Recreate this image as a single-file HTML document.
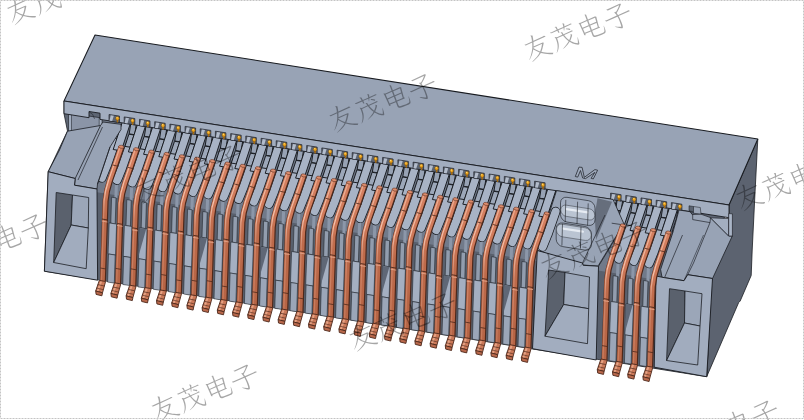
<!DOCTYPE html><html><head><meta charset="utf-8"><style>html,body{margin:0;padding:0;background:#fff}svg{display:block}</style></head><body><svg width="804" height="420" viewBox="0 0 804 420">
<defs><linearGradient id="cg" x1="0" y1="0" x2="0" y2="1"><stop offset="0" stop-color="#d58061"/><stop offset="0.28" stop-color="#cf7959"/><stop offset="0.5" stop-color="#bd6a4a"/><stop offset="1" stop-color="#b66445"/></linearGradient><linearGradient id="ch" x1="0" y1="0" x2="0" y2="1"><stop offset="0" stop-color="#eaa88c"/><stop offset="0.3" stop-color="#f4c4ae"/><stop offset="0.5" stop-color="#d0866a"/><stop offset="1" stop-color="#c67a5b"/></linearGradient></defs>
<rect width="804" height="420" fill="#fff"/>
<polygon points="729.0,205.0 757.8,139.0 755.0,193.0 752.2,250.0 751.2,275.5 740.2,301.0 738.7,302.5 706.7,376.7 711.5,280.0 716.0,240.0 729.0,217.0" fill="#5c6370" stroke="#181b20" stroke-width="0.78" stroke-linejoin="round" />
<polygon points="64.0,101.0 729.0,205.0 716.0,240.0 711.5,280.0 706.7,376.7 44.4,271.2 48.2,171.7 67.5,131.0 64.0,113.7" fill="#5d6573" stroke="#181b20" stroke-width="0.78" stroke-linejoin="round" />
<polygon points="95.0,35.0 757.8,139.0 729.0,205.0 64.0,101.0" fill="#98a3b5" stroke="#181b20" stroke-width="1.04" stroke-linejoin="round" />
<polygon points="97.0,166.2 538.0,235.2 538.0,349.4 97.0,279.5" fill="#59606d" stroke="none" stroke-width="0.7" stroke-linejoin="round" />
<polygon points="97.0,118.2 538.0,187.2 538.0,261.2 97.0,192.2" fill="#717a8a" stroke="none" stroke-width="0.7" stroke-linejoin="round" />
<polygon points="598.0,244.6 656.0,253.7 656.0,368.1 598.0,358.9" fill="#59606d" stroke="none" stroke-width="0.7" stroke-linejoin="round" />
<polygon points="598.0,196.6 656.0,205.7 656.0,279.7 598.0,270.6" fill="#717a8a" stroke="none" stroke-width="0.7" stroke-linejoin="round" />
<polygon points="115.0,181.6 118.0,182.1 117.4,198.1 114.4,197.6" fill="#8c97a9" stroke="none" stroke-width="0" stroke-linejoin="round" />
<polygon points="111.6,197.2 116.0,197.9 115.2,223.9 110.8,223.2" fill="#929dae" stroke="#181b20" stroke-width="0.52" stroke-linejoin="round" />
<polygon points="109.2,222.9 116.6,224.1 115.5,255.1 108.1,253.9" fill="#a4afc1" stroke="#181b20" stroke-width="0.52" stroke-linejoin="round" />
<polygon points="108.5,254.0 115.2,255.0 114.3,283.1 107.6,282.1" fill="#9ba6b8" stroke="#181b20" stroke-width="0.52" stroke-linejoin="round" />
<polygon points="130.2,184.0 133.2,184.5 132.6,200.5 129.6,200.0" fill="#8c97a9" stroke="none" stroke-width="0" stroke-linejoin="round" />
<polygon points="126.8,199.6 131.2,200.3 130.4,226.3 126.0,225.6" fill="#929dae" stroke="#181b20" stroke-width="0.52" stroke-linejoin="round" />
<polygon points="124.4,225.3 131.8,226.5 130.7,257.5 123.3,256.3" fill="#a4afc1" stroke="#181b20" stroke-width="0.52" stroke-linejoin="round" />
<polygon points="123.7,256.4 130.4,257.4 129.5,285.5 122.8,284.5" fill="#9ba6b8" stroke="#181b20" stroke-width="0.52" stroke-linejoin="round" />
<polygon points="145.4,186.4 148.4,186.9 147.8,202.9 144.8,202.4" fill="#8c97a9" stroke="none" stroke-width="0" stroke-linejoin="round" />
<polygon points="142.0,201.9 146.4,202.6 145.6,228.6 141.2,227.9" fill="#929dae" stroke="#181b20" stroke-width="0.52" stroke-linejoin="round" />
<polygon points="139.6,227.7 147.0,228.9 145.9,259.9 138.5,258.7" fill="#a4afc1" stroke="#181b20" stroke-width="0.52" stroke-linejoin="round" />
<polygon points="138.9,258.8 145.6,259.8 144.7,287.9 138.0,286.9" fill="#9ba6b8" stroke="#181b20" stroke-width="0.52" stroke-linejoin="round" />
<polygon points="139.6,228.0 146.2,229.0 138.6,255.8" fill="#5f6776" stroke="none" stroke-width="0.7" stroke-linejoin="round" />
<polygon points="160.6,188.8 163.6,189.2 163.0,205.2 160.0,204.8" fill="#8c97a9" stroke="none" stroke-width="0" stroke-linejoin="round" />
<polygon points="157.2,204.3 161.6,205.0 160.8,231.0 156.4,230.3" fill="#929dae" stroke="#181b20" stroke-width="0.52" stroke-linejoin="round" />
<polygon points="154.8,230.1 162.2,231.2 161.1,262.2 153.7,261.1" fill="#a4afc1" stroke="#181b20" stroke-width="0.52" stroke-linejoin="round" />
<polygon points="154.1,261.1 160.8,262.2 159.9,290.3 153.2,289.2" fill="#9ba6b8" stroke="#181b20" stroke-width="0.52" stroke-linejoin="round" />
<polygon points="175.8,191.1 178.8,191.6 178.2,207.6 175.2,207.1" fill="#8c97a9" stroke="none" stroke-width="0" stroke-linejoin="round" />
<polygon points="172.4,206.7 176.8,207.4 176.0,233.4 171.6,232.7" fill="#929dae" stroke="#181b20" stroke-width="0.52" stroke-linejoin="round" />
<polygon points="170.0,232.5 177.4,233.6 176.3,264.6 168.9,263.5" fill="#a4afc1" stroke="#181b20" stroke-width="0.52" stroke-linejoin="round" />
<polygon points="169.3,263.5 176.0,264.6 175.1,292.7 168.4,291.6" fill="#9ba6b8" stroke="#181b20" stroke-width="0.52" stroke-linejoin="round" />
<polygon points="191.0,193.5 194.0,194.0 193.4,210.0 190.4,209.5" fill="#8c97a9" stroke="none" stroke-width="0" stroke-linejoin="round" />
<polygon points="187.6,209.1 192.0,209.8 191.2,235.8 186.8,235.1" fill="#929dae" stroke="#181b20" stroke-width="0.52" stroke-linejoin="round" />
<polygon points="185.2,234.8 192.6,236.0 191.5,267.0 184.1,265.8" fill="#a4afc1" stroke="#181b20" stroke-width="0.52" stroke-linejoin="round" />
<polygon points="184.5,265.9 191.2,267.0 190.3,295.1 183.6,294.0" fill="#9ba6b8" stroke="#181b20" stroke-width="0.52" stroke-linejoin="round" />
<polygon points="206.2,195.9 209.2,196.4 208.6,212.4 205.6,211.9" fill="#8c97a9" stroke="none" stroke-width="0" stroke-linejoin="round" />
<polygon points="202.8,211.5 207.2,212.2 206.4,238.2 202.0,237.5" fill="#929dae" stroke="#181b20" stroke-width="0.52" stroke-linejoin="round" />
<polygon points="200.4,237.2 207.8,238.4 206.7,269.4 199.3,268.2" fill="#a4afc1" stroke="#181b20" stroke-width="0.52" stroke-linejoin="round" />
<polygon points="199.7,268.3 206.4,269.3 205.5,297.4 198.8,296.4" fill="#9ba6b8" stroke="#181b20" stroke-width="0.52" stroke-linejoin="round" />
<polygon points="200.4,237.5 207.0,238.5 199.4,265.3" fill="#5f6776" stroke="none" stroke-width="0.7" stroke-linejoin="round" />
<polygon points="221.4,198.3 224.4,198.8 223.8,214.8 220.8,214.3" fill="#8c97a9" stroke="none" stroke-width="0" stroke-linejoin="round" />
<polygon points="218.0,213.9 222.4,214.5 221.6,240.5 217.2,239.9" fill="#929dae" stroke="#181b20" stroke-width="0.52" stroke-linejoin="round" />
<polygon points="215.6,239.6 223.0,240.8 221.9,271.8 214.5,270.6" fill="#a4afc1" stroke="#181b20" stroke-width="0.52" stroke-linejoin="round" />
<polygon points="214.9,270.7 221.6,271.7 220.7,299.8 214.0,298.8" fill="#9ba6b8" stroke="#181b20" stroke-width="0.52" stroke-linejoin="round" />
<polygon points="236.6,200.7 239.6,201.1 239.0,217.1 236.0,216.7" fill="#8c97a9" stroke="none" stroke-width="0" stroke-linejoin="round" />
<polygon points="233.2,216.2 237.6,216.9 236.8,242.9 232.4,242.2" fill="#929dae" stroke="#181b20" stroke-width="0.52" stroke-linejoin="round" />
<polygon points="230.8,242.0 238.2,243.1 237.1,274.1 229.7,273.0" fill="#a4afc1" stroke="#181b20" stroke-width="0.52" stroke-linejoin="round" />
<polygon points="230.1,273.0 236.8,274.1 235.9,302.2 229.2,301.1" fill="#9ba6b8" stroke="#181b20" stroke-width="0.52" stroke-linejoin="round" />
<polygon points="251.8,203.0 254.8,203.5 254.2,219.5 251.2,219.0" fill="#8c97a9" stroke="none" stroke-width="0" stroke-linejoin="round" />
<polygon points="248.4,218.6 252.8,219.3 252.0,245.3 247.6,244.6" fill="#929dae" stroke="#181b20" stroke-width="0.52" stroke-linejoin="round" />
<polygon points="246.0,244.4 253.4,245.5 252.3,276.5 244.9,275.4" fill="#a4afc1" stroke="#181b20" stroke-width="0.52" stroke-linejoin="round" />
<polygon points="245.3,275.4 252.0,276.5 251.1,304.6 244.4,303.5" fill="#9ba6b8" stroke="#181b20" stroke-width="0.52" stroke-linejoin="round" />
<polygon points="267.0,205.4 270.0,205.9 269.4,221.9 266.4,221.4" fill="#8c97a9" stroke="none" stroke-width="0" stroke-linejoin="round" />
<polygon points="263.6,221.0 268.0,221.7 267.2,247.7 262.8,247.0" fill="#929dae" stroke="#181b20" stroke-width="0.52" stroke-linejoin="round" />
<polygon points="261.2,246.7 268.6,247.9 267.5,278.9 260.1,277.7" fill="#a4afc1" stroke="#181b20" stroke-width="0.52" stroke-linejoin="round" />
<polygon points="260.5,277.8 267.2,278.9 266.3,307.0 259.6,305.9" fill="#9ba6b8" stroke="#181b20" stroke-width="0.52" stroke-linejoin="round" />
<polygon points="261.2,247.0 267.8,248.0 260.2,274.8" fill="#5f6776" stroke="none" stroke-width="0.7" stroke-linejoin="round" />
<polygon points="282.2,207.8 285.2,208.3 284.6,224.3 281.6,223.8" fill="#8c97a9" stroke="none" stroke-width="0" stroke-linejoin="round" />
<polygon points="278.8,223.4 283.2,224.1 282.4,250.1 278.0,249.4" fill="#929dae" stroke="#181b20" stroke-width="0.52" stroke-linejoin="round" />
<polygon points="276.4,249.1 283.8,250.3 282.7,281.3 275.3,280.1" fill="#a4afc1" stroke="#181b20" stroke-width="0.52" stroke-linejoin="round" />
<polygon points="275.7,280.2 282.4,281.2 281.5,309.3 274.8,308.3" fill="#9ba6b8" stroke="#181b20" stroke-width="0.52" stroke-linejoin="round" />
<polygon points="297.4,210.2 300.4,210.7 299.8,226.7 296.8,226.2" fill="#8c97a9" stroke="none" stroke-width="0" stroke-linejoin="round" />
<polygon points="294.0,225.8 298.4,226.4 297.6,252.4 293.2,251.8" fill="#929dae" stroke="#181b20" stroke-width="0.52" stroke-linejoin="round" />
<polygon points="291.6,251.5 299.0,252.7 297.9,283.7 290.5,282.5" fill="#a4afc1" stroke="#181b20" stroke-width="0.52" stroke-linejoin="round" />
<polygon points="290.9,282.6 297.6,283.6 296.7,311.7 290.0,310.7" fill="#9ba6b8" stroke="#181b20" stroke-width="0.52" stroke-linejoin="round" />
<polygon points="312.6,212.6 315.6,213.0 315.0,229.0 312.0,228.6" fill="#8c97a9" stroke="none" stroke-width="0" stroke-linejoin="round" />
<polygon points="309.2,228.1 313.6,228.8 312.8,254.8 308.4,254.1" fill="#929dae" stroke="#181b20" stroke-width="0.52" stroke-linejoin="round" />
<polygon points="306.8,253.9 314.2,255.0 313.1,286.0 305.7,284.9" fill="#a4afc1" stroke="#181b20" stroke-width="0.52" stroke-linejoin="round" />
<polygon points="306.1,284.9 312.8,286.0 311.9,314.1 305.2,313.0" fill="#9ba6b8" stroke="#181b20" stroke-width="0.52" stroke-linejoin="round" />
<polygon points="327.8,215.0 330.8,215.4 330.2,231.4 327.2,231.0" fill="#8c97a9" stroke="none" stroke-width="0" stroke-linejoin="round" />
<polygon points="324.4,230.5 328.8,231.2 328.0,257.2 323.6,256.5" fill="#929dae" stroke="#181b20" stroke-width="0.52" stroke-linejoin="round" />
<polygon points="322.0,256.3 329.4,257.4 328.3,288.4 320.9,287.3" fill="#a4afc1" stroke="#181b20" stroke-width="0.52" stroke-linejoin="round" />
<polygon points="321.3,287.3 328.0,288.4 327.1,316.5 320.4,315.4" fill="#9ba6b8" stroke="#181b20" stroke-width="0.52" stroke-linejoin="round" />
<polygon points="322.0,256.5 328.6,257.5 321.0,284.3" fill="#5f6776" stroke="none" stroke-width="0.7" stroke-linejoin="round" />
<polygon points="343.0,217.3 346.0,217.8 345.4,233.8 342.4,233.3" fill="#8c97a9" stroke="none" stroke-width="0" stroke-linejoin="round" />
<polygon points="339.6,232.9 344.0,233.6 343.2,259.6 338.8,258.9" fill="#929dae" stroke="#181b20" stroke-width="0.52" stroke-linejoin="round" />
<polygon points="337.2,258.6 344.6,259.8 343.5,290.8 336.1,289.6" fill="#a4afc1" stroke="#181b20" stroke-width="0.52" stroke-linejoin="round" />
<polygon points="336.5,289.7 343.2,290.8 342.3,318.9 335.6,317.8" fill="#9ba6b8" stroke="#181b20" stroke-width="0.52" stroke-linejoin="round" />
<polygon points="358.2,219.7 361.2,220.2 360.6,236.2 357.6,235.7" fill="#8c97a9" stroke="none" stroke-width="0" stroke-linejoin="round" />
<polygon points="354.8,235.3 359.2,236.0 358.4,262.0 354.0,261.3" fill="#929dae" stroke="#181b20" stroke-width="0.52" stroke-linejoin="round" />
<polygon points="352.4,261.0 359.8,262.2 358.7,293.2 351.3,292.0" fill="#a4afc1" stroke="#181b20" stroke-width="0.52" stroke-linejoin="round" />
<polygon points="351.7,292.1 358.4,293.1 357.5,321.2 350.8,320.2" fill="#9ba6b8" stroke="#181b20" stroke-width="0.52" stroke-linejoin="round" />
<polygon points="373.4,222.1 376.4,222.6 375.8,238.6 372.8,238.1" fill="#8c97a9" stroke="none" stroke-width="0" stroke-linejoin="round" />
<polygon points="370.0,237.7 374.4,238.3 373.6,264.3 369.2,263.7" fill="#929dae" stroke="#181b20" stroke-width="0.52" stroke-linejoin="round" />
<polygon points="367.6,263.4 375.0,264.6 373.9,295.6 366.5,294.4" fill="#a4afc1" stroke="#181b20" stroke-width="0.52" stroke-linejoin="round" />
<polygon points="366.9,294.5 373.6,295.5 372.7,323.6 366.0,322.6" fill="#9ba6b8" stroke="#181b20" stroke-width="0.52" stroke-linejoin="round" />
<polygon points="388.6,224.5 391.6,224.9 391.0,240.9 388.0,240.5" fill="#8c97a9" stroke="none" stroke-width="0" stroke-linejoin="round" />
<polygon points="385.2,240.0 389.6,240.7 388.8,266.7 384.4,266.0" fill="#929dae" stroke="#181b20" stroke-width="0.52" stroke-linejoin="round" />
<polygon points="382.8,265.8 390.2,266.9 389.1,297.9 381.7,296.8" fill="#a4afc1" stroke="#181b20" stroke-width="0.52" stroke-linejoin="round" />
<polygon points="382.1,296.8 388.8,297.9 387.9,326.0 381.2,324.9" fill="#9ba6b8" stroke="#181b20" stroke-width="0.52" stroke-linejoin="round" />
<polygon points="382.8,266.0 389.4,267.0 381.8,293.8" fill="#5f6776" stroke="none" stroke-width="0.7" stroke-linejoin="round" />
<polygon points="403.8,226.9 406.8,227.3 406.2,243.3 403.2,242.9" fill="#8c97a9" stroke="none" stroke-width="0" stroke-linejoin="round" />
<polygon points="400.4,242.4 404.8,243.1 404.0,269.1 399.6,268.4" fill="#929dae" stroke="#181b20" stroke-width="0.52" stroke-linejoin="round" />
<polygon points="398.0,268.2 405.4,269.3 404.3,300.3 396.9,299.2" fill="#a4afc1" stroke="#181b20" stroke-width="0.52" stroke-linejoin="round" />
<polygon points="397.3,299.2 404.0,300.3 403.1,328.4 396.4,327.3" fill="#9ba6b8" stroke="#181b20" stroke-width="0.52" stroke-linejoin="round" />
<polygon points="419.0,229.2 422.0,229.7 421.4,245.7 418.4,245.2" fill="#8c97a9" stroke="none" stroke-width="0" stroke-linejoin="round" />
<polygon points="415.6,244.8 420.0,245.5 419.2,271.5 414.8,270.8" fill="#929dae" stroke="#181b20" stroke-width="0.52" stroke-linejoin="round" />
<polygon points="413.2,270.5 420.6,271.7 419.5,302.7 412.1,301.5" fill="#a4afc1" stroke="#181b20" stroke-width="0.52" stroke-linejoin="round" />
<polygon points="412.5,301.6 419.2,302.7 418.3,330.8 411.6,329.7" fill="#9ba6b8" stroke="#181b20" stroke-width="0.52" stroke-linejoin="round" />
<polygon points="434.2,231.6 437.2,232.1 436.6,248.1 433.6,247.6" fill="#8c97a9" stroke="none" stroke-width="0" stroke-linejoin="round" />
<polygon points="430.8,247.2 435.2,247.9 434.4,273.9 430.0,273.2" fill="#929dae" stroke="#181b20" stroke-width="0.52" stroke-linejoin="round" />
<polygon points="428.4,272.9 435.8,274.1 434.7,305.1 427.3,303.9" fill="#a4afc1" stroke="#181b20" stroke-width="0.52" stroke-linejoin="round" />
<polygon points="427.7,304.0 434.4,305.0 433.5,333.1 426.8,332.1" fill="#9ba6b8" stroke="#181b20" stroke-width="0.52" stroke-linejoin="round" />
<polygon points="449.4,234.0 452.4,234.5 451.8,250.5 448.8,250.0" fill="#8c97a9" stroke="none" stroke-width="0" stroke-linejoin="round" />
<polygon points="446.0,249.6 450.4,250.2 449.6,276.2 445.2,275.6" fill="#929dae" stroke="#181b20" stroke-width="0.52" stroke-linejoin="round" />
<polygon points="443.6,275.3 451.0,276.5 449.9,307.5 442.5,306.3" fill="#a4afc1" stroke="#181b20" stroke-width="0.52" stroke-linejoin="round" />
<polygon points="442.9,306.4 449.6,307.4 448.7,335.5 442.0,334.5" fill="#9ba6b8" stroke="#181b20" stroke-width="0.52" stroke-linejoin="round" />
<polygon points="443.6,275.6 450.2,276.6 442.6,303.4" fill="#5f6776" stroke="none" stroke-width="0.7" stroke-linejoin="round" />
<polygon points="464.6,236.4 467.6,236.8 467.0,252.8 464.0,252.4" fill="#8c97a9" stroke="none" stroke-width="0" stroke-linejoin="round" />
<polygon points="461.2,251.9 465.6,252.6 464.8,278.6 460.4,277.9" fill="#929dae" stroke="#181b20" stroke-width="0.52" stroke-linejoin="round" />
<polygon points="458.8,277.7 466.2,278.8 465.1,309.8 457.7,308.7" fill="#a4afc1" stroke="#181b20" stroke-width="0.52" stroke-linejoin="round" />
<polygon points="458.1,308.7 464.8,309.8 463.9,337.9 457.2,336.8" fill="#9ba6b8" stroke="#181b20" stroke-width="0.52" stroke-linejoin="round" />
<polygon points="479.8,238.8 482.8,239.2 482.2,255.2 479.2,254.8" fill="#8c97a9" stroke="none" stroke-width="0" stroke-linejoin="round" />
<polygon points="476.4,254.3 480.8,255.0 480.0,281.0 475.6,280.3" fill="#929dae" stroke="#181b20" stroke-width="0.52" stroke-linejoin="round" />
<polygon points="474.0,280.1 481.4,281.2 480.3,312.2 472.9,311.1" fill="#a4afc1" stroke="#181b20" stroke-width="0.52" stroke-linejoin="round" />
<polygon points="473.3,311.1 480.0,312.2 479.1,340.3 472.4,339.2" fill="#9ba6b8" stroke="#181b20" stroke-width="0.52" stroke-linejoin="round" />
<polygon points="495.0,241.1 498.0,241.6 497.4,257.6 494.4,257.1" fill="#8c97a9" stroke="none" stroke-width="0" stroke-linejoin="round" />
<polygon points="491.6,256.7 496.0,257.4 495.2,283.4 490.8,282.7" fill="#929dae" stroke="#181b20" stroke-width="0.52" stroke-linejoin="round" />
<polygon points="489.2,282.4 496.6,283.6 495.5,314.6 488.1,313.4" fill="#a4afc1" stroke="#181b20" stroke-width="0.52" stroke-linejoin="round" />
<polygon points="488.5,313.5 495.2,314.6 494.3,342.7 487.6,341.6" fill="#9ba6b8" stroke="#181b20" stroke-width="0.52" stroke-linejoin="round" />
<polygon points="510.2,243.5 513.2,244.0 512.6,260.0 509.6,259.5" fill="#8c97a9" stroke="none" stroke-width="0" stroke-linejoin="round" />
<polygon points="506.8,259.1 511.2,259.8 510.4,285.8 506.0,285.1" fill="#929dae" stroke="#181b20" stroke-width="0.52" stroke-linejoin="round" />
<polygon points="504.4,284.8 511.8,286.0 510.7,317.0 503.3,315.8" fill="#a4afc1" stroke="#181b20" stroke-width="0.52" stroke-linejoin="round" />
<polygon points="503.7,315.9 510.4,316.9 509.5,345.0 502.8,344.0" fill="#9ba6b8" stroke="#181b20" stroke-width="0.52" stroke-linejoin="round" />
<polygon points="504.4,285.1 511.0,286.1 503.4,312.9" fill="#5f6776" stroke="none" stroke-width="0.7" stroke-linejoin="round" />
<polygon points="525.4,245.9 528.4,246.4 527.8,262.4 524.8,261.9" fill="#8c97a9" stroke="none" stroke-width="0" stroke-linejoin="round" />
<polygon points="522.0,261.5 526.4,262.1 525.6,288.1 521.2,287.5" fill="#929dae" stroke="#181b20" stroke-width="0.52" stroke-linejoin="round" />
<polygon points="519.6,287.2 527.0,288.4 525.9,319.4 518.5,318.2" fill="#a4afc1" stroke="#181b20" stroke-width="0.52" stroke-linejoin="round" />
<polygon points="518.9,318.3 525.6,319.3 524.7,347.4 518.0,346.4" fill="#9ba6b8" stroke="#181b20" stroke-width="0.52" stroke-linejoin="round" />
<polygon points="540.6,248.3 543.6,248.7 543.0,264.7 540.0,264.3" fill="#8c97a9" stroke="none" stroke-width="0" stroke-linejoin="round" />
<polygon points="537.2,263.8 541.6,264.5 540.8,290.5 536.4,289.8" fill="#929dae" stroke="#181b20" stroke-width="0.52" stroke-linejoin="round" />
<polygon points="534.8,289.6 542.2,290.7 541.1,321.7 533.7,320.6" fill="#a4afc1" stroke="#181b20" stroke-width="0.52" stroke-linejoin="round" />
<polygon points="534.1,320.6 540.8,321.7 539.9,349.8 533.2,348.7" fill="#9ba6b8" stroke="#181b20" stroke-width="0.52" stroke-linejoin="round" />
<polygon points="616.6,260.2 619.6,260.6 619.0,276.6 616.0,276.2" fill="#8c97a9" stroke="none" stroke-width="0" stroke-linejoin="round" />
<polygon points="613.2,275.7 617.6,276.4 616.8,302.4 612.4,301.7" fill="#929dae" stroke="#181b20" stroke-width="0.52" stroke-linejoin="round" />
<polygon points="610.8,301.5 618.2,302.6 617.1,333.6 609.7,332.5" fill="#a4afc1" stroke="#181b20" stroke-width="0.52" stroke-linejoin="round" />
<polygon points="610.1,332.6 616.8,333.6 615.9,361.7 609.2,360.7" fill="#9ba6b8" stroke="#181b20" stroke-width="0.52" stroke-linejoin="round" />
<polygon points="631.8,262.6 634.8,263.0 634.2,279.0 631.2,278.6" fill="#8c97a9" stroke="none" stroke-width="0" stroke-linejoin="round" />
<polygon points="628.4,278.1 632.8,278.8 632.0,304.8 627.6,304.1" fill="#929dae" stroke="#181b20" stroke-width="0.52" stroke-linejoin="round" />
<polygon points="626.0,303.9 633.4,305.0 632.3,336.0 624.9,334.9" fill="#a4afc1" stroke="#181b20" stroke-width="0.52" stroke-linejoin="round" />
<polygon points="625.3,334.9 632.0,336.0 631.1,364.1 624.4,363.0" fill="#9ba6b8" stroke="#181b20" stroke-width="0.52" stroke-linejoin="round" />
<polygon points="626.0,304.1 632.6,305.1 625.0,331.9" fill="#5f6776" stroke="none" stroke-width="0.7" stroke-linejoin="round" />
<polygon points="647.0,264.9 650.0,265.4 649.4,281.4 646.4,280.9" fill="#8c97a9" stroke="none" stroke-width="0" stroke-linejoin="round" />
<polygon points="643.6,280.5 648.0,281.2 647.2,307.2 642.8,306.5" fill="#929dae" stroke="#181b20" stroke-width="0.52" stroke-linejoin="round" />
<polygon points="641.2,306.2 648.6,307.4 647.5,338.4 640.1,337.2" fill="#a4afc1" stroke="#181b20" stroke-width="0.52" stroke-linejoin="round" />
<polygon points="640.5,337.3 647.2,338.4 646.3,366.5 639.6,365.4" fill="#9ba6b8" stroke="#181b20" stroke-width="0.52" stroke-linejoin="round" />
<polygon points="662.2,267.3 665.2,267.8 664.6,283.8 661.6,283.3" fill="#8c97a9" stroke="none" stroke-width="0" stroke-linejoin="round" />
<polygon points="658.8,282.9 663.2,283.6 662.4,309.6 658.0,308.9" fill="#929dae" stroke="#181b20" stroke-width="0.52" stroke-linejoin="round" />
<polygon points="656.4,308.6 663.8,309.8 662.7,340.8 655.3,339.6" fill="#a4afc1" stroke="#181b20" stroke-width="0.52" stroke-linejoin="round" />
<polygon points="655.7,339.7 662.4,340.7 661.5,368.8 654.8,367.8" fill="#9ba6b8" stroke="#181b20" stroke-width="0.52" stroke-linejoin="round" />
<path d="M114.8 142.6 L106.8 165.6 Q103.4 174.1 101.8 177.8" fill="none" stroke="#181b20" stroke-width="9.5" stroke-linecap="round" stroke-linejoin="round"/>
<path d="M114.8 142.6 L106.8 165.6 Q103.4 174.1 101.8 177.8" fill="none" stroke="#a8b3c5" stroke-width="8.0" stroke-linecap="round" stroke-linejoin="round"/>
<path d="M130.0 145.0 L122.0 168.0 Q118.6 176.5 117.0 180.2" fill="none" stroke="#181b20" stroke-width="9.5" stroke-linecap="round" stroke-linejoin="round"/>
<path d="M130.0 145.0 L122.0 168.0 Q118.6 176.5 117.0 180.2" fill="none" stroke="#a8b3c5" stroke-width="8.0" stroke-linecap="round" stroke-linejoin="round"/>
<path d="M145.2 147.4 L137.2 170.4 Q133.8 178.9 132.2 182.6" fill="none" stroke="#181b20" stroke-width="9.5" stroke-linecap="round" stroke-linejoin="round"/>
<path d="M145.2 147.4 L137.2 170.4 Q133.8 178.9 132.2 182.6" fill="none" stroke="#a8b3c5" stroke-width="8.0" stroke-linecap="round" stroke-linejoin="round"/>
<path d="M160.4 149.8 L152.4 172.8 Q149.0 181.3 147.4 185.0" fill="none" stroke="#181b20" stroke-width="9.5" stroke-linecap="round" stroke-linejoin="round"/>
<path d="M160.4 149.8 L152.4 172.8 Q149.0 181.3 147.4 185.0" fill="none" stroke="#a8b3c5" stroke-width="8.0" stroke-linecap="round" stroke-linejoin="round"/>
<path d="M175.6 152.1 L167.6 175.1 Q164.2 183.6 162.6 187.3" fill="none" stroke="#181b20" stroke-width="9.5" stroke-linecap="round" stroke-linejoin="round"/>
<path d="M175.6 152.1 L167.6 175.1 Q164.2 183.6 162.6 187.3" fill="none" stroke="#a8b3c5" stroke-width="8.0" stroke-linecap="round" stroke-linejoin="round"/>
<path d="M190.8 154.5 L182.8 177.5 Q179.4 186.0 177.8 189.7" fill="none" stroke="#181b20" stroke-width="9.5" stroke-linecap="round" stroke-linejoin="round"/>
<path d="M190.8 154.5 L182.8 177.5 Q179.4 186.0 177.8 189.7" fill="none" stroke="#a8b3c5" stroke-width="8.0" stroke-linecap="round" stroke-linejoin="round"/>
<path d="M206.0 156.9 L198.0 179.9 Q194.6 188.4 193.0 192.1" fill="none" stroke="#181b20" stroke-width="9.5" stroke-linecap="round" stroke-linejoin="round"/>
<path d="M206.0 156.9 L198.0 179.9 Q194.6 188.4 193.0 192.1" fill="none" stroke="#a8b3c5" stroke-width="8.0" stroke-linecap="round" stroke-linejoin="round"/>
<path d="M221.2 159.3 L213.2 182.3 Q209.8 190.8 208.2 194.5" fill="none" stroke="#181b20" stroke-width="9.5" stroke-linecap="round" stroke-linejoin="round"/>
<path d="M221.2 159.3 L213.2 182.3 Q209.8 190.8 208.2 194.5" fill="none" stroke="#a8b3c5" stroke-width="8.0" stroke-linecap="round" stroke-linejoin="round"/>
<path d="M236.4 161.7 L228.4 184.7 Q225.0 193.2 223.4 196.9" fill="none" stroke="#181b20" stroke-width="9.5" stroke-linecap="round" stroke-linejoin="round"/>
<path d="M236.4 161.7 L228.4 184.7 Q225.0 193.2 223.4 196.9" fill="none" stroke="#a8b3c5" stroke-width="8.0" stroke-linecap="round" stroke-linejoin="round"/>
<path d="M251.6 164.0 L243.6 187.0 Q240.2 195.5 238.6 199.2" fill="none" stroke="#181b20" stroke-width="9.5" stroke-linecap="round" stroke-linejoin="round"/>
<path d="M251.6 164.0 L243.6 187.0 Q240.2 195.5 238.6 199.2" fill="none" stroke="#a8b3c5" stroke-width="8.0" stroke-linecap="round" stroke-linejoin="round"/>
<path d="M266.8 166.4 L258.8 189.4 Q255.4 197.9 253.8 201.6" fill="none" stroke="#181b20" stroke-width="9.5" stroke-linecap="round" stroke-linejoin="round"/>
<path d="M266.8 166.4 L258.8 189.4 Q255.4 197.9 253.8 201.6" fill="none" stroke="#a8b3c5" stroke-width="8.0" stroke-linecap="round" stroke-linejoin="round"/>
<path d="M282.0 168.8 L274.0 191.8 Q270.6 200.3 269.0 204.0" fill="none" stroke="#181b20" stroke-width="9.5" stroke-linecap="round" stroke-linejoin="round"/>
<path d="M282.0 168.8 L274.0 191.8 Q270.6 200.3 269.0 204.0" fill="none" stroke="#a8b3c5" stroke-width="8.0" stroke-linecap="round" stroke-linejoin="round"/>
<path d="M297.2 171.2 L289.2 194.2 Q285.8 202.7 284.2 206.4" fill="none" stroke="#181b20" stroke-width="9.5" stroke-linecap="round" stroke-linejoin="round"/>
<path d="M297.2 171.2 L289.2 194.2 Q285.8 202.7 284.2 206.4" fill="none" stroke="#a8b3c5" stroke-width="8.0" stroke-linecap="round" stroke-linejoin="round"/>
<path d="M312.4 173.6 L304.4 196.6 Q301.0 205.1 299.4 208.8" fill="none" stroke="#181b20" stroke-width="9.5" stroke-linecap="round" stroke-linejoin="round"/>
<path d="M312.4 173.6 L304.4 196.6 Q301.0 205.1 299.4 208.8" fill="none" stroke="#a8b3c5" stroke-width="8.0" stroke-linecap="round" stroke-linejoin="round"/>
<path d="M327.6 175.9 L319.6 198.9 Q316.2 207.4 314.6 211.1" fill="none" stroke="#181b20" stroke-width="9.5" stroke-linecap="round" stroke-linejoin="round"/>
<path d="M327.6 175.9 L319.6 198.9 Q316.2 207.4 314.6 211.1" fill="none" stroke="#a8b3c5" stroke-width="8.0" stroke-linecap="round" stroke-linejoin="round"/>
<path d="M342.8 178.3 L334.8 201.3 Q331.4 209.8 329.8 213.5" fill="none" stroke="#181b20" stroke-width="9.5" stroke-linecap="round" stroke-linejoin="round"/>
<path d="M342.8 178.3 L334.8 201.3 Q331.4 209.8 329.8 213.5" fill="none" stroke="#a8b3c5" stroke-width="8.0" stroke-linecap="round" stroke-linejoin="round"/>
<path d="M358.0 180.7 L350.0 203.7 Q346.6 212.2 345.0 215.9" fill="none" stroke="#181b20" stroke-width="9.5" stroke-linecap="round" stroke-linejoin="round"/>
<path d="M358.0 180.7 L350.0 203.7 Q346.6 212.2 345.0 215.9" fill="none" stroke="#a8b3c5" stroke-width="8.0" stroke-linecap="round" stroke-linejoin="round"/>
<path d="M373.2 183.1 L365.2 206.1 Q361.8 214.6 360.2 218.3" fill="none" stroke="#181b20" stroke-width="9.5" stroke-linecap="round" stroke-linejoin="round"/>
<path d="M373.2 183.1 L365.2 206.1 Q361.8 214.6 360.2 218.3" fill="none" stroke="#a8b3c5" stroke-width="8.0" stroke-linecap="round" stroke-linejoin="round"/>
<path d="M388.4 185.5 L380.4 208.5 Q377.0 217.0 375.4 220.7" fill="none" stroke="#181b20" stroke-width="9.5" stroke-linecap="round" stroke-linejoin="round"/>
<path d="M388.4 185.5 L380.4 208.5 Q377.0 217.0 375.4 220.7" fill="none" stroke="#a8b3c5" stroke-width="8.0" stroke-linecap="round" stroke-linejoin="round"/>
<path d="M403.6 187.8 L395.6 210.8 Q392.2 219.3 390.6 223.0" fill="none" stroke="#181b20" stroke-width="9.5" stroke-linecap="round" stroke-linejoin="round"/>
<path d="M403.6 187.8 L395.6 210.8 Q392.2 219.3 390.6 223.0" fill="none" stroke="#a8b3c5" stroke-width="8.0" stroke-linecap="round" stroke-linejoin="round"/>
<path d="M418.8 190.2 L410.8 213.2 Q407.4 221.7 405.8 225.4" fill="none" stroke="#181b20" stroke-width="9.5" stroke-linecap="round" stroke-linejoin="round"/>
<path d="M418.8 190.2 L410.8 213.2 Q407.4 221.7 405.8 225.4" fill="none" stroke="#a8b3c5" stroke-width="8.0" stroke-linecap="round" stroke-linejoin="round"/>
<path d="M434.0 192.6 L426.0 215.6 Q422.6 224.1 421.0 227.8" fill="none" stroke="#181b20" stroke-width="9.5" stroke-linecap="round" stroke-linejoin="round"/>
<path d="M434.0 192.6 L426.0 215.6 Q422.6 224.1 421.0 227.8" fill="none" stroke="#a8b3c5" stroke-width="8.0" stroke-linecap="round" stroke-linejoin="round"/>
<path d="M449.2 195.0 L441.2 218.0 Q437.8 226.5 436.2 230.2" fill="none" stroke="#181b20" stroke-width="9.5" stroke-linecap="round" stroke-linejoin="round"/>
<path d="M449.2 195.0 L441.2 218.0 Q437.8 226.5 436.2 230.2" fill="none" stroke="#a8b3c5" stroke-width="8.0" stroke-linecap="round" stroke-linejoin="round"/>
<path d="M464.4 197.4 L456.4 220.4 Q453.0 228.9 451.4 232.6" fill="none" stroke="#181b20" stroke-width="9.5" stroke-linecap="round" stroke-linejoin="round"/>
<path d="M464.4 197.4 L456.4 220.4 Q453.0 228.9 451.4 232.6" fill="none" stroke="#a8b3c5" stroke-width="8.0" stroke-linecap="round" stroke-linejoin="round"/>
<path d="M479.6 199.7 L471.6 222.7 Q468.2 231.2 466.6 234.9" fill="none" stroke="#181b20" stroke-width="9.5" stroke-linecap="round" stroke-linejoin="round"/>
<path d="M479.6 199.7 L471.6 222.7 Q468.2 231.2 466.6 234.9" fill="none" stroke="#a8b3c5" stroke-width="8.0" stroke-linecap="round" stroke-linejoin="round"/>
<path d="M494.8 202.1 L486.8 225.1 Q483.4 233.6 481.8 237.3" fill="none" stroke="#181b20" stroke-width="9.5" stroke-linecap="round" stroke-linejoin="round"/>
<path d="M494.8 202.1 L486.8 225.1 Q483.4 233.6 481.8 237.3" fill="none" stroke="#a8b3c5" stroke-width="8.0" stroke-linecap="round" stroke-linejoin="round"/>
<path d="M510.0 204.5 L502.0 227.5 Q498.6 236.0 497.0 239.7" fill="none" stroke="#181b20" stroke-width="9.5" stroke-linecap="round" stroke-linejoin="round"/>
<path d="M510.0 204.5 L502.0 227.5 Q498.6 236.0 497.0 239.7" fill="none" stroke="#a8b3c5" stroke-width="8.0" stroke-linecap="round" stroke-linejoin="round"/>
<path d="M525.2 206.9 L517.2 229.9 Q513.8 238.4 512.2 242.1" fill="none" stroke="#181b20" stroke-width="9.5" stroke-linecap="round" stroke-linejoin="round"/>
<path d="M525.2 206.9 L517.2 229.9 Q513.8 238.4 512.2 242.1" fill="none" stroke="#a8b3c5" stroke-width="8.0" stroke-linecap="round" stroke-linejoin="round"/>
<path d="M540.4 209.3 L532.4 232.3 Q529.0 240.8 527.4 244.5" fill="none" stroke="#181b20" stroke-width="9.5" stroke-linecap="round" stroke-linejoin="round"/>
<path d="M540.4 209.3 L532.4 232.3 Q529.0 240.8 527.4 244.5" fill="none" stroke="#a8b3c5" stroke-width="8.0" stroke-linecap="round" stroke-linejoin="round"/>
<path d="M555.6 211.6 L547.6 234.6 Q544.2 243.1 542.6 246.8" fill="none" stroke="#181b20" stroke-width="9.5" stroke-linecap="round" stroke-linejoin="round"/>
<path d="M555.6 211.6 L547.6 234.6 Q544.2 243.1 542.6 246.8" fill="none" stroke="#a8b3c5" stroke-width="8.0" stroke-linecap="round" stroke-linejoin="round"/>
<path d="M631.6 223.6 L623.6 246.6 Q620.2 255.1 618.6 258.8" fill="none" stroke="#181b20" stroke-width="9.5" stroke-linecap="round" stroke-linejoin="round"/>
<path d="M631.6 223.6 L623.6 246.6 Q620.2 255.1 618.6 258.8" fill="none" stroke="#a8b3c5" stroke-width="8.0" stroke-linecap="round" stroke-linejoin="round"/>
<path d="M646.8 225.9 L638.8 248.9 Q635.4 257.4 633.8 261.1" fill="none" stroke="#181b20" stroke-width="9.5" stroke-linecap="round" stroke-linejoin="round"/>
<path d="M646.8 225.9 L638.8 248.9 Q635.4 257.4 633.8 261.1" fill="none" stroke="#a8b3c5" stroke-width="8.0" stroke-linecap="round" stroke-linejoin="round"/>
<path d="M662.0 228.3 L654.0 251.3 Q650.6 259.8 649.0 263.5" fill="none" stroke="#181b20" stroke-width="9.5" stroke-linecap="round" stroke-linejoin="round"/>
<path d="M662.0 228.3 L654.0 251.3 Q650.6 259.8 649.0 263.5" fill="none" stroke="#a8b3c5" stroke-width="8.0" stroke-linecap="round" stroke-linejoin="round"/>
<polygon points="122.3,122.0 130.4,123.3 121.3,150.8 113.2,149.5" fill="#a8b3c5" stroke="#181b20" stroke-width="0.98" stroke-linejoin="round" />
<polygon points="130.8,123.4 136.3,124.2 134.7,134.7 129.2,133.9" fill="#97a2b4" stroke="#181b20" stroke-width="0.98" stroke-linejoin="round" />
<polygon points="128.9,134.2 134.1,135.0 130.1,147.2 124.9,146.4" fill="#9ca7b9" stroke="#181b20" stroke-width="0.98" stroke-linejoin="round" />
<polygon points="137.5,124.4 145.6,125.7 136.5,153.2 128.4,151.9" fill="#a8b3c5" stroke="#181b20" stroke-width="0.98" stroke-linejoin="round" />
<polygon points="146.0,125.8 151.5,126.6 149.9,137.1 144.4,136.3" fill="#97a2b4" stroke="#181b20" stroke-width="0.98" stroke-linejoin="round" />
<polygon points="144.1,136.6 149.3,137.4 145.3,149.6 140.1,148.8" fill="#9ca7b9" stroke="#181b20" stroke-width="0.98" stroke-linejoin="round" />
<polygon points="152.7,126.8 160.8,128.1 151.7,155.6 143.6,154.3" fill="#a8b3c5" stroke="#181b20" stroke-width="0.98" stroke-linejoin="round" />
<polygon points="161.2,128.2 166.7,129.0 165.1,139.5 159.6,138.7" fill="#97a2b4" stroke="#181b20" stroke-width="0.98" stroke-linejoin="round" />
<polygon points="159.3,139.0 164.5,139.8 160.5,152.0 155.3,151.2" fill="#9ca7b9" stroke="#181b20" stroke-width="0.98" stroke-linejoin="round" />
<polygon points="167.9,129.1 176.0,130.4 166.9,157.9 158.8,156.6" fill="#a8b3c5" stroke="#181b20" stroke-width="0.98" stroke-linejoin="round" />
<polygon points="176.4,130.5 181.9,131.3 180.3,141.8 174.8,141.0" fill="#97a2b4" stroke="#181b20" stroke-width="0.98" stroke-linejoin="round" />
<polygon points="174.5,141.3 179.7,142.1 175.7,154.3 170.5,153.5" fill="#9ca7b9" stroke="#181b20" stroke-width="0.98" stroke-linejoin="round" />
<polygon points="183.1,131.5 191.2,132.8 182.1,160.3 174.0,159.0" fill="#a8b3c5" stroke="#181b20" stroke-width="0.98" stroke-linejoin="round" />
<polygon points="191.6,132.9 197.1,133.7 195.5,144.2 190.0,143.4" fill="#97a2b4" stroke="#181b20" stroke-width="0.98" stroke-linejoin="round" />
<polygon points="189.7,143.7 194.9,144.5 190.9,156.7 185.7,155.9" fill="#9ca7b9" stroke="#181b20" stroke-width="0.98" stroke-linejoin="round" />
<polygon points="198.3,133.9 206.4,135.2 197.3,162.7 189.2,161.4" fill="#a8b3c5" stroke="#181b20" stroke-width="0.98" stroke-linejoin="round" />
<polygon points="206.8,135.3 212.3,136.1 210.7,146.6 205.2,145.8" fill="#97a2b4" stroke="#181b20" stroke-width="0.98" stroke-linejoin="round" />
<polygon points="204.9,146.1 210.1,146.9 206.1,159.1 200.9,158.3" fill="#9ca7b9" stroke="#181b20" stroke-width="0.98" stroke-linejoin="round" />
<polygon points="213.5,136.3 221.6,137.6 212.5,165.1 204.4,163.8" fill="#a8b3c5" stroke="#181b20" stroke-width="0.98" stroke-linejoin="round" />
<polygon points="222.0,137.7 227.5,138.5 225.9,149.0 220.4,148.2" fill="#97a2b4" stroke="#181b20" stroke-width="0.98" stroke-linejoin="round" />
<polygon points="220.1,148.5 225.3,149.3 221.3,161.5 216.1,160.7" fill="#9ca7b9" stroke="#181b20" stroke-width="0.98" stroke-linejoin="round" />
<polygon points="228.7,138.7 236.8,140.0 227.7,167.5 219.6,166.2" fill="#a8b3c5" stroke="#181b20" stroke-width="0.98" stroke-linejoin="round" />
<polygon points="237.2,140.1 242.7,140.9 241.1,151.4 235.6,150.6" fill="#97a2b4" stroke="#181b20" stroke-width="0.98" stroke-linejoin="round" />
<polygon points="235.3,150.9 240.5,151.7 236.5,163.9 231.3,163.1" fill="#9ca7b9" stroke="#181b20" stroke-width="0.98" stroke-linejoin="round" />
<polygon points="243.9,141.0 252.0,142.3 242.9,169.8 234.8,168.5" fill="#a8b3c5" stroke="#181b20" stroke-width="0.98" stroke-linejoin="round" />
<polygon points="252.4,142.4 257.9,143.2 256.3,153.7 250.8,152.9" fill="#97a2b4" stroke="#181b20" stroke-width="0.98" stroke-linejoin="round" />
<polygon points="250.5,153.2 255.7,154.0 251.7,166.2 246.5,165.4" fill="#9ca7b9" stroke="#181b20" stroke-width="0.98" stroke-linejoin="round" />
<polygon points="259.1,143.4 267.2,144.7 258.1,172.2 250.0,170.9" fill="#a8b3c5" stroke="#181b20" stroke-width="0.98" stroke-linejoin="round" />
<polygon points="267.6,144.8 273.1,145.6 271.5,156.1 266.0,155.3" fill="#97a2b4" stroke="#181b20" stroke-width="0.98" stroke-linejoin="round" />
<polygon points="265.7,155.6 270.9,156.4 266.9,168.6 261.7,167.8" fill="#9ca7b9" stroke="#181b20" stroke-width="0.98" stroke-linejoin="round" />
<polygon points="274.3,145.8 282.4,147.1 273.3,174.6 265.2,173.3" fill="#a8b3c5" stroke="#181b20" stroke-width="0.98" stroke-linejoin="round" />
<polygon points="282.8,147.2 288.3,148.0 286.7,158.5 281.2,157.7" fill="#97a2b4" stroke="#181b20" stroke-width="0.98" stroke-linejoin="round" />
<polygon points="280.9,158.0 286.1,158.8 282.1,171.0 276.9,170.2" fill="#9ca7b9" stroke="#181b20" stroke-width="0.98" stroke-linejoin="round" />
<polygon points="289.5,148.2 297.6,149.5 288.5,177.0 280.4,175.7" fill="#a8b3c5" stroke="#181b20" stroke-width="0.98" stroke-linejoin="round" />
<polygon points="298.0,149.6 303.5,150.4 301.9,160.9 296.4,160.1" fill="#97a2b4" stroke="#181b20" stroke-width="0.98" stroke-linejoin="round" />
<polygon points="296.1,160.4 301.3,161.2 297.3,173.4 292.1,172.6" fill="#9ca7b9" stroke="#181b20" stroke-width="0.98" stroke-linejoin="round" />
<polygon points="304.7,150.6 312.8,151.9 303.7,179.4 295.6,178.1" fill="#a8b3c5" stroke="#181b20" stroke-width="0.98" stroke-linejoin="round" />
<polygon points="313.2,152.0 318.7,152.8 317.1,163.3 311.6,162.5" fill="#97a2b4" stroke="#181b20" stroke-width="0.98" stroke-linejoin="round" />
<polygon points="311.3,162.8 316.5,163.6 312.5,175.8 307.3,175.0" fill="#9ca7b9" stroke="#181b20" stroke-width="0.98" stroke-linejoin="round" />
<polygon points="319.9,152.9 328.0,154.2 318.9,181.7 310.8,180.4" fill="#a8b3c5" stroke="#181b20" stroke-width="0.98" stroke-linejoin="round" />
<polygon points="328.4,154.3 333.9,155.1 332.3,165.6 326.8,164.8" fill="#97a2b4" stroke="#181b20" stroke-width="0.98" stroke-linejoin="round" />
<polygon points="326.5,165.1 331.7,165.9 327.7,178.1 322.5,177.3" fill="#9ca7b9" stroke="#181b20" stroke-width="0.98" stroke-linejoin="round" />
<polygon points="335.1,155.3 343.2,156.6 334.1,184.1 326.0,182.8" fill="#a8b3c5" stroke="#181b20" stroke-width="0.98" stroke-linejoin="round" />
<polygon points="343.6,156.7 349.1,157.5 347.5,168.0 342.0,167.2" fill="#97a2b4" stroke="#181b20" stroke-width="0.98" stroke-linejoin="round" />
<polygon points="341.7,167.5 346.9,168.3 342.9,180.5 337.7,179.7" fill="#9ca7b9" stroke="#181b20" stroke-width="0.98" stroke-linejoin="round" />
<polygon points="350.3,157.7 358.4,159.0 349.3,186.5 341.2,185.2" fill="#a8b3c5" stroke="#181b20" stroke-width="0.98" stroke-linejoin="round" />
<polygon points="358.8,159.1 364.3,159.9 362.7,170.4 357.2,169.6" fill="#97a2b4" stroke="#181b20" stroke-width="0.98" stroke-linejoin="round" />
<polygon points="356.9,169.9 362.1,170.7 358.1,182.9 352.9,182.1" fill="#9ca7b9" stroke="#181b20" stroke-width="0.98" stroke-linejoin="round" />
<polygon points="365.5,160.1 373.6,161.4 364.5,188.9 356.4,187.6" fill="#a8b3c5" stroke="#181b20" stroke-width="0.98" stroke-linejoin="round" />
<polygon points="374.0,161.5 379.5,162.3 377.9,172.8 372.4,172.0" fill="#97a2b4" stroke="#181b20" stroke-width="0.98" stroke-linejoin="round" />
<polygon points="372.1,172.3 377.3,173.1 373.3,185.3 368.1,184.5" fill="#9ca7b9" stroke="#181b20" stroke-width="0.98" stroke-linejoin="round" />
<polygon points="380.7,162.5 388.8,163.8 379.7,191.3 371.6,190.0" fill="#a8b3c5" stroke="#181b20" stroke-width="0.98" stroke-linejoin="round" />
<polygon points="389.2,163.9 394.7,164.7 393.1,175.2 387.6,174.4" fill="#97a2b4" stroke="#181b20" stroke-width="0.98" stroke-linejoin="round" />
<polygon points="387.3,174.7 392.5,175.5 388.5,187.7 383.3,186.9" fill="#9ca7b9" stroke="#181b20" stroke-width="0.98" stroke-linejoin="round" />
<polygon points="395.9,164.8 404.0,166.1 394.9,193.6 386.8,192.3" fill="#a8b3c5" stroke="#181b20" stroke-width="0.98" stroke-linejoin="round" />
<polygon points="404.4,166.2 409.9,167.0 408.3,177.5 402.8,176.7" fill="#97a2b4" stroke="#181b20" stroke-width="0.98" stroke-linejoin="round" />
<polygon points="402.5,177.0 407.7,177.8 403.7,190.0 398.5,189.2" fill="#9ca7b9" stroke="#181b20" stroke-width="0.98" stroke-linejoin="round" />
<polygon points="411.1,167.2 419.2,168.5 410.1,196.0 402.0,194.7" fill="#a8b3c5" stroke="#181b20" stroke-width="0.98" stroke-linejoin="round" />
<polygon points="419.6,168.6 425.1,169.4 423.5,179.9 418.0,179.1" fill="#97a2b4" stroke="#181b20" stroke-width="0.98" stroke-linejoin="round" />
<polygon points="417.7,179.4 422.9,180.2 418.9,192.4 413.7,191.6" fill="#9ca7b9" stroke="#181b20" stroke-width="0.98" stroke-linejoin="round" />
<polygon points="426.3,169.6 434.4,170.9 425.3,198.4 417.2,197.1" fill="#a8b3c5" stroke="#181b20" stroke-width="0.98" stroke-linejoin="round" />
<polygon points="434.8,171.0 440.3,171.8 438.7,182.3 433.2,181.5" fill="#97a2b4" stroke="#181b20" stroke-width="0.98" stroke-linejoin="round" />
<polygon points="432.9,181.8 438.1,182.6 434.1,194.8 428.9,194.0" fill="#9ca7b9" stroke="#181b20" stroke-width="0.98" stroke-linejoin="round" />
<polygon points="441.5,172.0 449.6,173.3 440.5,200.8 432.4,199.5" fill="#a8b3c5" stroke="#181b20" stroke-width="0.98" stroke-linejoin="round" />
<polygon points="450.0,173.4 455.5,174.2 453.9,184.7 448.4,183.9" fill="#97a2b4" stroke="#181b20" stroke-width="0.98" stroke-linejoin="round" />
<polygon points="448.1,184.2 453.3,185.0 449.3,197.2 444.1,196.4" fill="#9ca7b9" stroke="#181b20" stroke-width="0.98" stroke-linejoin="round" />
<polygon points="456.7,174.4 464.8,175.7 455.7,203.2 447.6,201.9" fill="#a8b3c5" stroke="#181b20" stroke-width="0.98" stroke-linejoin="round" />
<polygon points="465.2,175.8 470.7,176.6 469.1,187.1 463.6,186.3" fill="#97a2b4" stroke="#181b20" stroke-width="0.98" stroke-linejoin="round" />
<polygon points="463.3,186.6 468.5,187.4 464.5,199.6 459.3,198.8" fill="#9ca7b9" stroke="#181b20" stroke-width="0.98" stroke-linejoin="round" />
<polygon points="471.9,176.7 480.0,178.0 470.9,205.5 462.8,204.2" fill="#a8b3c5" stroke="#181b20" stroke-width="0.98" stroke-linejoin="round" />
<polygon points="480.4,178.1 485.9,178.9 484.3,189.4 478.8,188.6" fill="#97a2b4" stroke="#181b20" stroke-width="0.98" stroke-linejoin="round" />
<polygon points="478.5,188.9 483.7,189.7 479.7,201.9 474.5,201.1" fill="#9ca7b9" stroke="#181b20" stroke-width="0.98" stroke-linejoin="round" />
<polygon points="487.1,179.1 495.2,180.4 486.1,207.9 478.0,206.6" fill="#a8b3c5" stroke="#181b20" stroke-width="0.98" stroke-linejoin="round" />
<polygon points="495.6,180.5 501.1,181.3 499.5,191.8 494.0,191.0" fill="#97a2b4" stroke="#181b20" stroke-width="0.98" stroke-linejoin="round" />
<polygon points="493.7,191.3 498.9,192.1 494.9,204.3 489.7,203.5" fill="#9ca7b9" stroke="#181b20" stroke-width="0.98" stroke-linejoin="round" />
<polygon points="502.3,181.5 510.4,182.8 501.3,210.3 493.2,209.0" fill="#a8b3c5" stroke="#181b20" stroke-width="0.98" stroke-linejoin="round" />
<polygon points="510.8,182.9 516.3,183.7 514.7,194.2 509.2,193.4" fill="#97a2b4" stroke="#181b20" stroke-width="0.98" stroke-linejoin="round" />
<polygon points="508.9,193.7 514.1,194.5 510.1,206.7 504.9,205.9" fill="#9ca7b9" stroke="#181b20" stroke-width="0.98" stroke-linejoin="round" />
<polygon points="517.5,183.9 525.6,185.2 516.5,212.7 508.4,211.4" fill="#a8b3c5" stroke="#181b20" stroke-width="0.98" stroke-linejoin="round" />
<polygon points="526.0,185.3 531.5,186.1 529.9,196.6 524.4,195.8" fill="#97a2b4" stroke="#181b20" stroke-width="0.98" stroke-linejoin="round" />
<polygon points="524.1,196.1 529.3,196.9 525.3,209.1 520.1,208.3" fill="#9ca7b9" stroke="#181b20" stroke-width="0.98" stroke-linejoin="round" />
<polygon points="532.7,186.3 540.8,187.6 531.7,215.1 523.6,213.8" fill="#a8b3c5" stroke="#181b20" stroke-width="0.98" stroke-linejoin="round" />
<polygon points="541.2,187.7 546.7,188.5 545.1,199.0 539.6,198.2" fill="#97a2b4" stroke="#181b20" stroke-width="0.98" stroke-linejoin="round" />
<polygon points="539.3,198.5 544.5,199.3 540.5,211.5 535.3,210.7" fill="#9ca7b9" stroke="#181b20" stroke-width="0.98" stroke-linejoin="round" />
<polygon points="547.9,188.6 556.0,189.9 546.9,217.4 538.8,216.1" fill="#a8b3c5" stroke="#181b20" stroke-width="0.98" stroke-linejoin="round" />
<polygon points="556.4,190.0 561.9,190.8 560.3,201.3 554.8,200.5" fill="#97a2b4" stroke="#181b20" stroke-width="0.98" stroke-linejoin="round" />
<polygon points="554.5,200.8 559.7,201.6 555.7,213.8 550.5,213.0" fill="#9ca7b9" stroke="#181b20" stroke-width="0.98" stroke-linejoin="round" />
<polygon points="608.7,198.2 616.8,199.5 607.7,227.0 599.6,225.7" fill="#a8b3c5" stroke="#181b20" stroke-width="0.98" stroke-linejoin="round" />
<polygon points="617.2,199.6 622.7,200.4 621.1,210.9 615.6,210.1" fill="#97a2b4" stroke="#181b20" stroke-width="0.98" stroke-linejoin="round" />
<polygon points="615.3,210.4 620.5,211.2 616.5,223.4 611.3,222.6" fill="#9ca7b9" stroke="#181b20" stroke-width="0.98" stroke-linejoin="round" />
<polygon points="623.9,200.6 632.0,201.9 622.9,229.4 614.8,228.1" fill="#a8b3c5" stroke="#181b20" stroke-width="0.98" stroke-linejoin="round" />
<polygon points="632.4,202.0 637.9,202.8 636.3,213.3 630.8,212.5" fill="#97a2b4" stroke="#181b20" stroke-width="0.98" stroke-linejoin="round" />
<polygon points="630.5,212.8 635.7,213.6 631.7,225.8 626.5,225.0" fill="#9ca7b9" stroke="#181b20" stroke-width="0.98" stroke-linejoin="round" />
<polygon points="639.1,202.9 647.2,204.2 638.1,231.7 630.0,230.4" fill="#a8b3c5" stroke="#181b20" stroke-width="0.98" stroke-linejoin="round" />
<polygon points="647.6,204.3 653.1,205.1 651.5,215.6 646.0,214.8" fill="#97a2b4" stroke="#181b20" stroke-width="0.98" stroke-linejoin="round" />
<polygon points="645.7,215.1 650.9,215.9 646.9,228.1 641.7,227.3" fill="#9ca7b9" stroke="#181b20" stroke-width="0.98" stroke-linejoin="round" />
<polygon points="654.3,205.3 662.4,206.6 653.3,234.1 645.2,232.8" fill="#a8b3c5" stroke="#181b20" stroke-width="0.98" stroke-linejoin="round" />
<polygon points="662.8,206.7 668.3,207.5 666.7,218.0 661.2,217.2" fill="#97a2b4" stroke="#181b20" stroke-width="0.98" stroke-linejoin="round" />
<polygon points="660.9,217.5 666.1,218.3 662.1,230.5 656.9,229.7" fill="#9ca7b9" stroke="#181b20" stroke-width="0.98" stroke-linejoin="round" />
<polygon points="669.5,207.7 677.6,209.0 668.5,236.5 660.4,235.2" fill="#a8b3c5" stroke="#181b20" stroke-width="0.98" stroke-linejoin="round" />
<polygon points="678.0,209.1 683.5,209.9 681.9,220.4 676.4,219.6" fill="#97a2b4" stroke="#181b20" stroke-width="0.98" stroke-linejoin="round" />
<polygon points="676.1,219.9 681.3,220.7 677.3,232.9 672.1,232.1" fill="#9ca7b9" stroke="#181b20" stroke-width="0.98" stroke-linejoin="round" />
<polygon points="68.5,113.0 102.0,118.0 102.0,127.0 68.5,132.0" fill="#8b95a7" stroke="#181b20" stroke-width="0.65" stroke-linejoin="round" />
<polygon points="68.5,114.0 71.5,114.5 71.5,131.0 68.5,131.5" fill="#a2adbf" stroke="#181b20" stroke-width="0.52" stroke-linejoin="round" />
<polygon points="99.2,118.0 102.0,118.5 102.0,126.5 99.2,127.0" fill="#a6b1c3" stroke="#181b20" stroke-width="0.52" stroke-linejoin="round" />
<path d="M89.5 112 Q93.5 113.5 94.5 118.5" fill="none" stroke="#181b20" stroke-width="0.5" stroke-linejoin="round" stroke-linecap="round" />
<polygon points="64.0,101.0 729.0,205.0 729.0,217.7 100.0,119.4 100.0,113.2 89.0,111.5 89.0,117.7 64.0,113.7" fill="#a2adbf" stroke="#181b20" stroke-width="0.91" stroke-linejoin="round" />
<polygon points="689.0,205.8 693.5,206.5 693.5,211.6 689.0,210.9" fill="#5b6371" stroke="#181b20" stroke-width="0.52" stroke-linejoin="round" />
<polygon points="693.5,206.5 700.3,207.5 701.0,214.3 693.5,213.2" fill="#9aa5b7" stroke="#181b20" stroke-width="0.52" stroke-linejoin="round" />
<polygon points="109.0,114.5 119.5,116.1 119.5,122.5 109.0,120.9" fill="#5b6371" stroke="#181b20" stroke-width="0.65" stroke-linejoin="round" />
<polygon points="110.7,115.3 113.8,115.8 112.2,121.1 109.5,120.7" fill="#b3bccb" stroke="none" stroke-width="0.7" stroke-linejoin="round" />
<polygon points="116.5,119.3 118.5,119.5 118.0,122.5 116.8,122.3" fill="#a86c10" stroke="none" stroke-width="0.7" stroke-linejoin="round" />
<ellipse cx="117.5" cy="118.3" rx="1.8" ry="1.9" fill="#eda21b" stroke="#5a3f10" stroke-width="0.4"/>
<circle cx="117.0" cy="117.6" r="0.7" fill="#ffdb70"/>
<polygon points="124.2,116.9 134.8,118.5 134.8,124.9 124.2,123.3" fill="#5b6371" stroke="#181b20" stroke-width="0.65" stroke-linejoin="round" />
<polygon points="125.8,117.7 129.0,118.2 127.4,123.5 124.6,123.1" fill="#b3bccb" stroke="none" stroke-width="0.7" stroke-linejoin="round" />
<polygon points="131.6,121.7 133.6,121.9 133.2,124.9 132.0,124.7" fill="#a86c10" stroke="none" stroke-width="0.7" stroke-linejoin="round" />
<ellipse cx="132.6" cy="120.7" rx="1.8" ry="1.9" fill="#eda21b" stroke="#5a3f10" stroke-width="0.4"/>
<circle cx="132.2" cy="120.0" r="0.7" fill="#ffdb70"/>
<polygon points="139.5,119.3 150.0,120.9 150.0,127.3 139.5,125.7" fill="#5b6371" stroke="#181b20" stroke-width="0.65" stroke-linejoin="round" />
<polygon points="141.1,120.1 144.2,120.6 142.7,125.9 139.8,125.5" fill="#b3bccb" stroke="none" stroke-width="0.7" stroke-linejoin="round" />
<polygon points="146.8,124.1 148.8,124.3 148.5,127.3 147.2,127.1" fill="#a86c10" stroke="none" stroke-width="0.7" stroke-linejoin="round" />
<ellipse cx="147.8" cy="123.1" rx="1.8" ry="1.9" fill="#eda21b" stroke="#5a3f10" stroke-width="0.4"/>
<circle cx="147.5" cy="122.4" r="0.7" fill="#ffdb70"/>
<polygon points="154.7,121.7 165.2,123.3 165.2,129.7 154.7,128.1" fill="#5b6371" stroke="#181b20" stroke-width="0.65" stroke-linejoin="round" />
<polygon points="156.2,122.5 159.4,123.0 157.8,128.3 155.0,127.9" fill="#b3bccb" stroke="none" stroke-width="0.7" stroke-linejoin="round" />
<polygon points="162.0,126.5 164.0,126.7 163.7,129.7 162.4,129.5" fill="#a86c10" stroke="none" stroke-width="0.7" stroke-linejoin="round" />
<ellipse cx="163.0" cy="125.5" rx="1.8" ry="1.9" fill="#eda21b" stroke="#5a3f10" stroke-width="0.4"/>
<circle cx="162.7" cy="124.8" r="0.7" fill="#ffdb70"/>
<polygon points="169.9,124.1 180.4,125.7 180.4,132.1 169.9,130.5" fill="#5b6371" stroke="#181b20" stroke-width="0.65" stroke-linejoin="round" />
<polygon points="171.5,124.9 174.7,125.4 173.1,130.7 170.2,130.3" fill="#b3bccb" stroke="none" stroke-width="0.7" stroke-linejoin="round" />
<polygon points="177.2,128.9 179.2,129.1 178.9,132.1 177.7,131.9" fill="#a86c10" stroke="none" stroke-width="0.7" stroke-linejoin="round" />
<ellipse cx="178.2" cy="127.9" rx="1.8" ry="1.9" fill="#eda21b" stroke="#5a3f10" stroke-width="0.4"/>
<circle cx="177.9" cy="127.2" r="0.7" fill="#ffdb70"/>
<polygon points="185.1,126.4 195.6,128.0 195.6,134.4 185.1,132.8" fill="#5b6371" stroke="#181b20" stroke-width="0.65" stroke-linejoin="round" />
<polygon points="186.7,127.2 189.8,127.7 188.2,133.0 185.4,132.6" fill="#b3bccb" stroke="none" stroke-width="0.7" stroke-linejoin="round" />
<polygon points="192.4,131.2 194.4,131.4 194.1,134.4 192.8,134.2" fill="#a86c10" stroke="none" stroke-width="0.7" stroke-linejoin="round" />
<ellipse cx="193.4" cy="130.2" rx="1.8" ry="1.9" fill="#eda21b" stroke="#5a3f10" stroke-width="0.4"/>
<circle cx="193.1" cy="129.5" r="0.7" fill="#ffdb70"/>
<polygon points="200.2,128.8 210.8,130.4 210.8,136.8 200.2,135.2" fill="#5b6371" stroke="#181b20" stroke-width="0.65" stroke-linejoin="round" />
<polygon points="201.8,129.6 205.0,130.1 203.4,135.4 200.6,135.0" fill="#b3bccb" stroke="none" stroke-width="0.7" stroke-linejoin="round" />
<polygon points="207.6,133.6 209.6,133.8 209.2,136.8 208.0,136.6" fill="#a86c10" stroke="none" stroke-width="0.7" stroke-linejoin="round" />
<ellipse cx="208.6" cy="132.6" rx="1.8" ry="1.9" fill="#eda21b" stroke="#5a3f10" stroke-width="0.4"/>
<circle cx="208.2" cy="131.9" r="0.7" fill="#ffdb70"/>
<polygon points="215.4,131.2 225.9,132.8 225.9,139.2 215.4,137.6" fill="#5b6371" stroke="#181b20" stroke-width="0.65" stroke-linejoin="round" />
<polygon points="217.0,132.0 220.2,132.5 218.6,137.8 215.8,137.4" fill="#b3bccb" stroke="none" stroke-width="0.7" stroke-linejoin="round" />
<polygon points="222.8,136.0 224.8,136.2 224.4,139.2 223.2,139.0" fill="#a86c10" stroke="none" stroke-width="0.7" stroke-linejoin="round" />
<ellipse cx="223.8" cy="135.0" rx="1.8" ry="1.9" fill="#eda21b" stroke="#5a3f10" stroke-width="0.4"/>
<circle cx="223.4" cy="134.3" r="0.7" fill="#ffdb70"/>
<polygon points="230.7,133.6 241.2,135.2 241.2,141.6 230.7,140.0" fill="#5b6371" stroke="#181b20" stroke-width="0.65" stroke-linejoin="round" />
<polygon points="232.2,134.4 235.4,134.9 233.8,140.2 231.0,139.8" fill="#b3bccb" stroke="none" stroke-width="0.7" stroke-linejoin="round" />
<polygon points="238.0,138.4 240.0,138.6 239.7,141.6 238.4,141.4" fill="#a86c10" stroke="none" stroke-width="0.7" stroke-linejoin="round" />
<ellipse cx="239.0" cy="137.4" rx="1.8" ry="1.9" fill="#eda21b" stroke="#5a3f10" stroke-width="0.4"/>
<circle cx="238.7" cy="136.7" r="0.7" fill="#ffdb70"/>
<polygon points="245.8,136.0 256.3,137.6 256.3,144.0 245.8,142.4" fill="#5b6371" stroke="#181b20" stroke-width="0.65" stroke-linejoin="round" />
<polygon points="247.4,136.8 250.6,137.3 249.0,142.6 246.2,142.2" fill="#b3bccb" stroke="none" stroke-width="0.7" stroke-linejoin="round" />
<polygon points="253.2,140.8 255.2,141.0 254.8,144.0 253.6,143.8" fill="#a86c10" stroke="none" stroke-width="0.7" stroke-linejoin="round" />
<ellipse cx="254.2" cy="139.8" rx="1.8" ry="1.9" fill="#eda21b" stroke="#5a3f10" stroke-width="0.4"/>
<circle cx="253.8" cy="139.1" r="0.7" fill="#ffdb70"/>
<polygon points="261.1,138.3 271.6,139.9 271.6,146.3 261.1,144.7" fill="#5b6371" stroke="#181b20" stroke-width="0.65" stroke-linejoin="round" />
<polygon points="262.6,139.1 265.9,139.6 264.2,144.9 261.4,144.5" fill="#b3bccb" stroke="none" stroke-width="0.7" stroke-linejoin="round" />
<polygon points="268.4,143.1 270.4,143.3 270.1,146.3 268.9,146.1" fill="#a86c10" stroke="none" stroke-width="0.7" stroke-linejoin="round" />
<ellipse cx="269.4" cy="142.1" rx="1.8" ry="1.9" fill="#eda21b" stroke="#5a3f10" stroke-width="0.4"/>
<circle cx="269.1" cy="141.4" r="0.7" fill="#ffdb70"/>
<polygon points="276.2,140.7 286.8,142.3 286.8,148.7 276.2,147.1" fill="#5b6371" stroke="#181b20" stroke-width="0.65" stroke-linejoin="round" />
<polygon points="277.8,141.5 281.1,142.0 279.4,147.3 276.6,146.9" fill="#b3bccb" stroke="none" stroke-width="0.7" stroke-linejoin="round" />
<polygon points="283.6,145.5 285.6,145.7 285.2,148.7 284.1,148.5" fill="#a86c10" stroke="none" stroke-width="0.7" stroke-linejoin="round" />
<ellipse cx="284.6" cy="144.5" rx="1.8" ry="1.9" fill="#eda21b" stroke="#5a3f10" stroke-width="0.4"/>
<circle cx="284.2" cy="143.8" r="0.7" fill="#ffdb70"/>
<polygon points="291.4,143.1 301.9,144.7 301.9,151.1 291.4,149.5" fill="#5b6371" stroke="#181b20" stroke-width="0.65" stroke-linejoin="round" />
<polygon points="293.0,143.9 296.2,144.4 294.6,149.7 291.8,149.3" fill="#b3bccb" stroke="none" stroke-width="0.7" stroke-linejoin="round" />
<polygon points="298.8,147.9 300.8,148.1 300.4,151.1 299.2,150.9" fill="#a86c10" stroke="none" stroke-width="0.7" stroke-linejoin="round" />
<ellipse cx="299.8" cy="146.9" rx="1.8" ry="1.9" fill="#eda21b" stroke="#5a3f10" stroke-width="0.4"/>
<circle cx="299.4" cy="146.2" r="0.7" fill="#ffdb70"/>
<polygon points="306.7,145.5 317.2,147.1 317.2,153.5 306.7,151.9" fill="#5b6371" stroke="#181b20" stroke-width="0.65" stroke-linejoin="round" />
<polygon points="308.2,146.3 311.5,146.8 309.9,152.1 307.1,151.7" fill="#b3bccb" stroke="none" stroke-width="0.7" stroke-linejoin="round" />
<polygon points="314.1,150.3 316.1,150.5 315.7,153.5 314.5,153.3" fill="#a86c10" stroke="none" stroke-width="0.7" stroke-linejoin="round" />
<ellipse cx="315.1" cy="149.3" rx="1.8" ry="1.9" fill="#eda21b" stroke="#5a3f10" stroke-width="0.4"/>
<circle cx="314.7" cy="148.6" r="0.7" fill="#ffdb70"/>
<polygon points="321.8,147.9 332.3,149.5 332.3,155.9 321.8,154.3" fill="#5b6371" stroke="#181b20" stroke-width="0.65" stroke-linejoin="round" />
<polygon points="323.4,148.7 326.6,149.2 325.0,154.5 322.2,154.1" fill="#b3bccb" stroke="none" stroke-width="0.7" stroke-linejoin="round" />
<polygon points="329.2,152.7 331.2,152.9 330.8,155.9 329.6,155.7" fill="#a86c10" stroke="none" stroke-width="0.7" stroke-linejoin="round" />
<ellipse cx="330.2" cy="151.7" rx="1.8" ry="1.9" fill="#eda21b" stroke="#5a3f10" stroke-width="0.4"/>
<circle cx="329.8" cy="151.0" r="0.7" fill="#ffdb70"/>
<polygon points="337.1,150.2 347.6,151.8 347.6,158.2 337.1,156.6" fill="#5b6371" stroke="#181b20" stroke-width="0.65" stroke-linejoin="round" />
<polygon points="338.6,151.0 341.9,151.5 340.2,156.8 337.4,156.4" fill="#b3bccb" stroke="none" stroke-width="0.7" stroke-linejoin="round" />
<polygon points="344.4,155.0 346.4,155.2 346.1,158.2 344.9,158.0" fill="#a86c10" stroke="none" stroke-width="0.7" stroke-linejoin="round" />
<ellipse cx="345.4" cy="154.0" rx="1.8" ry="1.9" fill="#eda21b" stroke="#5a3f10" stroke-width="0.4"/>
<circle cx="345.1" cy="153.3" r="0.7" fill="#ffdb70"/>
<polygon points="352.2,152.6 362.8,154.2 362.8,160.6 352.2,159.0" fill="#5b6371" stroke="#181b20" stroke-width="0.65" stroke-linejoin="round" />
<polygon points="353.8,153.4 357.1,153.9 355.4,159.2 352.6,158.8" fill="#b3bccb" stroke="none" stroke-width="0.7" stroke-linejoin="round" />
<polygon points="359.6,157.4 361.6,157.6 361.2,160.6 360.1,160.4" fill="#a86c10" stroke="none" stroke-width="0.7" stroke-linejoin="round" />
<ellipse cx="360.6" cy="156.4" rx="1.8" ry="1.9" fill="#eda21b" stroke="#5a3f10" stroke-width="0.4"/>
<circle cx="360.2" cy="155.7" r="0.7" fill="#ffdb70"/>
<polygon points="367.4,155.0 377.9,156.6 377.9,163.0 367.4,161.4" fill="#5b6371" stroke="#181b20" stroke-width="0.65" stroke-linejoin="round" />
<polygon points="369.0,155.8 372.2,156.3 370.6,161.6 367.8,161.2" fill="#b3bccb" stroke="none" stroke-width="0.7" stroke-linejoin="round" />
<polygon points="374.8,159.8 376.8,160.0 376.4,163.0 375.2,162.8" fill="#a86c10" stroke="none" stroke-width="0.7" stroke-linejoin="round" />
<ellipse cx="375.8" cy="158.8" rx="1.8" ry="1.9" fill="#eda21b" stroke="#5a3f10" stroke-width="0.4"/>
<circle cx="375.4" cy="158.1" r="0.7" fill="#ffdb70"/>
<polygon points="382.6,157.4 393.1,159.0 393.1,165.4 382.6,163.8" fill="#5b6371" stroke="#181b20" stroke-width="0.65" stroke-linejoin="round" />
<polygon points="384.2,158.2 387.4,158.7 385.8,164.0 383.0,163.6" fill="#b3bccb" stroke="none" stroke-width="0.7" stroke-linejoin="round" />
<polygon points="390.0,162.2 392.0,162.4 391.6,165.4 390.4,165.2" fill="#a86c10" stroke="none" stroke-width="0.7" stroke-linejoin="round" />
<ellipse cx="391.0" cy="161.2" rx="1.8" ry="1.9" fill="#eda21b" stroke="#5a3f10" stroke-width="0.4"/>
<circle cx="390.6" cy="160.5" r="0.7" fill="#ffdb70"/>
<polygon points="397.9,159.8 408.4,161.4 408.4,167.8 397.9,166.2" fill="#5b6371" stroke="#181b20" stroke-width="0.65" stroke-linejoin="round" />
<polygon points="399.4,160.6 402.7,161.1 401.1,166.4 398.2,166.0" fill="#b3bccb" stroke="none" stroke-width="0.7" stroke-linejoin="round" />
<polygon points="405.2,164.6 407.2,164.8 406.9,167.8 405.7,167.6" fill="#a86c10" stroke="none" stroke-width="0.7" stroke-linejoin="round" />
<ellipse cx="406.2" cy="163.6" rx="1.8" ry="1.9" fill="#eda21b" stroke="#5a3f10" stroke-width="0.4"/>
<circle cx="405.9" cy="162.9" r="0.7" fill="#ffdb70"/>
<polygon points="413.1,162.1 423.6,163.7 423.6,170.1 413.1,168.5" fill="#5b6371" stroke="#181b20" stroke-width="0.65" stroke-linejoin="round" />
<polygon points="414.6,162.9 417.9,163.4 416.2,168.7 413.4,168.3" fill="#b3bccb" stroke="none" stroke-width="0.7" stroke-linejoin="round" />
<polygon points="420.4,166.9 422.4,167.1 422.1,170.1 420.9,169.9" fill="#a86c10" stroke="none" stroke-width="0.7" stroke-linejoin="round" />
<ellipse cx="421.4" cy="165.9" rx="1.8" ry="1.9" fill="#eda21b" stroke="#5a3f10" stroke-width="0.4"/>
<circle cx="421.1" cy="165.2" r="0.7" fill="#ffdb70"/>
<polygon points="428.2,164.5 438.8,166.1 438.8,172.5 428.2,170.9" fill="#5b6371" stroke="#181b20" stroke-width="0.65" stroke-linejoin="round" />
<polygon points="429.8,165.3 433.1,165.8 431.4,171.1 428.6,170.7" fill="#b3bccb" stroke="none" stroke-width="0.7" stroke-linejoin="round" />
<polygon points="435.6,169.3 437.6,169.5 437.2,172.5 436.1,172.3" fill="#a86c10" stroke="none" stroke-width="0.7" stroke-linejoin="round" />
<ellipse cx="436.6" cy="168.3" rx="1.8" ry="1.9" fill="#eda21b" stroke="#5a3f10" stroke-width="0.4"/>
<circle cx="436.2" cy="167.6" r="0.7" fill="#ffdb70"/>
<polygon points="443.4,166.9 453.9,168.5 453.9,174.9 443.4,173.3" fill="#5b6371" stroke="#181b20" stroke-width="0.65" stroke-linejoin="round" />
<polygon points="445.0,167.7 448.2,168.2 446.6,173.5 443.8,173.1" fill="#b3bccb" stroke="none" stroke-width="0.7" stroke-linejoin="round" />
<polygon points="450.8,171.7 452.8,171.9 452.4,174.9 451.2,174.7" fill="#a86c10" stroke="none" stroke-width="0.7" stroke-linejoin="round" />
<ellipse cx="451.8" cy="170.7" rx="1.8" ry="1.9" fill="#eda21b" stroke="#5a3f10" stroke-width="0.4"/>
<circle cx="451.4" cy="170.0" r="0.7" fill="#ffdb70"/>
<polygon points="458.6,169.3 469.1,170.9 469.1,177.3 458.6,175.7" fill="#5b6371" stroke="#181b20" stroke-width="0.65" stroke-linejoin="round" />
<polygon points="460.2,170.1 463.4,170.6 461.8,175.9 459.0,175.5" fill="#b3bccb" stroke="none" stroke-width="0.7" stroke-linejoin="round" />
<polygon points="466.0,174.1 468.0,174.3 467.6,177.3 466.4,177.1" fill="#a86c10" stroke="none" stroke-width="0.7" stroke-linejoin="round" />
<ellipse cx="467.0" cy="173.1" rx="1.8" ry="1.9" fill="#eda21b" stroke="#5a3f10" stroke-width="0.4"/>
<circle cx="466.6" cy="172.4" r="0.7" fill="#ffdb70"/>
<polygon points="473.8,171.7 484.3,173.3 484.3,179.7 473.8,178.1" fill="#5b6371" stroke="#181b20" stroke-width="0.65" stroke-linejoin="round" />
<polygon points="475.4,172.5 478.6,173.0 477.0,178.3 474.2,177.9" fill="#b3bccb" stroke="none" stroke-width="0.7" stroke-linejoin="round" />
<polygon points="481.2,176.5 483.2,176.7 482.8,179.7 481.6,179.5" fill="#a86c10" stroke="none" stroke-width="0.7" stroke-linejoin="round" />
<ellipse cx="482.2" cy="175.5" rx="1.8" ry="1.9" fill="#eda21b" stroke="#5a3f10" stroke-width="0.4"/>
<circle cx="481.8" cy="174.8" r="0.7" fill="#ffdb70"/>
<polygon points="489.1,174.0 499.6,175.6 499.6,182.0 489.1,180.4" fill="#5b6371" stroke="#181b20" stroke-width="0.65" stroke-linejoin="round" />
<polygon points="490.6,174.8 493.9,175.3 492.2,180.6 489.4,180.2" fill="#b3bccb" stroke="none" stroke-width="0.7" stroke-linejoin="round" />
<polygon points="496.4,178.8 498.4,179.0 498.1,182.0 496.9,181.8" fill="#a86c10" stroke="none" stroke-width="0.7" stroke-linejoin="round" />
<ellipse cx="497.4" cy="177.8" rx="1.8" ry="1.9" fill="#eda21b" stroke="#5a3f10" stroke-width="0.4"/>
<circle cx="497.1" cy="177.1" r="0.7" fill="#ffdb70"/>
<polygon points="504.3,176.4 514.8,178.0 514.8,184.4 504.3,182.8" fill="#5b6371" stroke="#181b20" stroke-width="0.65" stroke-linejoin="round" />
<polygon points="505.9,177.2 509.1,177.7 507.5,183.0 504.7,182.6" fill="#b3bccb" stroke="none" stroke-width="0.7" stroke-linejoin="round" />
<polygon points="511.7,181.2 513.7,181.4 513.2,184.4 512.1,184.2" fill="#a86c10" stroke="none" stroke-width="0.7" stroke-linejoin="round" />
<ellipse cx="512.7" cy="180.2" rx="1.8" ry="1.9" fill="#eda21b" stroke="#5a3f10" stroke-width="0.4"/>
<circle cx="512.2" cy="179.5" r="0.7" fill="#ffdb70"/>
<polygon points="519.4,178.8 529.9,180.4 529.9,186.8 519.4,185.2" fill="#5b6371" stroke="#181b20" stroke-width="0.65" stroke-linejoin="round" />
<polygon points="521.0,179.6 524.2,180.1 522.6,185.4 519.9,185.0" fill="#b3bccb" stroke="none" stroke-width="0.7" stroke-linejoin="round" />
<polygon points="526.9,183.6 528.9,183.8 528.4,186.8 527.2,186.6" fill="#a86c10" stroke="none" stroke-width="0.7" stroke-linejoin="round" />
<ellipse cx="527.9" cy="182.6" rx="1.8" ry="1.9" fill="#eda21b" stroke="#5a3f10" stroke-width="0.4"/>
<circle cx="527.4" cy="181.9" r="0.7" fill="#ffdb70"/>
<polygon points="534.6,181.2 545.1,182.8 545.1,189.2 534.6,187.6" fill="#5b6371" stroke="#181b20" stroke-width="0.65" stroke-linejoin="round" />
<polygon points="536.2,182.0 539.4,182.5 537.8,187.8 535.0,187.4" fill="#b3bccb" stroke="none" stroke-width="0.7" stroke-linejoin="round" />
<polygon points="542.0,186.0 544.0,186.2 543.6,189.2 542.4,189.0" fill="#a86c10" stroke="none" stroke-width="0.7" stroke-linejoin="round" />
<ellipse cx="543.0" cy="185.0" rx="1.8" ry="1.9" fill="#eda21b" stroke="#5a3f10" stroke-width="0.4"/>
<circle cx="542.6" cy="184.3" r="0.7" fill="#ffdb70"/>
<polygon points="610.6,193.1 621.1,194.7 621.1,201.1 610.6,199.5" fill="#5b6371" stroke="#181b20" stroke-width="0.65" stroke-linejoin="round" />
<polygon points="612.2,193.9 615.4,194.4 613.8,199.7 611.0,199.3" fill="#b3bccb" stroke="none" stroke-width="0.7" stroke-linejoin="round" />
<polygon points="618.0,197.9 620.0,198.1 619.6,201.1 618.4,200.9" fill="#a86c10" stroke="none" stroke-width="0.7" stroke-linejoin="round" />
<ellipse cx="619.0" cy="196.9" rx="1.8" ry="1.9" fill="#eda21b" stroke="#5a3f10" stroke-width="0.4"/>
<circle cx="618.6" cy="196.2" r="0.7" fill="#ffdb70"/>
<polygon points="625.8,195.5 636.3,197.1 636.3,203.5 625.8,201.9" fill="#5b6371" stroke="#181b20" stroke-width="0.65" stroke-linejoin="round" />
<polygon points="627.4,196.3 630.6,196.8 629.0,202.1 626.2,201.7" fill="#b3bccb" stroke="none" stroke-width="0.7" stroke-linejoin="round" />
<polygon points="633.2,200.3 635.2,200.5 634.8,203.5 633.6,203.3" fill="#a86c10" stroke="none" stroke-width="0.7" stroke-linejoin="round" />
<ellipse cx="634.2" cy="199.3" rx="1.8" ry="1.9" fill="#eda21b" stroke="#5a3f10" stroke-width="0.4"/>
<circle cx="633.8" cy="198.6" r="0.7" fill="#ffdb70"/>
<polygon points="641.0,197.9 651.5,199.5 651.5,205.9 641.0,204.3" fill="#5b6371" stroke="#181b20" stroke-width="0.65" stroke-linejoin="round" />
<polygon points="642.6,198.7 645.9,199.2 644.2,204.5 641.5,204.1" fill="#b3bccb" stroke="none" stroke-width="0.7" stroke-linejoin="round" />
<polygon points="648.5,202.7 650.5,202.9 650.0,205.9 648.9,205.7" fill="#a86c10" stroke="none" stroke-width="0.7" stroke-linejoin="round" />
<ellipse cx="649.5" cy="201.7" rx="1.8" ry="1.9" fill="#eda21b" stroke="#5a3f10" stroke-width="0.4"/>
<circle cx="649.0" cy="201.0" r="0.7" fill="#ffdb70"/>
<polygon points="656.2,200.2 666.7,201.8 666.7,208.2 656.2,206.6" fill="#5b6371" stroke="#181b20" stroke-width="0.65" stroke-linejoin="round" />
<polygon points="657.8,201.0 661.0,201.5 659.4,206.8 656.6,206.4" fill="#b3bccb" stroke="none" stroke-width="0.7" stroke-linejoin="round" />
<polygon points="663.6,205.0 665.6,205.2 665.2,208.2 664.0,208.0" fill="#a86c10" stroke="none" stroke-width="0.7" stroke-linejoin="round" />
<ellipse cx="664.6" cy="204.0" rx="1.8" ry="1.9" fill="#eda21b" stroke="#5a3f10" stroke-width="0.4"/>
<circle cx="664.2" cy="203.3" r="0.7" fill="#ffdb70"/>
<polygon points="671.4,202.6 681.9,204.2 681.9,210.6 671.4,209.0" fill="#5b6371" stroke="#181b20" stroke-width="0.65" stroke-linejoin="round" />
<polygon points="673.0,203.4 676.2,203.9 674.6,209.2 671.9,208.8" fill="#b3bccb" stroke="none" stroke-width="0.7" stroke-linejoin="round" />
<polygon points="678.9,207.4 680.9,207.6 680.4,210.6 679.2,210.4" fill="#a86c10" stroke="none" stroke-width="0.7" stroke-linejoin="round" />
<ellipse cx="679.9" cy="206.4" rx="1.8" ry="1.9" fill="#eda21b" stroke="#5a3f10" stroke-width="0.4"/>
<circle cx="679.4" cy="205.7" r="0.7" fill="#ffdb70"/>
<polygon points="67.5,131.2 100.5,125.5 103.0,122.0 121.0,124.3 121.0,129.5 110.0,147.0 97.5,184.0 97.0,189.0 74.5,185.2 75.2,178.5 48.2,171.7 59.5,150.0" fill="#98a3b5" stroke="#181b20" stroke-width="0.78" stroke-linejoin="round" />
<polyline points="100.5,125.5 75.2,178.5" fill="none" stroke="#181b20" stroke-width="0.78" stroke-linecap="butt" stroke-linejoin="round" />
<polyline points="102.5,127.0 78.0,180.0" fill="none" stroke="#181b20" stroke-width="0.65" stroke-linecap="butt" stroke-linejoin="round" />
<polyline points="110.0,147.0 97.5,184.0" fill="none" stroke="#181b20" stroke-width="0.65" stroke-linecap="butt" stroke-linejoin="round" />
<polygon points="48.2,171.7 75.2,178.5 74.5,185.2 97.0,189.0 97.6,280.2 44.4,271.2" fill="#a2adbf" stroke="#181b20" stroke-width="0.91" stroke-linejoin="round" />
<polygon points="56.2,192.5 72.5,195.0 71.2,225.0 53.7,262.5" fill="#5a616d" stroke="#181b20" stroke-width="0.78" stroke-linejoin="round" />
<polygon points="72.5,195.0 88.7,197.5 88.3,228.0 71.2,225.0" fill="#9ba6b8" stroke="#181b20" stroke-width="0.78" stroke-linejoin="round" />
<polygon points="71.2,225.0 88.3,228.0 86.2,268.7 53.7,262.5" fill="#a1acbe" stroke="#181b20" stroke-width="0.78" stroke-linejoin="round" />
<polygon points="537.3,250.5 556.5,190.6 613.0,199.4 624.0,224.0 598.5,266.2 583.0,265.0" fill="#98a3b5" stroke="#181b20" stroke-width="0.78" stroke-linejoin="round" />
<polygon points="597.5,198.3 612.0,201.8 596.0,240.0 594.7,215.0" fill="#666e7c" stroke="none" stroke-width="0.7" stroke-linejoin="round" />
<g transform="translate(560.5,196.3) skewY(8.90)"><rect x="0" y="0" width="34.5" height="24.7" rx="6.5" fill="#a3aec0" stroke="#181b20" stroke-width="0.6" opacity="1"/></g>
<g transform="translate(560.8,204.3) skewY(8.90)"><rect x="0" y="0" width="33.9" height="11.2" rx="5.4" fill="#bac4d2" stroke="#181b20" stroke-width="0.4" opacity="1"/></g>
<g transform="translate(565.5,207.9) skewY(8.90)"><rect x="0" y="0" width="23.0" height="2.2" rx="1.1" fill="#e9eef4" stroke="none" stroke-width="0" opacity="0.95"/></g>
<polyline points="565.8,199.9 565.2,222.1" fill="none" stroke="#181b20" stroke-width="0.59" stroke-linecap="butt" stroke-linejoin="round" />
<polyline points="577.6,201.7 577.0,223.9" fill="none" stroke="#181b20" stroke-width="0.59" stroke-linecap="butt" stroke-linejoin="round" />
<polyline points="588.2,203.4 587.6,225.6" fill="none" stroke="#181b20" stroke-width="0.59" stroke-linecap="butt" stroke-linejoin="round" />
<g transform="translate(556.2,222.0) skewY(8.90)"><rect x="0" y="0" width="35.2" height="23.6" rx="6.5" fill="#a3aec0" stroke="#181b20" stroke-width="0.6" opacity="1"/></g>
<g transform="translate(556.5,223.3) skewY(8.90)"><rect x="0" y="0" width="34.6" height="12.6" rx="5.8" fill="#bac4d2" stroke="#181b20" stroke-width="0.4" opacity="1"/></g>
<g transform="translate(562.0,227.3) skewY(8.90)"><rect x="0" y="0" width="22.0" height="2.2" rx="1.1" fill="#e9eef4" stroke="none" stroke-width="0" opacity="0.95"/></g>
<polyline points="562.5,223.7 561.9,245.6" fill="none" stroke="#181b20" stroke-width="0.59" stroke-linecap="butt" stroke-linejoin="round" />
<polyline points="581.0,226.6 580.4,248.5" fill="none" stroke="#181b20" stroke-width="0.59" stroke-linecap="butt" stroke-linejoin="round" />
<polyline points="605.0,215.0 582.5,263.0" fill="none" stroke="#181b20" stroke-width="0.65" stroke-linecap="butt" stroke-linejoin="round" />
<polyline points="611.7,223.2 623.0,224.8 598.3,265.5" fill="none" stroke="#181b20" stroke-width="0.65" stroke-linecap="butt" stroke-linejoin="round" />
<polygon points="537.3,250.5 582.5,263.0 583.2,265.3 598.5,266.2 596.2,360.0 532.5,348.7" fill="#a2adbf" stroke="#181b20" stroke-width="0.91" stroke-linejoin="round" />
<polygon points="548.7,270.0 565.0,272.5 563.7,304.5 545.0,336.2" fill="#5a616d" stroke="#181b20" stroke-width="0.78" stroke-linejoin="round" />
<polygon points="565.0,272.5 589.5,277.0 588.7,308.7 563.7,304.5" fill="#9ba6b8" stroke="#181b20" stroke-width="0.78" stroke-linejoin="round" />
<polygon points="563.7,304.5 588.7,308.7 587.5,343.7 545.0,336.2" fill="#a1acbe" stroke="#181b20" stroke-width="0.78" stroke-linejoin="round" />
<polygon points="679.0,210.0 690.0,211.7 692.7,215.0 710.5,217.8 728.7,236.0 732.3,236.0 712.5,278.5 687.7,274.7 684.0,280.7 664.5,277.7 662.0,277.3 660.6,269.5 673.0,232.0" fill="#98a3b5" stroke="#181b20" stroke-width="0.78" stroke-linejoin="round" />
<polygon points="692.7,214.4 701.0,214.2 710.5,217.6 710.0,222.6 692.7,219.6" fill="#9aa5b7" stroke="#181b20" stroke-width="0.65" stroke-linejoin="round" />
<polygon points="710.5,217.8 728.7,218.6 728.7,236.0" fill="#a3aec0" stroke="#181b20" stroke-width="0.65" stroke-linejoin="round" />
<polygon points="728.7,213.6 732.4,213.8 732.4,236.0 728.7,236.0" fill="#aab5c6" stroke="#181b20" stroke-width="0.65" stroke-linejoin="round" />
<polyline points="710.0,222.6 693.5,263.0 687.7,274.7" fill="none" stroke="#181b20" stroke-width="0.65" stroke-linecap="butt" stroke-linejoin="round" />
<polyline points="703.5,235.0 684.0,280.7" fill="none" stroke="#181b20" stroke-width="0.52" stroke-linecap="butt" stroke-linejoin="round" />
<polyline points="682.5,235.0 664.5,277.7" fill="none" stroke="#181b20" stroke-width="0.65" stroke-linecap="butt" stroke-linejoin="round" />
<polygon points="656.0,276.0 664.5,277.7 684.0,280.7 687.7,274.7 712.5,278.5 706.7,376.7 654.2,367.2" fill="#a2adbf" stroke="#181b20" stroke-width="0.91" stroke-linejoin="round" />
<polygon points="669.5,288.7 685.0,291.0 684.5,323.0 666.6,360.5" fill="#5a616d" stroke="#181b20" stroke-width="0.78" stroke-linejoin="round" />
<polygon points="685.0,291.0 702.0,293.7 700.0,326.0 684.5,323.0" fill="#9ba6b8" stroke="#181b20" stroke-width="0.78" stroke-linejoin="round" />
<polygon points="684.5,323.0 700.0,326.0 697.7,365.0 666.6,360.5" fill="#a1acbe" stroke="#181b20" stroke-width="0.78" stroke-linejoin="round" />
<path d="M555.6 211.6 L547.6 234.6 Q544.2 243.1 542.6 246.8" fill="none" stroke="#181b20" stroke-width="9.5" stroke-linecap="round" stroke-linejoin="round"/>
<path d="M555.6 211.6 L547.6 234.6 Q544.2 243.1 542.6 246.8" fill="none" stroke="#a8b3c5" stroke-width="8.0" stroke-linecap="round" stroke-linejoin="round"/>
<path d="M121.5 147.0 L116.2 162.6 L110.0 180.5 Q106.4 191.0 105.6 201.0 L105.3 210.0 L102.9 281.5" fill="none" stroke="#4d281b" stroke-width="6.1" stroke-linecap="butt" stroke-linejoin="round"/>
<path d="M121.5 147.0 L116.2 162.6 L110.0 180.5 Q106.4 191.0 105.6 201.0 L105.3 210.0 L102.9 281.5" fill="none" stroke="url(#cg)" stroke-width="4.6" stroke-linecap="butt" stroke-linejoin="round" transform="translate(-0.45,0)"/>
<path d="M121.5 147.0 L116.2 162.6 L110.0 180.5 Q106.4 191.0 105.6 201.0 L105.3 210.0 L102.9 281.5" fill="none" stroke="url(#ch)" stroke-width="1.2" stroke-linecap="butt" stroke-linejoin="round" transform="translate(-1.5,0)"/>
<ellipse cx="121.3" cy="146.8" rx="2.7" ry="1.5" fill="#dd8c6c" stroke="#4d281b" stroke-width="0.5" transform="rotate(9 121.3 146.8)"/>
<polygon points="99.3,280.4 105.6,281.5 102.5,292.8 95.7,291.0" fill="#cb7959" stroke="#4d281b" stroke-width="0.9" stroke-linejoin="round" />
<polygon points="100.2,281.4 102.0,281.8 98.5,291.4 96.8,290.9" fill="#e6a385" stroke="none" stroke-width="0.7" stroke-linejoin="round" />
<polygon points="95.7,291.0 102.5,292.8 101.9,295.8 96.1,294.4" fill="#b9684b" stroke="#4d281b" stroke-width="0.9" stroke-linejoin="round" />
<polyline points="97.7,284.6 104.3,286.0" fill="none" stroke="#4d281b" stroke-width="0.7" stroke-linecap="butt" stroke-linejoin="round" />
<polyline points="96.3,288.0 103.1,289.6" fill="none" stroke="#4d281b" stroke-width="0.6" stroke-linecap="butt" stroke-linejoin="round" />
<polyline points="112.9,165.0 118.4,166.4" fill="none" stroke="#4d281b" stroke-width="0.8" stroke-linecap="butt" stroke-linejoin="round" />
<polyline points="102.0,219.0 107.6,220.0" fill="none" stroke="#4d281b" stroke-width="0.9" stroke-linecap="butt" stroke-linejoin="round" />
<polyline points="101.8,221.0 107.4,222.0" fill="none" stroke="#eeb39a" stroke-width="0.7" stroke-linecap="butt" stroke-linejoin="round" />
<polyline points="100.4,268.0 106.0,269.0" fill="none" stroke="#4d281b" stroke-width="0.8" stroke-linecap="butt" stroke-linejoin="round" />
<path d="M136.7 149.4 L131.4 165.0 L125.2 182.9 Q121.6 193.4 120.8 203.4 L120.5 212.4 L118.1 283.9" fill="none" stroke="#4d281b" stroke-width="6.1" stroke-linecap="butt" stroke-linejoin="round"/>
<path d="M136.7 149.4 L131.4 165.0 L125.2 182.9 Q121.6 193.4 120.8 203.4 L120.5 212.4 L118.1 283.9" fill="none" stroke="url(#cg)" stroke-width="4.6" stroke-linecap="butt" stroke-linejoin="round" transform="translate(-0.45,0)"/>
<path d="M136.7 149.4 L131.4 165.0 L125.2 182.9 Q121.6 193.4 120.8 203.4 L120.5 212.4 L118.1 283.9" fill="none" stroke="url(#ch)" stroke-width="1.2" stroke-linecap="butt" stroke-linejoin="round" transform="translate(-1.5,0)"/>
<ellipse cx="136.5" cy="149.2" rx="2.7" ry="1.5" fill="#dd8c6c" stroke="#4d281b" stroke-width="0.5" transform="rotate(9 136.5 149.2)"/>
<polygon points="114.5,282.8 120.8,283.9 117.7,295.2 110.9,293.4" fill="#cb7959" stroke="#4d281b" stroke-width="0.9" stroke-linejoin="round" />
<polygon points="115.4,283.8 117.2,284.2 113.7,293.8 112.0,293.3" fill="#e6a385" stroke="none" stroke-width="0.7" stroke-linejoin="round" />
<polygon points="110.9,293.4 117.7,295.2 117.1,298.2 111.3,296.8" fill="#b9684b" stroke="#4d281b" stroke-width="0.9" stroke-linejoin="round" />
<polyline points="112.9,287.0 119.5,288.4" fill="none" stroke="#4d281b" stroke-width="0.7" stroke-linecap="butt" stroke-linejoin="round" />
<polyline points="111.5,290.4 118.3,292.0" fill="none" stroke="#4d281b" stroke-width="0.6" stroke-linecap="butt" stroke-linejoin="round" />
<polyline points="128.1,167.4 133.6,168.8" fill="none" stroke="#4d281b" stroke-width="0.8" stroke-linecap="butt" stroke-linejoin="round" />
<polyline points="117.2,223.4 122.8,224.4" fill="none" stroke="#4d281b" stroke-width="0.9" stroke-linecap="butt" stroke-linejoin="round" />
<polyline points="117.0,225.4 122.6,226.4" fill="none" stroke="#eeb39a" stroke-width="0.7" stroke-linecap="butt" stroke-linejoin="round" />
<polyline points="115.6,268.4 121.2,269.4" fill="none" stroke="#4d281b" stroke-width="0.8" stroke-linecap="butt" stroke-linejoin="round" />
<path d="M151.9 151.8 L146.6 167.4 L140.4 185.3 Q136.8 195.8 136.0 205.8 L135.7 214.8 L133.3 286.3" fill="none" stroke="#4d281b" stroke-width="6.1" stroke-linecap="butt" stroke-linejoin="round"/>
<path d="M151.9 151.8 L146.6 167.4 L140.4 185.3 Q136.8 195.8 136.0 205.8 L135.7 214.8 L133.3 286.3" fill="none" stroke="url(#cg)" stroke-width="4.6" stroke-linecap="butt" stroke-linejoin="round" transform="translate(-0.45,0)"/>
<path d="M151.9 151.8 L146.6 167.4 L140.4 185.3 Q136.8 195.8 136.0 205.8 L135.7 214.8 L133.3 286.3" fill="none" stroke="url(#ch)" stroke-width="1.2" stroke-linecap="butt" stroke-linejoin="round" transform="translate(-1.5,0)"/>
<ellipse cx="151.7" cy="151.6" rx="2.7" ry="1.5" fill="#dd8c6c" stroke="#4d281b" stroke-width="0.5" transform="rotate(9 151.7 151.6)"/>
<polygon points="129.7,285.2 136.0,286.3 132.9,297.6 126.1,295.8" fill="#cb7959" stroke="#4d281b" stroke-width="0.9" stroke-linejoin="round" />
<polygon points="130.6,286.2 132.4,286.6 128.9,296.2 127.2,295.7" fill="#e6a385" stroke="none" stroke-width="0.7" stroke-linejoin="round" />
<polygon points="126.1,295.8 132.9,297.6 132.3,300.6 126.5,299.2" fill="#b9684b" stroke="#4d281b" stroke-width="0.9" stroke-linejoin="round" />
<polyline points="128.1,289.4 134.7,290.8" fill="none" stroke="#4d281b" stroke-width="0.7" stroke-linecap="butt" stroke-linejoin="round" />
<polyline points="126.7,292.8 133.5,294.4" fill="none" stroke="#4d281b" stroke-width="0.6" stroke-linecap="butt" stroke-linejoin="round" />
<polyline points="143.3,169.8 148.8,171.2" fill="none" stroke="#4d281b" stroke-width="0.8" stroke-linecap="butt" stroke-linejoin="round" />
<polyline points="132.4,227.8 138.0,228.8" fill="none" stroke="#4d281b" stroke-width="0.9" stroke-linecap="butt" stroke-linejoin="round" />
<polyline points="132.2,229.8 137.8,230.8" fill="none" stroke="#eeb39a" stroke-width="0.7" stroke-linecap="butt" stroke-linejoin="round" />
<polyline points="130.8,268.8 136.4,269.8" fill="none" stroke="#4d281b" stroke-width="0.8" stroke-linecap="butt" stroke-linejoin="round" />
<path d="M167.1 154.1 L161.8 169.7 L155.6 187.6 Q152.0 198.1 151.2 208.1 L150.9 217.1 L148.5 288.6" fill="none" stroke="#4d281b" stroke-width="6.1" stroke-linecap="butt" stroke-linejoin="round"/>
<path d="M167.1 154.1 L161.8 169.7 L155.6 187.6 Q152.0 198.1 151.2 208.1 L150.9 217.1 L148.5 288.6" fill="none" stroke="url(#cg)" stroke-width="4.6" stroke-linecap="butt" stroke-linejoin="round" transform="translate(-0.45,0)"/>
<path d="M167.1 154.1 L161.8 169.7 L155.6 187.6 Q152.0 198.1 151.2 208.1 L150.9 217.1 L148.5 288.6" fill="none" stroke="url(#ch)" stroke-width="1.2" stroke-linecap="butt" stroke-linejoin="round" transform="translate(-1.5,0)"/>
<ellipse cx="166.9" cy="153.9" rx="2.7" ry="1.5" fill="#dd8c6c" stroke="#4d281b" stroke-width="0.5" transform="rotate(9 166.9 153.9)"/>
<polygon points="144.9,287.5 151.2,288.6 148.1,299.9 141.3,298.1" fill="#cb7959" stroke="#4d281b" stroke-width="0.9" stroke-linejoin="round" />
<polygon points="145.8,288.5 147.6,288.9 144.1,298.5 142.4,298.0" fill="#e6a385" stroke="none" stroke-width="0.7" stroke-linejoin="round" />
<polygon points="141.3,298.1 148.1,299.9 147.5,302.9 141.7,301.5" fill="#b9684b" stroke="#4d281b" stroke-width="0.9" stroke-linejoin="round" />
<polyline points="143.3,291.7 149.9,293.1" fill="none" stroke="#4d281b" stroke-width="0.7" stroke-linecap="butt" stroke-linejoin="round" />
<polyline points="141.9,295.1 148.7,296.7" fill="none" stroke="#4d281b" stroke-width="0.6" stroke-linecap="butt" stroke-linejoin="round" />
<polyline points="158.5,172.1 164.0,173.5" fill="none" stroke="#4d281b" stroke-width="0.8" stroke-linecap="butt" stroke-linejoin="round" />
<polyline points="147.6,227.1 153.2,228.1" fill="none" stroke="#4d281b" stroke-width="0.9" stroke-linecap="butt" stroke-linejoin="round" />
<polyline points="147.4,229.1 153.0,230.1" fill="none" stroke="#eeb39a" stroke-width="0.7" stroke-linecap="butt" stroke-linejoin="round" />
<polyline points="146.0,274.1 151.6,275.1" fill="none" stroke="#4d281b" stroke-width="0.8" stroke-linecap="butt" stroke-linejoin="round" />
<path d="M182.3 156.5 L177.0 172.1 L170.8 190.0 Q167.2 200.5 166.4 210.5 L166.1 219.5 L163.7 291.0" fill="none" stroke="#4d281b" stroke-width="6.1" stroke-linecap="butt" stroke-linejoin="round"/>
<path d="M182.3 156.5 L177.0 172.1 L170.8 190.0 Q167.2 200.5 166.4 210.5 L166.1 219.5 L163.7 291.0" fill="none" stroke="url(#cg)" stroke-width="4.6" stroke-linecap="butt" stroke-linejoin="round" transform="translate(-0.45,0)"/>
<path d="M182.3 156.5 L177.0 172.1 L170.8 190.0 Q167.2 200.5 166.4 210.5 L166.1 219.5 L163.7 291.0" fill="none" stroke="url(#ch)" stroke-width="1.2" stroke-linecap="butt" stroke-linejoin="round" transform="translate(-1.5,0)"/>
<ellipse cx="182.1" cy="156.3" rx="2.7" ry="1.5" fill="#dd8c6c" stroke="#4d281b" stroke-width="0.5" transform="rotate(9 182.1 156.3)"/>
<polygon points="160.1,289.9 166.4,291.0 163.3,302.3 156.5,300.5" fill="#cb7959" stroke="#4d281b" stroke-width="0.9" stroke-linejoin="round" />
<polygon points="161.0,290.9 162.8,291.3 159.3,300.9 157.6,300.4" fill="#e6a385" stroke="none" stroke-width="0.7" stroke-linejoin="round" />
<polygon points="156.5,300.5 163.3,302.3 162.7,305.3 156.9,303.9" fill="#b9684b" stroke="#4d281b" stroke-width="0.9" stroke-linejoin="round" />
<polyline points="158.5,294.1 165.1,295.5" fill="none" stroke="#4d281b" stroke-width="0.7" stroke-linecap="butt" stroke-linejoin="round" />
<polyline points="157.1,297.5 163.9,299.1" fill="none" stroke="#4d281b" stroke-width="0.6" stroke-linecap="butt" stroke-linejoin="round" />
<polyline points="173.7,174.5 179.2,175.9" fill="none" stroke="#4d281b" stroke-width="0.8" stroke-linecap="butt" stroke-linejoin="round" />
<polyline points="162.8,231.5 168.4,232.5" fill="none" stroke="#4d281b" stroke-width="0.9" stroke-linecap="butt" stroke-linejoin="round" />
<polyline points="162.6,233.5 168.2,234.5" fill="none" stroke="#eeb39a" stroke-width="0.7" stroke-linecap="butt" stroke-linejoin="round" />
<polyline points="161.2,274.5 166.8,275.5" fill="none" stroke="#4d281b" stroke-width="0.8" stroke-linecap="butt" stroke-linejoin="round" />
<path d="M197.5 158.9 L192.2 174.5 L186.0 192.4 Q182.4 202.9 181.6 212.9 L181.3 221.9 L178.9 293.4" fill="none" stroke="#4d281b" stroke-width="6.1" stroke-linecap="butt" stroke-linejoin="round"/>
<path d="M197.5 158.9 L192.2 174.5 L186.0 192.4 Q182.4 202.9 181.6 212.9 L181.3 221.9 L178.9 293.4" fill="none" stroke="url(#cg)" stroke-width="4.6" stroke-linecap="butt" stroke-linejoin="round" transform="translate(-0.45,0)"/>
<path d="M197.5 158.9 L192.2 174.5 L186.0 192.4 Q182.4 202.9 181.6 212.9 L181.3 221.9 L178.9 293.4" fill="none" stroke="url(#ch)" stroke-width="1.2" stroke-linecap="butt" stroke-linejoin="round" transform="translate(-1.5,0)"/>
<ellipse cx="197.3" cy="158.7" rx="2.7" ry="1.5" fill="#dd8c6c" stroke="#4d281b" stroke-width="0.5" transform="rotate(9 197.3 158.7)"/>
<polygon points="175.3,292.3 181.6,293.4 178.5,304.7 171.7,302.9" fill="#cb7959" stroke="#4d281b" stroke-width="0.9" stroke-linejoin="round" />
<polygon points="176.2,293.3 178.0,293.7 174.5,303.3 172.8,302.8" fill="#e6a385" stroke="none" stroke-width="0.7" stroke-linejoin="round" />
<polygon points="171.7,302.9 178.5,304.7 177.9,307.7 172.1,306.3" fill="#b9684b" stroke="#4d281b" stroke-width="0.9" stroke-linejoin="round" />
<polyline points="173.7,296.5 180.3,297.9" fill="none" stroke="#4d281b" stroke-width="0.7" stroke-linecap="butt" stroke-linejoin="round" />
<polyline points="172.3,299.9 179.1,301.5" fill="none" stroke="#4d281b" stroke-width="0.6" stroke-linecap="butt" stroke-linejoin="round" />
<polyline points="188.9,176.9 194.4,178.3" fill="none" stroke="#4d281b" stroke-width="0.8" stroke-linecap="butt" stroke-linejoin="round" />
<polyline points="178.0,230.9 183.6,231.9" fill="none" stroke="#4d281b" stroke-width="0.9" stroke-linecap="butt" stroke-linejoin="round" />
<polyline points="177.8,232.9 183.4,233.9" fill="none" stroke="#eeb39a" stroke-width="0.7" stroke-linecap="butt" stroke-linejoin="round" />
<polyline points="176.4,279.9 182.0,280.9" fill="none" stroke="#4d281b" stroke-width="0.8" stroke-linecap="butt" stroke-linejoin="round" />
<path d="M212.7 161.3 L207.4 176.9 L201.2 194.8 Q197.6 205.3 196.8 215.3 L196.5 224.3 L194.1 295.8" fill="none" stroke="#4d281b" stroke-width="6.1" stroke-linecap="butt" stroke-linejoin="round"/>
<path d="M212.7 161.3 L207.4 176.9 L201.2 194.8 Q197.6 205.3 196.8 215.3 L196.5 224.3 L194.1 295.8" fill="none" stroke="url(#cg)" stroke-width="4.6" stroke-linecap="butt" stroke-linejoin="round" transform="translate(-0.45,0)"/>
<path d="M212.7 161.3 L207.4 176.9 L201.2 194.8 Q197.6 205.3 196.8 215.3 L196.5 224.3 L194.1 295.8" fill="none" stroke="url(#ch)" stroke-width="1.2" stroke-linecap="butt" stroke-linejoin="round" transform="translate(-1.5,0)"/>
<ellipse cx="212.5" cy="161.1" rx="2.7" ry="1.5" fill="#dd8c6c" stroke="#4d281b" stroke-width="0.5" transform="rotate(9 212.5 161.1)"/>
<polygon points="190.5,294.7 196.8,295.8 193.7,307.1 186.9,305.3" fill="#cb7959" stroke="#4d281b" stroke-width="0.9" stroke-linejoin="round" />
<polygon points="191.4,295.7 193.2,296.1 189.7,305.7 188.0,305.2" fill="#e6a385" stroke="none" stroke-width="0.7" stroke-linejoin="round" />
<polygon points="186.9,305.3 193.7,307.1 193.1,310.1 187.3,308.7" fill="#b9684b" stroke="#4d281b" stroke-width="0.9" stroke-linejoin="round" />
<polyline points="188.9,298.9 195.5,300.3" fill="none" stroke="#4d281b" stroke-width="0.7" stroke-linecap="butt" stroke-linejoin="round" />
<polyline points="187.5,302.3 194.3,303.9" fill="none" stroke="#4d281b" stroke-width="0.6" stroke-linecap="butt" stroke-linejoin="round" />
<polyline points="204.1,179.3 209.6,180.7" fill="none" stroke="#4d281b" stroke-width="0.8" stroke-linecap="butt" stroke-linejoin="round" />
<polyline points="193.2,235.3 198.8,236.3" fill="none" stroke="#4d281b" stroke-width="0.9" stroke-linecap="butt" stroke-linejoin="round" />
<polyline points="193.0,237.3 198.6,238.3" fill="none" stroke="#eeb39a" stroke-width="0.7" stroke-linecap="butt" stroke-linejoin="round" />
<polyline points="191.6,280.3 197.2,281.3" fill="none" stroke="#4d281b" stroke-width="0.8" stroke-linecap="butt" stroke-linejoin="round" />
<path d="M227.9 163.7 L222.6 179.3 L216.4 197.2 Q212.8 207.7 212.0 217.7 L211.7 226.7 L209.3 298.2" fill="none" stroke="#4d281b" stroke-width="6.1" stroke-linecap="butt" stroke-linejoin="round"/>
<path d="M227.9 163.7 L222.6 179.3 L216.4 197.2 Q212.8 207.7 212.0 217.7 L211.7 226.7 L209.3 298.2" fill="none" stroke="url(#cg)" stroke-width="4.6" stroke-linecap="butt" stroke-linejoin="round" transform="translate(-0.45,0)"/>
<path d="M227.9 163.7 L222.6 179.3 L216.4 197.2 Q212.8 207.7 212.0 217.7 L211.7 226.7 L209.3 298.2" fill="none" stroke="url(#ch)" stroke-width="1.2" stroke-linecap="butt" stroke-linejoin="round" transform="translate(-1.5,0)"/>
<ellipse cx="227.7" cy="163.5" rx="2.7" ry="1.5" fill="#dd8c6c" stroke="#4d281b" stroke-width="0.5" transform="rotate(9 227.7 163.5)"/>
<polygon points="205.7,297.1 212.0,298.2 208.9,309.5 202.1,307.7" fill="#cb7959" stroke="#4d281b" stroke-width="0.9" stroke-linejoin="round" />
<polygon points="206.6,298.1 208.4,298.5 204.9,308.1 203.2,307.6" fill="#e6a385" stroke="none" stroke-width="0.7" stroke-linejoin="round" />
<polygon points="202.1,307.7 208.9,309.5 208.3,312.5 202.5,311.1" fill="#b9684b" stroke="#4d281b" stroke-width="0.9" stroke-linejoin="round" />
<polyline points="204.1,301.3 210.7,302.7" fill="none" stroke="#4d281b" stroke-width="0.7" stroke-linecap="butt" stroke-linejoin="round" />
<polyline points="202.7,304.7 209.5,306.3" fill="none" stroke="#4d281b" stroke-width="0.6" stroke-linecap="butt" stroke-linejoin="round" />
<polyline points="219.3,181.7 224.8,183.1" fill="none" stroke="#4d281b" stroke-width="0.8" stroke-linecap="butt" stroke-linejoin="round" />
<polyline points="208.4,239.7 214.0,240.7" fill="none" stroke="#4d281b" stroke-width="0.9" stroke-linecap="butt" stroke-linejoin="round" />
<polyline points="208.2,241.7 213.8,242.7" fill="none" stroke="#eeb39a" stroke-width="0.7" stroke-linecap="butt" stroke-linejoin="round" />
<polyline points="206.8,280.7 212.4,281.7" fill="none" stroke="#4d281b" stroke-width="0.8" stroke-linecap="butt" stroke-linejoin="round" />
<path d="M243.1 166.0 L237.8 181.6 L231.6 199.5 Q228.0 210.0 227.2 220.0 L226.9 229.0 L224.5 300.5" fill="none" stroke="#4d281b" stroke-width="6.1" stroke-linecap="butt" stroke-linejoin="round"/>
<path d="M243.1 166.0 L237.8 181.6 L231.6 199.5 Q228.0 210.0 227.2 220.0 L226.9 229.0 L224.5 300.5" fill="none" stroke="url(#cg)" stroke-width="4.6" stroke-linecap="butt" stroke-linejoin="round" transform="translate(-0.45,0)"/>
<path d="M243.1 166.0 L237.8 181.6 L231.6 199.5 Q228.0 210.0 227.2 220.0 L226.9 229.0 L224.5 300.5" fill="none" stroke="url(#ch)" stroke-width="1.2" stroke-linecap="butt" stroke-linejoin="round" transform="translate(-1.5,0)"/>
<ellipse cx="242.9" cy="165.8" rx="2.7" ry="1.5" fill="#dd8c6c" stroke="#4d281b" stroke-width="0.5" transform="rotate(9 242.9 165.8)"/>
<polygon points="220.9,299.4 227.2,300.5 224.1,311.8 217.3,310.0" fill="#cb7959" stroke="#4d281b" stroke-width="0.9" stroke-linejoin="round" />
<polygon points="221.8,300.4 223.6,300.8 220.1,310.4 218.4,309.9" fill="#e6a385" stroke="none" stroke-width="0.7" stroke-linejoin="round" />
<polygon points="217.3,310.0 224.1,311.8 223.5,314.8 217.7,313.4" fill="#b9684b" stroke="#4d281b" stroke-width="0.9" stroke-linejoin="round" />
<polyline points="219.3,303.6 225.9,305.0" fill="none" stroke="#4d281b" stroke-width="0.7" stroke-linecap="butt" stroke-linejoin="round" />
<polyline points="217.9,307.0 224.7,308.6" fill="none" stroke="#4d281b" stroke-width="0.6" stroke-linecap="butt" stroke-linejoin="round" />
<polyline points="234.5,184.0 240.0,185.4" fill="none" stroke="#4d281b" stroke-width="0.8" stroke-linecap="butt" stroke-linejoin="round" />
<polyline points="223.6,239.0 229.2,240.0" fill="none" stroke="#4d281b" stroke-width="0.9" stroke-linecap="butt" stroke-linejoin="round" />
<polyline points="223.4,241.0 229.0,242.0" fill="none" stroke="#eeb39a" stroke-width="0.7" stroke-linecap="butt" stroke-linejoin="round" />
<polyline points="222.0,286.0 227.6,287.0" fill="none" stroke="#4d281b" stroke-width="0.8" stroke-linecap="butt" stroke-linejoin="round" />
<path d="M258.3 168.4 L253.0 184.0 L246.8 201.9 Q243.2 212.4 242.4 222.4 L242.1 231.4 L239.7 302.9" fill="none" stroke="#4d281b" stroke-width="6.1" stroke-linecap="butt" stroke-linejoin="round"/>
<path d="M258.3 168.4 L253.0 184.0 L246.8 201.9 Q243.2 212.4 242.4 222.4 L242.1 231.4 L239.7 302.9" fill="none" stroke="url(#cg)" stroke-width="4.6" stroke-linecap="butt" stroke-linejoin="round" transform="translate(-0.45,0)"/>
<path d="M258.3 168.4 L253.0 184.0 L246.8 201.9 Q243.2 212.4 242.4 222.4 L242.1 231.4 L239.7 302.9" fill="none" stroke="url(#ch)" stroke-width="1.2" stroke-linecap="butt" stroke-linejoin="round" transform="translate(-1.5,0)"/>
<ellipse cx="258.1" cy="168.2" rx="2.7" ry="1.5" fill="#dd8c6c" stroke="#4d281b" stroke-width="0.5" transform="rotate(9 258.1 168.2)"/>
<polygon points="236.1,301.8 242.4,302.9 239.3,314.2 232.5,312.4" fill="#cb7959" stroke="#4d281b" stroke-width="0.9" stroke-linejoin="round" />
<polygon points="237.0,302.8 238.8,303.2 235.3,312.8 233.6,312.3" fill="#e6a385" stroke="none" stroke-width="0.7" stroke-linejoin="round" />
<polygon points="232.5,312.4 239.3,314.2 238.7,317.2 232.9,315.8" fill="#b9684b" stroke="#4d281b" stroke-width="0.9" stroke-linejoin="round" />
<polyline points="234.5,306.0 241.1,307.4" fill="none" stroke="#4d281b" stroke-width="0.7" stroke-linecap="butt" stroke-linejoin="round" />
<polyline points="233.1,309.4 239.9,311.0" fill="none" stroke="#4d281b" stroke-width="0.6" stroke-linecap="butt" stroke-linejoin="round" />
<polyline points="249.7,186.4 255.2,187.8" fill="none" stroke="#4d281b" stroke-width="0.8" stroke-linecap="butt" stroke-linejoin="round" />
<polyline points="238.8,243.4 244.4,244.4" fill="none" stroke="#4d281b" stroke-width="0.9" stroke-linecap="butt" stroke-linejoin="round" />
<polyline points="238.6,245.4 244.2,246.4" fill="none" stroke="#eeb39a" stroke-width="0.7" stroke-linecap="butt" stroke-linejoin="round" />
<polyline points="237.2,286.4 242.8,287.4" fill="none" stroke="#4d281b" stroke-width="0.8" stroke-linecap="butt" stroke-linejoin="round" />
<path d="M273.5 170.8 L268.2 186.4 L262.0 204.3 Q258.4 214.8 257.6 224.8 L257.3 233.8 L254.9 305.3" fill="none" stroke="#4d281b" stroke-width="6.1" stroke-linecap="butt" stroke-linejoin="round"/>
<path d="M273.5 170.8 L268.2 186.4 L262.0 204.3 Q258.4 214.8 257.6 224.8 L257.3 233.8 L254.9 305.3" fill="none" stroke="url(#cg)" stroke-width="4.6" stroke-linecap="butt" stroke-linejoin="round" transform="translate(-0.45,0)"/>
<path d="M273.5 170.8 L268.2 186.4 L262.0 204.3 Q258.4 214.8 257.6 224.8 L257.3 233.8 L254.9 305.3" fill="none" stroke="url(#ch)" stroke-width="1.2" stroke-linecap="butt" stroke-linejoin="round" transform="translate(-1.5,0)"/>
<ellipse cx="273.3" cy="170.6" rx="2.7" ry="1.5" fill="#dd8c6c" stroke="#4d281b" stroke-width="0.5" transform="rotate(9 273.3 170.6)"/>
<polygon points="251.3,304.2 257.6,305.3 254.5,316.6 247.7,314.8" fill="#cb7959" stroke="#4d281b" stroke-width="0.9" stroke-linejoin="round" />
<polygon points="252.2,305.2 254.0,305.6 250.5,315.2 248.8,314.7" fill="#e6a385" stroke="none" stroke-width="0.7" stroke-linejoin="round" />
<polygon points="247.7,314.8 254.5,316.6 253.9,319.6 248.1,318.2" fill="#b9684b" stroke="#4d281b" stroke-width="0.9" stroke-linejoin="round" />
<polyline points="249.7,308.4 256.3,309.8" fill="none" stroke="#4d281b" stroke-width="0.7" stroke-linecap="butt" stroke-linejoin="round" />
<polyline points="248.3,311.8 255.1,313.4" fill="none" stroke="#4d281b" stroke-width="0.6" stroke-linecap="butt" stroke-linejoin="round" />
<polyline points="264.9,188.8 270.4,190.2" fill="none" stroke="#4d281b" stroke-width="0.8" stroke-linecap="butt" stroke-linejoin="round" />
<polyline points="254.0,242.8 259.6,243.8" fill="none" stroke="#4d281b" stroke-width="0.9" stroke-linecap="butt" stroke-linejoin="round" />
<polyline points="253.8,244.8 259.4,245.8" fill="none" stroke="#eeb39a" stroke-width="0.7" stroke-linecap="butt" stroke-linejoin="round" />
<polyline points="252.4,291.8 258.0,292.8" fill="none" stroke="#4d281b" stroke-width="0.8" stroke-linecap="butt" stroke-linejoin="round" />
<path d="M288.7 173.2 L283.4 188.8 L277.2 206.7 Q273.6 217.2 272.8 227.2 L272.5 236.2 L270.1 307.7" fill="none" stroke="#4d281b" stroke-width="6.1" stroke-linecap="butt" stroke-linejoin="round"/>
<path d="M288.7 173.2 L283.4 188.8 L277.2 206.7 Q273.6 217.2 272.8 227.2 L272.5 236.2 L270.1 307.7" fill="none" stroke="url(#cg)" stroke-width="4.6" stroke-linecap="butt" stroke-linejoin="round" transform="translate(-0.45,0)"/>
<path d="M288.7 173.2 L283.4 188.8 L277.2 206.7 Q273.6 217.2 272.8 227.2 L272.5 236.2 L270.1 307.7" fill="none" stroke="url(#ch)" stroke-width="1.2" stroke-linecap="butt" stroke-linejoin="round" transform="translate(-1.5,0)"/>
<ellipse cx="288.5" cy="173.0" rx="2.7" ry="1.5" fill="#dd8c6c" stroke="#4d281b" stroke-width="0.5" transform="rotate(9 288.5 173.0)"/>
<polygon points="266.5,306.6 272.8,307.7 269.7,319.0 262.9,317.2" fill="#cb7959" stroke="#4d281b" stroke-width="0.9" stroke-linejoin="round" />
<polygon points="267.4,307.6 269.2,308.0 265.7,317.6 264.0,317.1" fill="#e6a385" stroke="none" stroke-width="0.7" stroke-linejoin="round" />
<polygon points="262.9,317.2 269.7,319.0 269.1,322.0 263.3,320.6" fill="#b9684b" stroke="#4d281b" stroke-width="0.9" stroke-linejoin="round" />
<polyline points="264.9,310.8 271.5,312.2" fill="none" stroke="#4d281b" stroke-width="0.7" stroke-linecap="butt" stroke-linejoin="round" />
<polyline points="263.5,314.2 270.3,315.8" fill="none" stroke="#4d281b" stroke-width="0.6" stroke-linecap="butt" stroke-linejoin="round" />
<polyline points="280.1,191.2 285.6,192.6" fill="none" stroke="#4d281b" stroke-width="0.8" stroke-linecap="butt" stroke-linejoin="round" />
<polyline points="269.2,247.2 274.8,248.2" fill="none" stroke="#4d281b" stroke-width="0.9" stroke-linecap="butt" stroke-linejoin="round" />
<polyline points="269.0,249.2 274.6,250.2" fill="none" stroke="#eeb39a" stroke-width="0.7" stroke-linecap="butt" stroke-linejoin="round" />
<polyline points="267.6,292.2 273.2,293.2" fill="none" stroke="#4d281b" stroke-width="0.8" stroke-linecap="butt" stroke-linejoin="round" />
<path d="M303.9 175.6 L298.6 191.2 L292.4 209.1 Q288.8 219.6 288.0 229.6 L287.7 238.6 L285.3 310.1" fill="none" stroke="#4d281b" stroke-width="6.1" stroke-linecap="butt" stroke-linejoin="round"/>
<path d="M303.9 175.6 L298.6 191.2 L292.4 209.1 Q288.8 219.6 288.0 229.6 L287.7 238.6 L285.3 310.1" fill="none" stroke="url(#cg)" stroke-width="4.6" stroke-linecap="butt" stroke-linejoin="round" transform="translate(-0.45,0)"/>
<path d="M303.9 175.6 L298.6 191.2 L292.4 209.1 Q288.8 219.6 288.0 229.6 L287.7 238.6 L285.3 310.1" fill="none" stroke="url(#ch)" stroke-width="1.2" stroke-linecap="butt" stroke-linejoin="round" transform="translate(-1.5,0)"/>
<ellipse cx="303.7" cy="175.4" rx="2.7" ry="1.5" fill="#dd8c6c" stroke="#4d281b" stroke-width="0.5" transform="rotate(9 303.7 175.4)"/>
<polygon points="281.7,309.0 288.0,310.1 284.9,321.4 278.1,319.6" fill="#cb7959" stroke="#4d281b" stroke-width="0.9" stroke-linejoin="round" />
<polygon points="282.6,310.0 284.4,310.4 280.9,320.0 279.2,319.5" fill="#e6a385" stroke="none" stroke-width="0.7" stroke-linejoin="round" />
<polygon points="278.1,319.6 284.9,321.4 284.3,324.4 278.5,323.0" fill="#b9684b" stroke="#4d281b" stroke-width="0.9" stroke-linejoin="round" />
<polyline points="280.1,313.2 286.7,314.6" fill="none" stroke="#4d281b" stroke-width="0.7" stroke-linecap="butt" stroke-linejoin="round" />
<polyline points="278.7,316.6 285.5,318.2" fill="none" stroke="#4d281b" stroke-width="0.6" stroke-linecap="butt" stroke-linejoin="round" />
<polyline points="295.3,193.6 300.8,195.0" fill="none" stroke="#4d281b" stroke-width="0.8" stroke-linecap="butt" stroke-linejoin="round" />
<polyline points="284.4,251.6 290.0,252.6" fill="none" stroke="#4d281b" stroke-width="0.9" stroke-linecap="butt" stroke-linejoin="round" />
<polyline points="284.2,253.6 289.8,254.6" fill="none" stroke="#eeb39a" stroke-width="0.7" stroke-linecap="butt" stroke-linejoin="round" />
<polyline points="282.8,292.6 288.4,293.6" fill="none" stroke="#4d281b" stroke-width="0.8" stroke-linecap="butt" stroke-linejoin="round" />
<path d="M319.1 177.9 L313.8 193.5 L307.6 211.4 Q304.0 221.9 303.2 231.9 L302.9 240.9 L300.5 312.4" fill="none" stroke="#4d281b" stroke-width="6.1" stroke-linecap="butt" stroke-linejoin="round"/>
<path d="M319.1 177.9 L313.8 193.5 L307.6 211.4 Q304.0 221.9 303.2 231.9 L302.9 240.9 L300.5 312.4" fill="none" stroke="url(#cg)" stroke-width="4.6" stroke-linecap="butt" stroke-linejoin="round" transform="translate(-0.45,0)"/>
<path d="M319.1 177.9 L313.8 193.5 L307.6 211.4 Q304.0 221.9 303.2 231.9 L302.9 240.9 L300.5 312.4" fill="none" stroke="url(#ch)" stroke-width="1.2" stroke-linecap="butt" stroke-linejoin="round" transform="translate(-1.5,0)"/>
<ellipse cx="318.9" cy="177.7" rx="2.7" ry="1.5" fill="#dd8c6c" stroke="#4d281b" stroke-width="0.5" transform="rotate(9 318.9 177.7)"/>
<polygon points="296.9,311.3 303.2,312.4 300.1,323.7 293.3,321.9" fill="#cb7959" stroke="#4d281b" stroke-width="0.9" stroke-linejoin="round" />
<polygon points="297.8,312.3 299.6,312.7 296.1,322.3 294.4,321.8" fill="#e6a385" stroke="none" stroke-width="0.7" stroke-linejoin="round" />
<polygon points="293.3,321.9 300.1,323.7 299.5,326.7 293.7,325.3" fill="#b9684b" stroke="#4d281b" stroke-width="0.9" stroke-linejoin="round" />
<polyline points="295.3,315.5 301.9,316.9" fill="none" stroke="#4d281b" stroke-width="0.7" stroke-linecap="butt" stroke-linejoin="round" />
<polyline points="293.9,318.9 300.7,320.5" fill="none" stroke="#4d281b" stroke-width="0.6" stroke-linecap="butt" stroke-linejoin="round" />
<polyline points="310.5,195.9 316.0,197.3" fill="none" stroke="#4d281b" stroke-width="0.8" stroke-linecap="butt" stroke-linejoin="round" />
<polyline points="299.6,250.9 305.2,251.9" fill="none" stroke="#4d281b" stroke-width="0.9" stroke-linecap="butt" stroke-linejoin="round" />
<polyline points="299.4,252.9 305.0,253.9" fill="none" stroke="#eeb39a" stroke-width="0.7" stroke-linecap="butt" stroke-linejoin="round" />
<polyline points="298.0,297.9 303.6,298.9" fill="none" stroke="#4d281b" stroke-width="0.8" stroke-linecap="butt" stroke-linejoin="round" />
<path d="M334.3 180.3 L329.0 195.9 L322.8 213.8 Q319.2 224.3 318.4 234.3 L318.1 243.3 L315.7 314.8" fill="none" stroke="#4d281b" stroke-width="6.1" stroke-linecap="butt" stroke-linejoin="round"/>
<path d="M334.3 180.3 L329.0 195.9 L322.8 213.8 Q319.2 224.3 318.4 234.3 L318.1 243.3 L315.7 314.8" fill="none" stroke="url(#cg)" stroke-width="4.6" stroke-linecap="butt" stroke-linejoin="round" transform="translate(-0.45,0)"/>
<path d="M334.3 180.3 L329.0 195.9 L322.8 213.8 Q319.2 224.3 318.4 234.3 L318.1 243.3 L315.7 314.8" fill="none" stroke="url(#ch)" stroke-width="1.2" stroke-linecap="butt" stroke-linejoin="round" transform="translate(-1.5,0)"/>
<ellipse cx="334.1" cy="180.1" rx="2.7" ry="1.5" fill="#dd8c6c" stroke="#4d281b" stroke-width="0.5" transform="rotate(9 334.1 180.1)"/>
<polygon points="312.1,313.7 318.4,314.8 315.3,326.1 308.5,324.3" fill="#cb7959" stroke="#4d281b" stroke-width="0.9" stroke-linejoin="round" />
<polygon points="313.0,314.7 314.8,315.1 311.3,324.7 309.6,324.2" fill="#e6a385" stroke="none" stroke-width="0.7" stroke-linejoin="round" />
<polygon points="308.5,324.3 315.3,326.1 314.7,329.1 308.9,327.7" fill="#b9684b" stroke="#4d281b" stroke-width="0.9" stroke-linejoin="round" />
<polyline points="310.5,317.9 317.1,319.3" fill="none" stroke="#4d281b" stroke-width="0.7" stroke-linecap="butt" stroke-linejoin="round" />
<polyline points="309.1,321.3 315.9,322.9" fill="none" stroke="#4d281b" stroke-width="0.6" stroke-linecap="butt" stroke-linejoin="round" />
<polyline points="325.7,198.3 331.2,199.7" fill="none" stroke="#4d281b" stroke-width="0.8" stroke-linecap="butt" stroke-linejoin="round" />
<polyline points="314.8,255.3 320.4,256.3" fill="none" stroke="#4d281b" stroke-width="0.9" stroke-linecap="butt" stroke-linejoin="round" />
<polyline points="314.6,257.3 320.2,258.3" fill="none" stroke="#eeb39a" stroke-width="0.7" stroke-linecap="butt" stroke-linejoin="round" />
<polyline points="313.2,298.3 318.8,299.3" fill="none" stroke="#4d281b" stroke-width="0.8" stroke-linecap="butt" stroke-linejoin="round" />
<path d="M349.5 182.7 L344.2 198.3 L338.0 216.2 Q334.4 226.7 333.6 236.7 L333.3 245.7 L330.9 317.2" fill="none" stroke="#4d281b" stroke-width="6.1" stroke-linecap="butt" stroke-linejoin="round"/>
<path d="M349.5 182.7 L344.2 198.3 L338.0 216.2 Q334.4 226.7 333.6 236.7 L333.3 245.7 L330.9 317.2" fill="none" stroke="url(#cg)" stroke-width="4.6" stroke-linecap="butt" stroke-linejoin="round" transform="translate(-0.45,0)"/>
<path d="M349.5 182.7 L344.2 198.3 L338.0 216.2 Q334.4 226.7 333.6 236.7 L333.3 245.7 L330.9 317.2" fill="none" stroke="url(#ch)" stroke-width="1.2" stroke-linecap="butt" stroke-linejoin="round" transform="translate(-1.5,0)"/>
<ellipse cx="349.3" cy="182.5" rx="2.7" ry="1.5" fill="#dd8c6c" stroke="#4d281b" stroke-width="0.5" transform="rotate(9 349.3 182.5)"/>
<polygon points="327.3,316.1 333.6,317.2 330.5,328.5 323.7,326.7" fill="#cb7959" stroke="#4d281b" stroke-width="0.9" stroke-linejoin="round" />
<polygon points="328.2,317.1 330.0,317.5 326.5,327.1 324.8,326.6" fill="#e6a385" stroke="none" stroke-width="0.7" stroke-linejoin="round" />
<polygon points="323.7,326.7 330.5,328.5 329.9,331.5 324.1,330.1" fill="#b9684b" stroke="#4d281b" stroke-width="0.9" stroke-linejoin="round" />
<polyline points="325.7,320.3 332.3,321.7" fill="none" stroke="#4d281b" stroke-width="0.7" stroke-linecap="butt" stroke-linejoin="round" />
<polyline points="324.3,323.7 331.1,325.3" fill="none" stroke="#4d281b" stroke-width="0.6" stroke-linecap="butt" stroke-linejoin="round" />
<polyline points="340.9,200.7 346.4,202.1" fill="none" stroke="#4d281b" stroke-width="0.8" stroke-linecap="butt" stroke-linejoin="round" />
<polyline points="330.0,254.7 335.6,255.7" fill="none" stroke="#4d281b" stroke-width="0.9" stroke-linecap="butt" stroke-linejoin="round" />
<polyline points="329.8,256.7 335.4,257.7" fill="none" stroke="#eeb39a" stroke-width="0.7" stroke-linecap="butt" stroke-linejoin="round" />
<polyline points="328.4,303.7 334.0,304.7" fill="none" stroke="#4d281b" stroke-width="0.8" stroke-linecap="butt" stroke-linejoin="round" />
<path d="M364.7 185.1 L359.4 200.7 L353.2 218.6 Q349.6 229.1 348.8 239.1 L348.5 248.1 L346.1 319.6" fill="none" stroke="#4d281b" stroke-width="6.1" stroke-linecap="butt" stroke-linejoin="round"/>
<path d="M364.7 185.1 L359.4 200.7 L353.2 218.6 Q349.6 229.1 348.8 239.1 L348.5 248.1 L346.1 319.6" fill="none" stroke="url(#cg)" stroke-width="4.6" stroke-linecap="butt" stroke-linejoin="round" transform="translate(-0.45,0)"/>
<path d="M364.7 185.1 L359.4 200.7 L353.2 218.6 Q349.6 229.1 348.8 239.1 L348.5 248.1 L346.1 319.6" fill="none" stroke="url(#ch)" stroke-width="1.2" stroke-linecap="butt" stroke-linejoin="round" transform="translate(-1.5,0)"/>
<ellipse cx="364.5" cy="184.9" rx="2.7" ry="1.5" fill="#dd8c6c" stroke="#4d281b" stroke-width="0.5" transform="rotate(9 364.5 184.9)"/>
<polygon points="342.5,318.5 348.8,319.6 345.7,330.9 338.9,329.1" fill="#cb7959" stroke="#4d281b" stroke-width="0.9" stroke-linejoin="round" />
<polygon points="343.4,319.5 345.2,319.9 341.7,329.5 340.0,329.0" fill="#e6a385" stroke="none" stroke-width="0.7" stroke-linejoin="round" />
<polygon points="338.9,329.1 345.7,330.9 345.1,333.9 339.3,332.5" fill="#b9684b" stroke="#4d281b" stroke-width="0.9" stroke-linejoin="round" />
<polyline points="340.9,322.7 347.5,324.1" fill="none" stroke="#4d281b" stroke-width="0.7" stroke-linecap="butt" stroke-linejoin="round" />
<polyline points="339.5,326.1 346.3,327.7" fill="none" stroke="#4d281b" stroke-width="0.6" stroke-linecap="butt" stroke-linejoin="round" />
<polyline points="356.1,203.1 361.6,204.5" fill="none" stroke="#4d281b" stroke-width="0.8" stroke-linecap="butt" stroke-linejoin="round" />
<polyline points="345.2,259.1 350.8,260.1" fill="none" stroke="#4d281b" stroke-width="0.9" stroke-linecap="butt" stroke-linejoin="round" />
<polyline points="345.0,261.1 350.6,262.1" fill="none" stroke="#eeb39a" stroke-width="0.7" stroke-linecap="butt" stroke-linejoin="round" />
<polyline points="343.6,304.1 349.2,305.1" fill="none" stroke="#4d281b" stroke-width="0.8" stroke-linecap="butt" stroke-linejoin="round" />
<path d="M379.9 187.5 L374.6 203.1 L368.4 221.0 Q364.8 231.5 364.0 241.5 L363.7 250.5 L361.3 322.0" fill="none" stroke="#4d281b" stroke-width="6.1" stroke-linecap="butt" stroke-linejoin="round"/>
<path d="M379.9 187.5 L374.6 203.1 L368.4 221.0 Q364.8 231.5 364.0 241.5 L363.7 250.5 L361.3 322.0" fill="none" stroke="url(#cg)" stroke-width="4.6" stroke-linecap="butt" stroke-linejoin="round" transform="translate(-0.45,0)"/>
<path d="M379.9 187.5 L374.6 203.1 L368.4 221.0 Q364.8 231.5 364.0 241.5 L363.7 250.5 L361.3 322.0" fill="none" stroke="url(#ch)" stroke-width="1.2" stroke-linecap="butt" stroke-linejoin="round" transform="translate(-1.5,0)"/>
<ellipse cx="379.7" cy="187.3" rx="2.7" ry="1.5" fill="#dd8c6c" stroke="#4d281b" stroke-width="0.5" transform="rotate(9 379.7 187.3)"/>
<polygon points="357.7,320.9 364.0,322.0 360.9,333.3 354.1,331.5" fill="#cb7959" stroke="#4d281b" stroke-width="0.9" stroke-linejoin="round" />
<polygon points="358.6,321.9 360.4,322.3 356.9,331.9 355.2,331.4" fill="#e6a385" stroke="none" stroke-width="0.7" stroke-linejoin="round" />
<polygon points="354.1,331.5 360.9,333.3 360.3,336.3 354.5,334.9" fill="#b9684b" stroke="#4d281b" stroke-width="0.9" stroke-linejoin="round" />
<polyline points="356.1,325.1 362.7,326.5" fill="none" stroke="#4d281b" stroke-width="0.7" stroke-linecap="butt" stroke-linejoin="round" />
<polyline points="354.7,328.5 361.5,330.1" fill="none" stroke="#4d281b" stroke-width="0.6" stroke-linecap="butt" stroke-linejoin="round" />
<polyline points="371.3,205.5 376.8,206.9" fill="none" stroke="#4d281b" stroke-width="0.8" stroke-linecap="butt" stroke-linejoin="round" />
<polyline points="360.4,263.5 366.0,264.5" fill="none" stroke="#4d281b" stroke-width="0.9" stroke-linecap="butt" stroke-linejoin="round" />
<polyline points="360.2,265.5 365.8,266.5" fill="none" stroke="#eeb39a" stroke-width="0.7" stroke-linecap="butt" stroke-linejoin="round" />
<polyline points="358.8,304.5 364.4,305.5" fill="none" stroke="#4d281b" stroke-width="0.8" stroke-linecap="butt" stroke-linejoin="round" />
<path d="M395.1 189.8 L389.8 205.4 L383.6 223.3 Q380.0 233.8 379.2 243.8 L378.9 252.8 L376.5 324.3" fill="none" stroke="#4d281b" stroke-width="6.1" stroke-linecap="butt" stroke-linejoin="round"/>
<path d="M395.1 189.8 L389.8 205.4 L383.6 223.3 Q380.0 233.8 379.2 243.8 L378.9 252.8 L376.5 324.3" fill="none" stroke="url(#cg)" stroke-width="4.6" stroke-linecap="butt" stroke-linejoin="round" transform="translate(-0.45,0)"/>
<path d="M395.1 189.8 L389.8 205.4 L383.6 223.3 Q380.0 233.8 379.2 243.8 L378.9 252.8 L376.5 324.3" fill="none" stroke="url(#ch)" stroke-width="1.2" stroke-linecap="butt" stroke-linejoin="round" transform="translate(-1.5,0)"/>
<ellipse cx="394.9" cy="189.6" rx="2.7" ry="1.5" fill="#dd8c6c" stroke="#4d281b" stroke-width="0.5" transform="rotate(9 394.9 189.6)"/>
<polygon points="372.9,323.2 379.2,324.3 376.1,335.6 369.3,333.8" fill="#cb7959" stroke="#4d281b" stroke-width="0.9" stroke-linejoin="round" />
<polygon points="373.8,324.2 375.6,324.6 372.1,334.2 370.4,333.7" fill="#e6a385" stroke="none" stroke-width="0.7" stroke-linejoin="round" />
<polygon points="369.3,333.8 376.1,335.6 375.5,338.6 369.7,337.2" fill="#b9684b" stroke="#4d281b" stroke-width="0.9" stroke-linejoin="round" />
<polyline points="371.3,327.4 377.9,328.8" fill="none" stroke="#4d281b" stroke-width="0.7" stroke-linecap="butt" stroke-linejoin="round" />
<polyline points="369.9,330.8 376.7,332.4" fill="none" stroke="#4d281b" stroke-width="0.6" stroke-linecap="butt" stroke-linejoin="round" />
<polyline points="386.5,207.8 392.0,209.2" fill="none" stroke="#4d281b" stroke-width="0.8" stroke-linecap="butt" stroke-linejoin="round" />
<polyline points="375.6,262.8 381.2,263.8" fill="none" stroke="#4d281b" stroke-width="0.9" stroke-linecap="butt" stroke-linejoin="round" />
<polyline points="375.4,264.8 381.0,265.8" fill="none" stroke="#eeb39a" stroke-width="0.7" stroke-linecap="butt" stroke-linejoin="round" />
<polyline points="374.0,309.8 379.6,310.8" fill="none" stroke="#4d281b" stroke-width="0.8" stroke-linecap="butt" stroke-linejoin="round" />
<path d="M410.3 192.2 L405.0 207.8 L398.8 225.7 Q395.2 236.2 394.4 246.2 L394.1 255.2 L391.7 326.7" fill="none" stroke="#4d281b" stroke-width="6.1" stroke-linecap="butt" stroke-linejoin="round"/>
<path d="M410.3 192.2 L405.0 207.8 L398.8 225.7 Q395.2 236.2 394.4 246.2 L394.1 255.2 L391.7 326.7" fill="none" stroke="url(#cg)" stroke-width="4.6" stroke-linecap="butt" stroke-linejoin="round" transform="translate(-0.45,0)"/>
<path d="M410.3 192.2 L405.0 207.8 L398.8 225.7 Q395.2 236.2 394.4 246.2 L394.1 255.2 L391.7 326.7" fill="none" stroke="url(#ch)" stroke-width="1.2" stroke-linecap="butt" stroke-linejoin="round" transform="translate(-1.5,0)"/>
<ellipse cx="410.1" cy="192.0" rx="2.7" ry="1.5" fill="#dd8c6c" stroke="#4d281b" stroke-width="0.5" transform="rotate(9 410.1 192.0)"/>
<polygon points="388.1,325.6 394.4,326.7 391.3,338.0 384.5,336.2" fill="#cb7959" stroke="#4d281b" stroke-width="0.9" stroke-linejoin="round" />
<polygon points="389.0,326.6 390.8,327.0 387.3,336.6 385.6,336.1" fill="#e6a385" stroke="none" stroke-width="0.7" stroke-linejoin="round" />
<polygon points="384.5,336.2 391.3,338.0 390.7,341.0 384.9,339.6" fill="#b9684b" stroke="#4d281b" stroke-width="0.9" stroke-linejoin="round" />
<polyline points="386.5,329.8 393.1,331.2" fill="none" stroke="#4d281b" stroke-width="0.7" stroke-linecap="butt" stroke-linejoin="round" />
<polyline points="385.1,333.2 391.9,334.8" fill="none" stroke="#4d281b" stroke-width="0.6" stroke-linecap="butt" stroke-linejoin="round" />
<polyline points="401.7,210.2 407.2,211.6" fill="none" stroke="#4d281b" stroke-width="0.8" stroke-linecap="butt" stroke-linejoin="round" />
<polyline points="390.8,267.2 396.4,268.2" fill="none" stroke="#4d281b" stroke-width="0.9" stroke-linecap="butt" stroke-linejoin="round" />
<polyline points="390.6,269.2 396.2,270.2" fill="none" stroke="#eeb39a" stroke-width="0.7" stroke-linecap="butt" stroke-linejoin="round" />
<polyline points="389.2,310.2 394.8,311.2" fill="none" stroke="#4d281b" stroke-width="0.8" stroke-linecap="butt" stroke-linejoin="round" />
<path d="M425.5 194.6 L420.2 210.2 L414.0 228.1 Q410.4 238.6 409.6 248.6 L409.3 257.6 L406.9 329.1" fill="none" stroke="#4d281b" stroke-width="6.1" stroke-linecap="butt" stroke-linejoin="round"/>
<path d="M425.5 194.6 L420.2 210.2 L414.0 228.1 Q410.4 238.6 409.6 248.6 L409.3 257.6 L406.9 329.1" fill="none" stroke="url(#cg)" stroke-width="4.6" stroke-linecap="butt" stroke-linejoin="round" transform="translate(-0.45,0)"/>
<path d="M425.5 194.6 L420.2 210.2 L414.0 228.1 Q410.4 238.6 409.6 248.6 L409.3 257.6 L406.9 329.1" fill="none" stroke="url(#ch)" stroke-width="1.2" stroke-linecap="butt" stroke-linejoin="round" transform="translate(-1.5,0)"/>
<ellipse cx="425.3" cy="194.4" rx="2.7" ry="1.5" fill="#dd8c6c" stroke="#4d281b" stroke-width="0.5" transform="rotate(9 425.3 194.4)"/>
<polygon points="403.3,328.0 409.6,329.1 406.5,340.4 399.7,338.6" fill="#cb7959" stroke="#4d281b" stroke-width="0.9" stroke-linejoin="round" />
<polygon points="404.2,329.0 406.0,329.4 402.5,339.0 400.8,338.5" fill="#e6a385" stroke="none" stroke-width="0.7" stroke-linejoin="round" />
<polygon points="399.7,338.6 406.5,340.4 405.9,343.4 400.1,342.0" fill="#b9684b" stroke="#4d281b" stroke-width="0.9" stroke-linejoin="round" />
<polyline points="401.7,332.2 408.3,333.6" fill="none" stroke="#4d281b" stroke-width="0.7" stroke-linecap="butt" stroke-linejoin="round" />
<polyline points="400.3,335.6 407.1,337.2" fill="none" stroke="#4d281b" stroke-width="0.6" stroke-linecap="butt" stroke-linejoin="round" />
<polyline points="416.9,212.6 422.4,214.0" fill="none" stroke="#4d281b" stroke-width="0.8" stroke-linecap="butt" stroke-linejoin="round" />
<polyline points="406.0,266.6 411.6,267.6" fill="none" stroke="#4d281b" stroke-width="0.9" stroke-linecap="butt" stroke-linejoin="round" />
<polyline points="405.8,268.6 411.4,269.6" fill="none" stroke="#eeb39a" stroke-width="0.7" stroke-linecap="butt" stroke-linejoin="round" />
<polyline points="404.4,315.6 410.0,316.6" fill="none" stroke="#4d281b" stroke-width="0.8" stroke-linecap="butt" stroke-linejoin="round" />
<path d="M440.7 197.0 L435.4 212.6 L429.2 230.5 Q425.6 241.0 424.8 251.0 L424.5 260.0 L422.1 331.5" fill="none" stroke="#4d281b" stroke-width="6.1" stroke-linecap="butt" stroke-linejoin="round"/>
<path d="M440.7 197.0 L435.4 212.6 L429.2 230.5 Q425.6 241.0 424.8 251.0 L424.5 260.0 L422.1 331.5" fill="none" stroke="url(#cg)" stroke-width="4.6" stroke-linecap="butt" stroke-linejoin="round" transform="translate(-0.45,0)"/>
<path d="M440.7 197.0 L435.4 212.6 L429.2 230.5 Q425.6 241.0 424.8 251.0 L424.5 260.0 L422.1 331.5" fill="none" stroke="url(#ch)" stroke-width="1.2" stroke-linecap="butt" stroke-linejoin="round" transform="translate(-1.5,0)"/>
<ellipse cx="440.5" cy="196.8" rx="2.7" ry="1.5" fill="#dd8c6c" stroke="#4d281b" stroke-width="0.5" transform="rotate(9 440.5 196.8)"/>
<polygon points="418.5,330.4 424.8,331.5 421.7,342.8 414.9,341.0" fill="#cb7959" stroke="#4d281b" stroke-width="0.9" stroke-linejoin="round" />
<polygon points="419.4,331.4 421.2,331.8 417.7,341.4 416.0,340.9" fill="#e6a385" stroke="none" stroke-width="0.7" stroke-linejoin="round" />
<polygon points="414.9,341.0 421.7,342.8 421.1,345.8 415.3,344.4" fill="#b9684b" stroke="#4d281b" stroke-width="0.9" stroke-linejoin="round" />
<polyline points="416.9,334.6 423.5,336.0" fill="none" stroke="#4d281b" stroke-width="0.7" stroke-linecap="butt" stroke-linejoin="round" />
<polyline points="415.5,338.0 422.3,339.6" fill="none" stroke="#4d281b" stroke-width="0.6" stroke-linecap="butt" stroke-linejoin="round" />
<polyline points="432.1,215.0 437.6,216.4" fill="none" stroke="#4d281b" stroke-width="0.8" stroke-linecap="butt" stroke-linejoin="round" />
<polyline points="421.2,271.0 426.8,272.0" fill="none" stroke="#4d281b" stroke-width="0.9" stroke-linecap="butt" stroke-linejoin="round" />
<polyline points="421.0,273.0 426.6,274.0" fill="none" stroke="#eeb39a" stroke-width="0.7" stroke-linecap="butt" stroke-linejoin="round" />
<polyline points="419.6,316.0 425.2,317.0" fill="none" stroke="#4d281b" stroke-width="0.8" stroke-linecap="butt" stroke-linejoin="round" />
<path d="M455.9 199.4 L450.6 215.0 L444.4 232.9 Q440.8 243.4 440.0 253.4 L439.7 262.4 L437.3 333.9" fill="none" stroke="#4d281b" stroke-width="6.1" stroke-linecap="butt" stroke-linejoin="round"/>
<path d="M455.9 199.4 L450.6 215.0 L444.4 232.9 Q440.8 243.4 440.0 253.4 L439.7 262.4 L437.3 333.9" fill="none" stroke="url(#cg)" stroke-width="4.6" stroke-linecap="butt" stroke-linejoin="round" transform="translate(-0.45,0)"/>
<path d="M455.9 199.4 L450.6 215.0 L444.4 232.9 Q440.8 243.4 440.0 253.4 L439.7 262.4 L437.3 333.9" fill="none" stroke="url(#ch)" stroke-width="1.2" stroke-linecap="butt" stroke-linejoin="round" transform="translate(-1.5,0)"/>
<ellipse cx="455.7" cy="199.2" rx="2.7" ry="1.5" fill="#dd8c6c" stroke="#4d281b" stroke-width="0.5" transform="rotate(9 455.7 199.2)"/>
<polygon points="433.7,332.8 440.0,333.9 436.9,345.2 430.1,343.4" fill="#cb7959" stroke="#4d281b" stroke-width="0.9" stroke-linejoin="round" />
<polygon points="434.6,333.8 436.4,334.2 432.9,343.8 431.2,343.3" fill="#e6a385" stroke="none" stroke-width="0.7" stroke-linejoin="round" />
<polygon points="430.1,343.4 436.9,345.2 436.3,348.2 430.5,346.8" fill="#b9684b" stroke="#4d281b" stroke-width="0.9" stroke-linejoin="round" />
<polyline points="432.1,337.0 438.7,338.4" fill="none" stroke="#4d281b" stroke-width="0.7" stroke-linecap="butt" stroke-linejoin="round" />
<polyline points="430.7,340.4 437.5,342.0" fill="none" stroke="#4d281b" stroke-width="0.6" stroke-linecap="butt" stroke-linejoin="round" />
<polyline points="447.3,217.4 452.8,218.8" fill="none" stroke="#4d281b" stroke-width="0.8" stroke-linecap="butt" stroke-linejoin="round" />
<polyline points="436.4,275.4 442.0,276.4" fill="none" stroke="#4d281b" stroke-width="0.9" stroke-linecap="butt" stroke-linejoin="round" />
<polyline points="436.2,277.4 441.8,278.4" fill="none" stroke="#eeb39a" stroke-width="0.7" stroke-linecap="butt" stroke-linejoin="round" />
<polyline points="434.8,316.4 440.4,317.4" fill="none" stroke="#4d281b" stroke-width="0.8" stroke-linecap="butt" stroke-linejoin="round" />
<path d="M471.1 201.7 L465.8 217.3 L459.6 235.2 Q456.0 245.7 455.2 255.7 L454.9 264.7 L452.5 336.2" fill="none" stroke="#4d281b" stroke-width="6.1" stroke-linecap="butt" stroke-linejoin="round"/>
<path d="M471.1 201.7 L465.8 217.3 L459.6 235.2 Q456.0 245.7 455.2 255.7 L454.9 264.7 L452.5 336.2" fill="none" stroke="url(#cg)" stroke-width="4.6" stroke-linecap="butt" stroke-linejoin="round" transform="translate(-0.45,0)"/>
<path d="M471.1 201.7 L465.8 217.3 L459.6 235.2 Q456.0 245.7 455.2 255.7 L454.9 264.7 L452.5 336.2" fill="none" stroke="url(#ch)" stroke-width="1.2" stroke-linecap="butt" stroke-linejoin="round" transform="translate(-1.5,0)"/>
<ellipse cx="470.9" cy="201.5" rx="2.7" ry="1.5" fill="#dd8c6c" stroke="#4d281b" stroke-width="0.5" transform="rotate(9 470.9 201.5)"/>
<polygon points="448.9,335.1 455.2,336.2 452.1,347.5 445.3,345.7" fill="#cb7959" stroke="#4d281b" stroke-width="0.9" stroke-linejoin="round" />
<polygon points="449.8,336.1 451.6,336.5 448.1,346.1 446.4,345.6" fill="#e6a385" stroke="none" stroke-width="0.7" stroke-linejoin="round" />
<polygon points="445.3,345.7 452.1,347.5 451.5,350.5 445.7,349.1" fill="#b9684b" stroke="#4d281b" stroke-width="0.9" stroke-linejoin="round" />
<polyline points="447.3,339.3 453.9,340.7" fill="none" stroke="#4d281b" stroke-width="0.7" stroke-linecap="butt" stroke-linejoin="round" />
<polyline points="445.9,342.7 452.7,344.3" fill="none" stroke="#4d281b" stroke-width="0.6" stroke-linecap="butt" stroke-linejoin="round" />
<polyline points="462.5,219.7 468.0,221.1" fill="none" stroke="#4d281b" stroke-width="0.8" stroke-linecap="butt" stroke-linejoin="round" />
<polyline points="451.6,274.7 457.2,275.7" fill="none" stroke="#4d281b" stroke-width="0.9" stroke-linecap="butt" stroke-linejoin="round" />
<polyline points="451.4,276.7 457.0,277.7" fill="none" stroke="#eeb39a" stroke-width="0.7" stroke-linecap="butt" stroke-linejoin="round" />
<polyline points="450.0,321.7 455.6,322.7" fill="none" stroke="#4d281b" stroke-width="0.8" stroke-linecap="butt" stroke-linejoin="round" />
<path d="M486.3 204.1 L481.0 219.7 L474.8 237.6 Q471.2 248.1 470.4 258.1 L470.1 267.1 L467.7 338.6" fill="none" stroke="#4d281b" stroke-width="6.1" stroke-linecap="butt" stroke-linejoin="round"/>
<path d="M486.3 204.1 L481.0 219.7 L474.8 237.6 Q471.2 248.1 470.4 258.1 L470.1 267.1 L467.7 338.6" fill="none" stroke="url(#cg)" stroke-width="4.6" stroke-linecap="butt" stroke-linejoin="round" transform="translate(-0.45,0)"/>
<path d="M486.3 204.1 L481.0 219.7 L474.8 237.6 Q471.2 248.1 470.4 258.1 L470.1 267.1 L467.7 338.6" fill="none" stroke="url(#ch)" stroke-width="1.2" stroke-linecap="butt" stroke-linejoin="round" transform="translate(-1.5,0)"/>
<ellipse cx="486.1" cy="203.9" rx="2.7" ry="1.5" fill="#dd8c6c" stroke="#4d281b" stroke-width="0.5" transform="rotate(9 486.1 203.9)"/>
<polygon points="464.1,337.5 470.4,338.6 467.3,349.9 460.5,348.1" fill="#cb7959" stroke="#4d281b" stroke-width="0.9" stroke-linejoin="round" />
<polygon points="465.0,338.5 466.8,338.9 463.3,348.5 461.6,348.0" fill="#e6a385" stroke="none" stroke-width="0.7" stroke-linejoin="round" />
<polygon points="460.5,348.1 467.3,349.9 466.7,352.9 460.9,351.5" fill="#b9684b" stroke="#4d281b" stroke-width="0.9" stroke-linejoin="round" />
<polyline points="462.5,341.7 469.1,343.1" fill="none" stroke="#4d281b" stroke-width="0.7" stroke-linecap="butt" stroke-linejoin="round" />
<polyline points="461.1,345.1 467.9,346.7" fill="none" stroke="#4d281b" stroke-width="0.6" stroke-linecap="butt" stroke-linejoin="round" />
<polyline points="477.7,222.1 483.2,223.5" fill="none" stroke="#4d281b" stroke-width="0.8" stroke-linecap="butt" stroke-linejoin="round" />
<polyline points="466.8,279.1 472.4,280.1" fill="none" stroke="#4d281b" stroke-width="0.9" stroke-linecap="butt" stroke-linejoin="round" />
<polyline points="466.6,281.1 472.2,282.1" fill="none" stroke="#eeb39a" stroke-width="0.7" stroke-linecap="butt" stroke-linejoin="round" />
<polyline points="465.2,322.1 470.8,323.1" fill="none" stroke="#4d281b" stroke-width="0.8" stroke-linecap="butt" stroke-linejoin="round" />
<path d="M501.5 206.5 L496.2 222.1 L490.0 240.0 Q486.4 250.5 485.6 260.5 L485.3 269.5 L482.9 341.0" fill="none" stroke="#4d281b" stroke-width="6.1" stroke-linecap="butt" stroke-linejoin="round"/>
<path d="M501.5 206.5 L496.2 222.1 L490.0 240.0 Q486.4 250.5 485.6 260.5 L485.3 269.5 L482.9 341.0" fill="none" stroke="url(#cg)" stroke-width="4.6" stroke-linecap="butt" stroke-linejoin="round" transform="translate(-0.45,0)"/>
<path d="M501.5 206.5 L496.2 222.1 L490.0 240.0 Q486.4 250.5 485.6 260.5 L485.3 269.5 L482.9 341.0" fill="none" stroke="url(#ch)" stroke-width="1.2" stroke-linecap="butt" stroke-linejoin="round" transform="translate(-1.5,0)"/>
<ellipse cx="501.3" cy="206.3" rx="2.7" ry="1.5" fill="#dd8c6c" stroke="#4d281b" stroke-width="0.5" transform="rotate(9 501.3 206.3)"/>
<polygon points="479.3,339.9 485.6,341.0 482.5,352.3 475.7,350.5" fill="#cb7959" stroke="#4d281b" stroke-width="0.9" stroke-linejoin="round" />
<polygon points="480.2,340.9 482.0,341.3 478.5,350.9 476.8,350.4" fill="#e6a385" stroke="none" stroke-width="0.7" stroke-linejoin="round" />
<polygon points="475.7,350.5 482.5,352.3 481.9,355.3 476.1,353.9" fill="#b9684b" stroke="#4d281b" stroke-width="0.9" stroke-linejoin="round" />
<polyline points="477.7,344.1 484.3,345.5" fill="none" stroke="#4d281b" stroke-width="0.7" stroke-linecap="butt" stroke-linejoin="round" />
<polyline points="476.3,347.5 483.1,349.1" fill="none" stroke="#4d281b" stroke-width="0.6" stroke-linecap="butt" stroke-linejoin="round" />
<polyline points="492.9,224.5 498.4,225.9" fill="none" stroke="#4d281b" stroke-width="0.8" stroke-linecap="butt" stroke-linejoin="round" />
<polyline points="482.0,278.5 487.6,279.5" fill="none" stroke="#4d281b" stroke-width="0.9" stroke-linecap="butt" stroke-linejoin="round" />
<polyline points="481.8,280.5 487.4,281.5" fill="none" stroke="#eeb39a" stroke-width="0.7" stroke-linecap="butt" stroke-linejoin="round" />
<polyline points="480.4,327.5 486.0,328.5" fill="none" stroke="#4d281b" stroke-width="0.8" stroke-linecap="butt" stroke-linejoin="round" />
<path d="M516.7 208.9 L511.4 224.5 L505.2 242.4 Q501.6 252.9 500.8 262.9 L500.5 271.9 L498.1 343.4" fill="none" stroke="#4d281b" stroke-width="6.1" stroke-linecap="butt" stroke-linejoin="round"/>
<path d="M516.7 208.9 L511.4 224.5 L505.2 242.4 Q501.6 252.9 500.8 262.9 L500.5 271.9 L498.1 343.4" fill="none" stroke="url(#cg)" stroke-width="4.6" stroke-linecap="butt" stroke-linejoin="round" transform="translate(-0.45,0)"/>
<path d="M516.7 208.9 L511.4 224.5 L505.2 242.4 Q501.6 252.9 500.8 262.9 L500.5 271.9 L498.1 343.4" fill="none" stroke="url(#ch)" stroke-width="1.2" stroke-linecap="butt" stroke-linejoin="round" transform="translate(-1.5,0)"/>
<ellipse cx="516.5" cy="208.7" rx="2.7" ry="1.5" fill="#dd8c6c" stroke="#4d281b" stroke-width="0.5" transform="rotate(9 516.5 208.7)"/>
<polygon points="494.5,342.3 500.8,343.4 497.7,354.7 490.9,352.9" fill="#cb7959" stroke="#4d281b" stroke-width="0.9" stroke-linejoin="round" />
<polygon points="495.4,343.3 497.2,343.7 493.7,353.3 492.0,352.8" fill="#e6a385" stroke="none" stroke-width="0.7" stroke-linejoin="round" />
<polygon points="490.9,352.9 497.7,354.7 497.1,357.7 491.3,356.3" fill="#b9684b" stroke="#4d281b" stroke-width="0.9" stroke-linejoin="round" />
<polyline points="492.9,346.5 499.5,347.9" fill="none" stroke="#4d281b" stroke-width="0.7" stroke-linecap="butt" stroke-linejoin="round" />
<polyline points="491.5,349.9 498.3,351.5" fill="none" stroke="#4d281b" stroke-width="0.6" stroke-linecap="butt" stroke-linejoin="round" />
<polyline points="508.1,226.9 513.6,228.3" fill="none" stroke="#4d281b" stroke-width="0.8" stroke-linecap="butt" stroke-linejoin="round" />
<polyline points="497.2,282.9 502.8,283.9" fill="none" stroke="#4d281b" stroke-width="0.9" stroke-linecap="butt" stroke-linejoin="round" />
<polyline points="497.0,284.9 502.6,285.9" fill="none" stroke="#eeb39a" stroke-width="0.7" stroke-linecap="butt" stroke-linejoin="round" />
<polyline points="495.6,327.9 501.2,328.9" fill="none" stroke="#4d281b" stroke-width="0.8" stroke-linecap="butt" stroke-linejoin="round" />
<path d="M531.9 211.3 L526.6 226.9 L520.4 244.8 Q516.8 255.3 516.0 265.3 L515.7 274.3 L513.3 345.8" fill="none" stroke="#4d281b" stroke-width="6.1" stroke-linecap="butt" stroke-linejoin="round"/>
<path d="M531.9 211.3 L526.6 226.9 L520.4 244.8 Q516.8 255.3 516.0 265.3 L515.7 274.3 L513.3 345.8" fill="none" stroke="url(#cg)" stroke-width="4.6" stroke-linecap="butt" stroke-linejoin="round" transform="translate(-0.45,0)"/>
<path d="M531.9 211.3 L526.6 226.9 L520.4 244.8 Q516.8 255.3 516.0 265.3 L515.7 274.3 L513.3 345.8" fill="none" stroke="url(#ch)" stroke-width="1.2" stroke-linecap="butt" stroke-linejoin="round" transform="translate(-1.5,0)"/>
<ellipse cx="531.7" cy="211.1" rx="2.7" ry="1.5" fill="#dd8c6c" stroke="#4d281b" stroke-width="0.5" transform="rotate(9 531.7 211.1)"/>
<polygon points="509.7,344.7 516.0,345.8 512.9,357.1 506.1,355.3" fill="#cb7959" stroke="#4d281b" stroke-width="0.9" stroke-linejoin="round" />
<polygon points="510.6,345.7 512.4,346.1 508.9,355.7 507.2,355.2" fill="#e6a385" stroke="none" stroke-width="0.7" stroke-linejoin="round" />
<polygon points="506.1,355.3 512.9,357.1 512.3,360.1 506.5,358.7" fill="#b9684b" stroke="#4d281b" stroke-width="0.9" stroke-linejoin="round" />
<polyline points="508.1,348.9 514.7,350.3" fill="none" stroke="#4d281b" stroke-width="0.7" stroke-linecap="butt" stroke-linejoin="round" />
<polyline points="506.7,352.3 513.5,353.9" fill="none" stroke="#4d281b" stroke-width="0.6" stroke-linecap="butt" stroke-linejoin="round" />
<polyline points="523.3,229.3 528.8,230.7" fill="none" stroke="#4d281b" stroke-width="0.8" stroke-linecap="butt" stroke-linejoin="round" />
<polyline points="512.4,287.3 518.0,288.3" fill="none" stroke="#4d281b" stroke-width="0.9" stroke-linecap="butt" stroke-linejoin="round" />
<polyline points="512.2,289.3 517.8,290.3" fill="none" stroke="#eeb39a" stroke-width="0.7" stroke-linecap="butt" stroke-linejoin="round" />
<polyline points="510.8,328.3 516.4,329.3" fill="none" stroke="#4d281b" stroke-width="0.8" stroke-linecap="butt" stroke-linejoin="round" />
<path d="M547.1 213.6 L541.8 229.2 L535.6 247.1 Q532.0 257.6 531.2 267.6 L530.9 276.6 L528.5 348.1" fill="none" stroke="#4d281b" stroke-width="6.1" stroke-linecap="butt" stroke-linejoin="round"/>
<path d="M547.1 213.6 L541.8 229.2 L535.6 247.1 Q532.0 257.6 531.2 267.6 L530.9 276.6 L528.5 348.1" fill="none" stroke="url(#cg)" stroke-width="4.6" stroke-linecap="butt" stroke-linejoin="round" transform="translate(-0.45,0)"/>
<path d="M547.1 213.6 L541.8 229.2 L535.6 247.1 Q532.0 257.6 531.2 267.6 L530.9 276.6 L528.5 348.1" fill="none" stroke="url(#ch)" stroke-width="1.2" stroke-linecap="butt" stroke-linejoin="round" transform="translate(-1.5,0)"/>
<ellipse cx="546.9" cy="213.4" rx="2.7" ry="1.5" fill="#dd8c6c" stroke="#4d281b" stroke-width="0.5" transform="rotate(9 546.9 213.4)"/>
<polygon points="524.9,347.0 531.2,348.1 528.1,359.4 521.3,357.6" fill="#cb7959" stroke="#4d281b" stroke-width="0.9" stroke-linejoin="round" />
<polygon points="525.8,348.0 527.6,348.4 524.1,358.0 522.4,357.5" fill="#e6a385" stroke="none" stroke-width="0.7" stroke-linejoin="round" />
<polygon points="521.3,357.6 528.1,359.4 527.5,362.4 521.7,361.0" fill="#b9684b" stroke="#4d281b" stroke-width="0.9" stroke-linejoin="round" />
<polyline points="523.3,351.2 529.9,352.6" fill="none" stroke="#4d281b" stroke-width="0.7" stroke-linecap="butt" stroke-linejoin="round" />
<polyline points="521.9,354.6 528.7,356.2" fill="none" stroke="#4d281b" stroke-width="0.6" stroke-linecap="butt" stroke-linejoin="round" />
<polyline points="538.5,231.6 544.0,233.0" fill="none" stroke="#4d281b" stroke-width="0.8" stroke-linecap="butt" stroke-linejoin="round" />
<polyline points="527.6,286.6 533.2,287.6" fill="none" stroke="#4d281b" stroke-width="0.9" stroke-linecap="butt" stroke-linejoin="round" />
<polyline points="527.4,288.6 533.0,289.6" fill="none" stroke="#eeb39a" stroke-width="0.7" stroke-linecap="butt" stroke-linejoin="round" />
<polyline points="526.0,333.6 531.6,334.6" fill="none" stroke="#4d281b" stroke-width="0.8" stroke-linecap="butt" stroke-linejoin="round" />
<path d="M623.1 225.6 L617.8 241.2 L611.6 259.1 Q608.0 269.6 607.2 279.6 L606.9 288.6 L604.5 360.1" fill="none" stroke="#4d281b" stroke-width="6.1" stroke-linecap="butt" stroke-linejoin="round"/>
<path d="M623.1 225.6 L617.8 241.2 L611.6 259.1 Q608.0 269.6 607.2 279.6 L606.9 288.6 L604.5 360.1" fill="none" stroke="url(#cg)" stroke-width="4.6" stroke-linecap="butt" stroke-linejoin="round" transform="translate(-0.45,0)"/>
<path d="M623.1 225.6 L617.8 241.2 L611.6 259.1 Q608.0 269.6 607.2 279.6 L606.9 288.6 L604.5 360.1" fill="none" stroke="url(#ch)" stroke-width="1.2" stroke-linecap="butt" stroke-linejoin="round" transform="translate(-1.5,0)"/>
<ellipse cx="622.9" cy="225.4" rx="2.7" ry="1.5" fill="#dd8c6c" stroke="#4d281b" stroke-width="0.5" transform="rotate(9 622.9 225.4)"/>
<polygon points="600.9,359.0 607.2,360.1 604.1,371.4 597.3,369.6" fill="#cb7959" stroke="#4d281b" stroke-width="0.9" stroke-linejoin="round" />
<polygon points="601.8,360.0 603.6,360.4 600.1,370.0 598.4,369.5" fill="#e6a385" stroke="none" stroke-width="0.7" stroke-linejoin="round" />
<polygon points="597.3,369.6 604.1,371.4 603.5,374.4 597.7,373.0" fill="#b9684b" stroke="#4d281b" stroke-width="0.9" stroke-linejoin="round" />
<polyline points="599.3,363.2 605.9,364.6" fill="none" stroke="#4d281b" stroke-width="0.7" stroke-linecap="butt" stroke-linejoin="round" />
<polyline points="597.9,366.6 604.7,368.2" fill="none" stroke="#4d281b" stroke-width="0.6" stroke-linecap="butt" stroke-linejoin="round" />
<polyline points="614.5,243.6 620.0,245.0" fill="none" stroke="#4d281b" stroke-width="0.8" stroke-linecap="butt" stroke-linejoin="round" />
<polyline points="603.6,298.6 609.2,299.6" fill="none" stroke="#4d281b" stroke-width="0.9" stroke-linecap="butt" stroke-linejoin="round" />
<polyline points="603.4,300.6 609.0,301.6" fill="none" stroke="#eeb39a" stroke-width="0.7" stroke-linecap="butt" stroke-linejoin="round" />
<polyline points="602.0,345.6 607.6,346.6" fill="none" stroke="#4d281b" stroke-width="0.8" stroke-linecap="butt" stroke-linejoin="round" />
<path d="M638.3 227.9 L633.0 243.5 L626.8 261.4 Q623.2 271.9 622.4 281.9 L622.1 290.9 L619.7 362.4" fill="none" stroke="#4d281b" stroke-width="6.1" stroke-linecap="butt" stroke-linejoin="round"/>
<path d="M638.3 227.9 L633.0 243.5 L626.8 261.4 Q623.2 271.9 622.4 281.9 L622.1 290.9 L619.7 362.4" fill="none" stroke="url(#cg)" stroke-width="4.6" stroke-linecap="butt" stroke-linejoin="round" transform="translate(-0.45,0)"/>
<path d="M638.3 227.9 L633.0 243.5 L626.8 261.4 Q623.2 271.9 622.4 281.9 L622.1 290.9 L619.7 362.4" fill="none" stroke="url(#ch)" stroke-width="1.2" stroke-linecap="butt" stroke-linejoin="round" transform="translate(-1.5,0)"/>
<ellipse cx="638.1" cy="227.7" rx="2.7" ry="1.5" fill="#dd8c6c" stroke="#4d281b" stroke-width="0.5" transform="rotate(9 638.1 227.7)"/>
<polygon points="616.1,361.3 622.4,362.4 619.3,373.7 612.5,371.9" fill="#cb7959" stroke="#4d281b" stroke-width="0.9" stroke-linejoin="round" />
<polygon points="617.0,362.3 618.8,362.7 615.3,372.3 613.6,371.8" fill="#e6a385" stroke="none" stroke-width="0.7" stroke-linejoin="round" />
<polygon points="612.5,371.9 619.3,373.7 618.7,376.7 612.9,375.3" fill="#b9684b" stroke="#4d281b" stroke-width="0.9" stroke-linejoin="round" />
<polyline points="614.5,365.5 621.1,366.9" fill="none" stroke="#4d281b" stroke-width="0.7" stroke-linecap="butt" stroke-linejoin="round" />
<polyline points="613.1,368.9 619.9,370.5" fill="none" stroke="#4d281b" stroke-width="0.6" stroke-linecap="butt" stroke-linejoin="round" />
<polyline points="629.7,245.9 635.2,247.3" fill="none" stroke="#4d281b" stroke-width="0.8" stroke-linecap="butt" stroke-linejoin="round" />
<polyline points="618.8,302.9 624.4,303.9" fill="none" stroke="#4d281b" stroke-width="0.9" stroke-linecap="butt" stroke-linejoin="round" />
<polyline points="618.6,304.9 624.2,305.9" fill="none" stroke="#eeb39a" stroke-width="0.7" stroke-linecap="butt" stroke-linejoin="round" />
<polyline points="617.2,345.9 622.8,346.9" fill="none" stroke="#4d281b" stroke-width="0.8" stroke-linecap="butt" stroke-linejoin="round" />
<path d="M653.5 230.3 L648.2 245.9 L642.0 263.8 Q638.4 274.3 637.6 284.3 L637.3 293.3 L634.9 364.8" fill="none" stroke="#4d281b" stroke-width="6.1" stroke-linecap="butt" stroke-linejoin="round"/>
<path d="M653.5 230.3 L648.2 245.9 L642.0 263.8 Q638.4 274.3 637.6 284.3 L637.3 293.3 L634.9 364.8" fill="none" stroke="url(#cg)" stroke-width="4.6" stroke-linecap="butt" stroke-linejoin="round" transform="translate(-0.45,0)"/>
<path d="M653.5 230.3 L648.2 245.9 L642.0 263.8 Q638.4 274.3 637.6 284.3 L637.3 293.3 L634.9 364.8" fill="none" stroke="url(#ch)" stroke-width="1.2" stroke-linecap="butt" stroke-linejoin="round" transform="translate(-1.5,0)"/>
<ellipse cx="653.3" cy="230.1" rx="2.7" ry="1.5" fill="#dd8c6c" stroke="#4d281b" stroke-width="0.5" transform="rotate(9 653.3 230.1)"/>
<polygon points="631.3,363.7 637.6,364.8 634.5,376.1 627.7,374.3" fill="#cb7959" stroke="#4d281b" stroke-width="0.9" stroke-linejoin="round" />
<polygon points="632.2,364.7 634.0,365.1 630.5,374.7 628.8,374.2" fill="#e6a385" stroke="none" stroke-width="0.7" stroke-linejoin="round" />
<polygon points="627.7,374.3 634.5,376.1 633.9,379.1 628.1,377.7" fill="#b9684b" stroke="#4d281b" stroke-width="0.9" stroke-linejoin="round" />
<polyline points="629.7,367.9 636.3,369.3" fill="none" stroke="#4d281b" stroke-width="0.7" stroke-linecap="butt" stroke-linejoin="round" />
<polyline points="628.3,371.3 635.1,372.9" fill="none" stroke="#4d281b" stroke-width="0.6" stroke-linecap="butt" stroke-linejoin="round" />
<polyline points="644.9,248.3 650.4,249.7" fill="none" stroke="#4d281b" stroke-width="0.8" stroke-linecap="butt" stroke-linejoin="round" />
<polyline points="634.0,302.3 639.6,303.3" fill="none" stroke="#4d281b" stroke-width="0.9" stroke-linecap="butt" stroke-linejoin="round" />
<polyline points="633.8,304.3 639.4,305.3" fill="none" stroke="#eeb39a" stroke-width="0.7" stroke-linecap="butt" stroke-linejoin="round" />
<polyline points="632.4,351.3 638.0,352.3" fill="none" stroke="#4d281b" stroke-width="0.8" stroke-linecap="butt" stroke-linejoin="round" />
<path d="M668.7 232.7 L663.4 248.3 L657.2 266.2 Q653.6 276.7 652.8 286.7 L652.5 295.7 L650.1 367.2" fill="none" stroke="#4d281b" stroke-width="6.1" stroke-linecap="butt" stroke-linejoin="round"/>
<path d="M668.7 232.7 L663.4 248.3 L657.2 266.2 Q653.6 276.7 652.8 286.7 L652.5 295.7 L650.1 367.2" fill="none" stroke="url(#cg)" stroke-width="4.6" stroke-linecap="butt" stroke-linejoin="round" transform="translate(-0.45,0)"/>
<path d="M668.7 232.7 L663.4 248.3 L657.2 266.2 Q653.6 276.7 652.8 286.7 L652.5 295.7 L650.1 367.2" fill="none" stroke="url(#ch)" stroke-width="1.2" stroke-linecap="butt" stroke-linejoin="round" transform="translate(-1.5,0)"/>
<ellipse cx="668.5" cy="232.5" rx="2.7" ry="1.5" fill="#dd8c6c" stroke="#4d281b" stroke-width="0.5" transform="rotate(9 668.5 232.5)"/>
<polygon points="646.5,366.1 652.8,367.2 649.7,378.5 642.9,376.7" fill="#cb7959" stroke="#4d281b" stroke-width="0.9" stroke-linejoin="round" />
<polygon points="647.4,367.1 649.2,367.5 645.7,377.1 644.0,376.6" fill="#e6a385" stroke="none" stroke-width="0.7" stroke-linejoin="round" />
<polygon points="642.9,376.7 649.7,378.5 649.1,381.5 643.3,380.1" fill="#b9684b" stroke="#4d281b" stroke-width="0.9" stroke-linejoin="round" />
<polyline points="644.9,370.3 651.5,371.7" fill="none" stroke="#4d281b" stroke-width="0.7" stroke-linecap="butt" stroke-linejoin="round" />
<polyline points="643.5,373.7 650.3,375.3" fill="none" stroke="#4d281b" stroke-width="0.6" stroke-linecap="butt" stroke-linejoin="round" />
<polyline points="660.1,250.7 665.6,252.1" fill="none" stroke="#4d281b" stroke-width="0.8" stroke-linecap="butt" stroke-linejoin="round" />
<polyline points="649.2,306.7 654.8,307.7" fill="none" stroke="#4d281b" stroke-width="0.9" stroke-linecap="butt" stroke-linejoin="round" />
<polyline points="649.0,308.7 654.6,309.7" fill="none" stroke="#eeb39a" stroke-width="0.7" stroke-linecap="butt" stroke-linejoin="round" />
<polyline points="647.6,351.7 653.2,352.7" fill="none" stroke="#4d281b" stroke-width="0.8" stroke-linecap="butt" stroke-linejoin="round" />
<polygon points="575.3,176.5 579.0,167.1 582.1,167.4 584.3,177.4 594.9,169.6 597.6,170.2 593.3,178.9 591.1,178.3 594.9,172.4 585.5,178.6 582.7,178.0 580.5,170.5 577.7,177.1" fill="#a0abbd" stroke="#262a31" stroke-width="0.8" stroke-linejoin="round" />
<g fill="#000" fill-opacity="0.35" transform="translate(61.8,-6.5) rotate(-20.9) translate(-59.5,10.8)"><path transform="translate(0.0,0) scale(0.029,-0.029)" d="M76 27 143 102 184 155 240 234 284 304 316 366 340 423 362 481 382 548 379 552 371 552 183 539 150 540 143 541 126 558 118 569 113 582 136 578 171 577 393 593 410 661 422 726 422 766 413 802 437 800 465 789 478 779 482 770 464 668 446 601 448 596 802 619 846 628 856 624 868 616 889 594 891 589 877 585 436 556 433 553 414 493 384 416 387 412 396 412 702 430 724 428 746 418 752 407 749 394 695 308 629 216 570 148 569 145 632 104 689 71 748 42 809 15 939 -30 942 -35 937 -43 914 -67 903 -72 891 -72 849 -56 804 -35 665 37 538 116 467 65 432 43 357 2 278 -32 214 -55 169 -67 148 -68 164 -57 269 -10 366 43 436 88 503 141 502 146 417 230 338 321 335 319 278 229 224 160 189 122 142 75 102 42ZM356 368 415 290 470 229 530 174 534 173 566 208 614 271 658 340 684 387 681 390 671 390 357 373Z"/><path transform="translate(28.6,0) scale(0.029,-0.029)" d="M57 -86 117 1 139 40 158 80 174 121 187 163 203 248 208 347 208 373 205 404 191 454 197 455 208 452 267 423 466 435 469 439 461 478 451 506 435 531 439 531 475 525 494 517 512 442 515 439 760 453 779 456 809 465 830 455 850 435 852 427 840 423 528 404 524 400 535 363 563 293 598 225 623 185 632 190 665 226 695 263 722 302 734 328 737 360 761 345 780 324 784 316 781 308 752 263 695 194 649 149 683 105 715 71 762 31 813 -3 852 -22 862 -21 869 -16 891 48 923 164 928 175 930 164 929 119 922 26 908 -56 904 -65 894 -77 880 -81 851 -75 813 -59 768 -30 719 8 695 31 614 119 523 58 477 33 385 -9 338 -26 304 -34 318 -23 377 8 471 63 551 119 591 153 552 217 534 254 499 343 481 399 473 401 256 387 250 271 242 212 230 163 207 99 180 46 141 -11 94 -59ZM94 657 110 653 131 652 346 663 348 668 336 742 327 759 309 779 314 779 355 774 368 771 375 765 378 756 389 674 393 667 593 677 596 679 600 694 607 759 605 777 596 800 617 794 642 784 650 778 659 768 658 751 638 686 640 681 816 690 860 699 869 696 883 686 895 675 902 664 888 659 626 644 622 639 589 564 579 547 572 543 571 557 588 636 586 641 399 632 396 627 406 555 405 544 400 541 377 545 368 549 360 557 358 566 358 607 355 625 353 628 158 617 130 618 113 625 101 641ZM790 518 776 497 771 495 766 496 710 534 658 564 651 571 654 581 661 593 666 596 699 583 752 557 779 540 791 529Z"/><path transform="translate(57.2,0) scale(0.029,-0.029)" d="M145 615 164 613 216 597 445 609 447 612 448 770 445 787 435 809 478 801 486 797 494 788 494 615 496 611 746 623 768 622 784 615 796 600 799 587 792 565 759 248 781 224 787 210 769 205 494 194 492 190 491 70 493 50 501 27 512 16 527 9 558 3 632 0 749 1 817 4 850 10 864 17 874 28 882 40 890 59 903 114 917 202 924 229 929 202 930 162 926 57 919 18 911 -1 902 -16 889 -27 871 -35 849 -41 815 -45 734 -48 603 -48 544 -46 510 -41 493 -36 473 -26 463 -16 455 -3 449 12 444 51 445 188 443 191 233 184 230 180 232 147 230 142 220 140 210 141 193 150 184 159 182 168 183 231 163 556 158 584ZM495 426 731 437 733 441 744 576 742 585 498 575 494 573 493 430ZM713 239 717 243 728 391 726 399 497 390 494 388 492 235 494 232ZM218 412 444 423 446 427 447 568 445 572 213 561 209 559 216 416ZM441 228 445 232 446 383 444 386 223 377 220 375 227 225 229 222Z"/><path transform="translate(85.8,0) scale(0.029,-0.029)" d="M43 367 67 363 97 362 484 383 486 387 485 394 474 433 460 473 444 505 444 512 457 521 476 527 485 523 493 507 498 507 541 540 605 596 655 649 683 686 679 690 265 660 251 663 238 675 227 690 221 706 238 702 260 701 721 734 737 729 756 716 762 707 759 697 742 683 707 643 634 571 556 503 512 468 531 389 538 387 847 404 874 407 914 415 930 410 945 398 957 385 962 374 959 370 948 367 539 344 538 341 547 269 553 189 555 102 552 11 547 -27 541 -57 532 -78 522 -89 510 -93 494 -91 473 -83 418 -52 326 16 297 43 282 63 310 52 375 18 453 -18 479 -28 487 -28 494 -24 498 -14 504 33 508 152 505 248 499 307 493 341 83 321 71 323 61 333 49 349Z"/></g>
<g fill="#000" fill-opacity="0.35" transform="translate(-4.7,241.2) rotate(-20.9) translate(-59.5,10.8)"><path transform="translate(0.0,0) scale(0.029,-0.029)" d="M76 27 143 102 184 155 240 234 284 304 316 366 340 423 362 481 382 548 379 552 371 552 183 539 150 540 143 541 126 558 118 569 113 582 136 578 171 577 393 593 410 661 422 726 422 766 413 802 437 800 465 789 478 779 482 770 464 668 446 601 448 596 802 619 846 628 856 624 868 616 889 594 891 589 877 585 436 556 433 553 414 493 384 416 387 412 396 412 702 430 724 428 746 418 752 407 749 394 695 308 629 216 570 148 569 145 632 104 689 71 748 42 809 15 939 -30 942 -35 937 -43 914 -67 903 -72 891 -72 849 -56 804 -35 665 37 538 116 467 65 432 43 357 2 278 -32 214 -55 169 -67 148 -68 164 -57 269 -10 366 43 436 88 503 141 502 146 417 230 338 321 335 319 278 229 224 160 189 122 142 75 102 42ZM356 368 415 290 470 229 530 174 534 173 566 208 614 271 658 340 684 387 681 390 671 390 357 373Z"/><path transform="translate(28.6,0) scale(0.029,-0.029)" d="M57 -86 117 1 139 40 158 80 174 121 187 163 203 248 208 347 208 373 205 404 191 454 197 455 208 452 267 423 466 435 469 439 461 478 451 506 435 531 439 531 475 525 494 517 512 442 515 439 760 453 779 456 809 465 830 455 850 435 852 427 840 423 528 404 524 400 535 363 563 293 598 225 623 185 632 190 665 226 695 263 722 302 734 328 737 360 761 345 780 324 784 316 781 308 752 263 695 194 649 149 683 105 715 71 762 31 813 -3 852 -22 862 -21 869 -16 891 48 923 164 928 175 930 164 929 119 922 26 908 -56 904 -65 894 -77 880 -81 851 -75 813 -59 768 -30 719 8 695 31 614 119 523 58 477 33 385 -9 338 -26 304 -34 318 -23 377 8 471 63 551 119 591 153 552 217 534 254 499 343 481 399 473 401 256 387 250 271 242 212 230 163 207 99 180 46 141 -11 94 -59ZM94 657 110 653 131 652 346 663 348 668 336 742 327 759 309 779 314 779 355 774 368 771 375 765 378 756 389 674 393 667 593 677 596 679 600 694 607 759 605 777 596 800 617 794 642 784 650 778 659 768 658 751 638 686 640 681 816 690 860 699 869 696 883 686 895 675 902 664 888 659 626 644 622 639 589 564 579 547 572 543 571 557 588 636 586 641 399 632 396 627 406 555 405 544 400 541 377 545 368 549 360 557 358 566 358 607 355 625 353 628 158 617 130 618 113 625 101 641ZM790 518 776 497 771 495 766 496 710 534 658 564 651 571 654 581 661 593 666 596 699 583 752 557 779 540 791 529Z"/><path transform="translate(57.2,0) scale(0.029,-0.029)" d="M145 615 164 613 216 597 445 609 447 612 448 770 445 787 435 809 478 801 486 797 494 788 494 615 496 611 746 623 768 622 784 615 796 600 799 587 792 565 759 248 781 224 787 210 769 205 494 194 492 190 491 70 493 50 501 27 512 16 527 9 558 3 632 0 749 1 817 4 850 10 864 17 874 28 882 40 890 59 903 114 917 202 924 229 929 202 930 162 926 57 919 18 911 -1 902 -16 889 -27 871 -35 849 -41 815 -45 734 -48 603 -48 544 -46 510 -41 493 -36 473 -26 463 -16 455 -3 449 12 444 51 445 188 443 191 233 184 230 180 232 147 230 142 220 140 210 141 193 150 184 159 182 168 183 231 163 556 158 584ZM495 426 731 437 733 441 744 576 742 585 498 575 494 573 493 430ZM713 239 717 243 728 391 726 399 497 390 494 388 492 235 494 232ZM218 412 444 423 446 427 447 568 445 572 213 561 209 559 216 416ZM441 228 445 232 446 383 444 386 223 377 220 375 227 225 229 222Z"/><path transform="translate(85.8,0) scale(0.029,-0.029)" d="M43 367 67 363 97 362 484 383 486 387 485 394 474 433 460 473 444 505 444 512 457 521 476 527 485 523 493 507 498 507 541 540 605 596 655 649 683 686 679 690 265 660 251 663 238 675 227 690 221 706 238 702 260 701 721 734 737 729 756 716 762 707 759 697 742 683 707 643 634 571 556 503 512 468 531 389 538 387 847 404 874 407 914 415 930 410 945 398 957 385 962 374 959 370 948 367 539 344 538 341 547 269 553 189 555 102 552 11 547 -27 541 -57 532 -78 522 -89 510 -93 494 -91 473 -83 418 -52 326 16 297 43 282 63 310 52 375 18 453 -18 479 -28 487 -28 494 -24 498 -14 504 33 508 152 505 248 499 307 493 341 83 321 71 323 61 333 49 349Z"/></g>
<g fill="#000" fill-opacity="0.35" transform="translate(189.7,172.5) rotate(-20.9) translate(-59.5,10.8)"><path transform="translate(0.0,0) scale(0.029,-0.029)" d="M76 27 143 102 184 155 240 234 284 304 316 366 340 423 362 481 382 548 379 552 371 552 183 539 150 540 143 541 126 558 118 569 113 582 136 578 171 577 393 593 410 661 422 726 422 766 413 802 437 800 465 789 478 779 482 770 464 668 446 601 448 596 802 619 846 628 856 624 868 616 889 594 891 589 877 585 436 556 433 553 414 493 384 416 387 412 396 412 702 430 724 428 746 418 752 407 749 394 695 308 629 216 570 148 569 145 632 104 689 71 748 42 809 15 939 -30 942 -35 937 -43 914 -67 903 -72 891 -72 849 -56 804 -35 665 37 538 116 467 65 432 43 357 2 278 -32 214 -55 169 -67 148 -68 164 -57 269 -10 366 43 436 88 503 141 502 146 417 230 338 321 335 319 278 229 224 160 189 122 142 75 102 42ZM356 368 415 290 470 229 530 174 534 173 566 208 614 271 658 340 684 387 681 390 671 390 357 373Z"/><path transform="translate(28.6,0) scale(0.029,-0.029)" d="M57 -86 117 1 139 40 158 80 174 121 187 163 203 248 208 347 208 373 205 404 191 454 197 455 208 452 267 423 466 435 469 439 461 478 451 506 435 531 439 531 475 525 494 517 512 442 515 439 760 453 779 456 809 465 830 455 850 435 852 427 840 423 528 404 524 400 535 363 563 293 598 225 623 185 632 190 665 226 695 263 722 302 734 328 737 360 761 345 780 324 784 316 781 308 752 263 695 194 649 149 683 105 715 71 762 31 813 -3 852 -22 862 -21 869 -16 891 48 923 164 928 175 930 164 929 119 922 26 908 -56 904 -65 894 -77 880 -81 851 -75 813 -59 768 -30 719 8 695 31 614 119 523 58 477 33 385 -9 338 -26 304 -34 318 -23 377 8 471 63 551 119 591 153 552 217 534 254 499 343 481 399 473 401 256 387 250 271 242 212 230 163 207 99 180 46 141 -11 94 -59ZM94 657 110 653 131 652 346 663 348 668 336 742 327 759 309 779 314 779 355 774 368 771 375 765 378 756 389 674 393 667 593 677 596 679 600 694 607 759 605 777 596 800 617 794 642 784 650 778 659 768 658 751 638 686 640 681 816 690 860 699 869 696 883 686 895 675 902 664 888 659 626 644 622 639 589 564 579 547 572 543 571 557 588 636 586 641 399 632 396 627 406 555 405 544 400 541 377 545 368 549 360 557 358 566 358 607 355 625 353 628 158 617 130 618 113 625 101 641ZM790 518 776 497 771 495 766 496 710 534 658 564 651 571 654 581 661 593 666 596 699 583 752 557 779 540 791 529Z"/><path transform="translate(57.2,0) scale(0.029,-0.029)" d="M145 615 164 613 216 597 445 609 447 612 448 770 445 787 435 809 478 801 486 797 494 788 494 615 496 611 746 623 768 622 784 615 796 600 799 587 792 565 759 248 781 224 787 210 769 205 494 194 492 190 491 70 493 50 501 27 512 16 527 9 558 3 632 0 749 1 817 4 850 10 864 17 874 28 882 40 890 59 903 114 917 202 924 229 929 202 930 162 926 57 919 18 911 -1 902 -16 889 -27 871 -35 849 -41 815 -45 734 -48 603 -48 544 -46 510 -41 493 -36 473 -26 463 -16 455 -3 449 12 444 51 445 188 443 191 233 184 230 180 232 147 230 142 220 140 210 141 193 150 184 159 182 168 183 231 163 556 158 584ZM495 426 731 437 733 441 744 576 742 585 498 575 494 573 493 430ZM713 239 717 243 728 391 726 399 497 390 494 388 492 235 494 232ZM218 412 444 423 446 427 447 568 445 572 213 561 209 559 216 416ZM441 228 445 232 446 383 444 386 223 377 220 375 227 225 229 222Z"/><path transform="translate(85.8,0) scale(0.029,-0.029)" d="M43 367 67 363 97 362 484 383 486 387 485 394 474 433 460 473 444 505 444 512 457 521 476 527 485 523 493 507 498 507 541 540 605 596 655 649 683 686 679 690 265 660 251 663 238 675 227 690 221 706 238 702 260 701 721 734 737 729 756 716 762 707 759 697 742 683 707 643 634 571 556 503 512 468 531 389 538 387 847 404 874 407 914 415 930 410 945 398 957 385 962 374 959 370 948 367 539 344 538 341 547 269 553 189 555 102 552 11 547 -27 541 -57 532 -78 522 -89 510 -93 494 -91 473 -83 418 -52 326 16 297 43 282 63 310 52 375 18 453 -18 479 -28 487 -28 494 -24 498 -14 504 33 508 152 505 248 499 307 493 341 83 321 71 323 61 333 49 349Z"/></g>
<g fill="#000" fill-opacity="0.35" transform="translate(384.1,101.0) rotate(-20.9) translate(-59.5,10.8)"><path transform="translate(0.0,0) scale(0.029,-0.029)" d="M76 27 143 102 184 155 240 234 284 304 316 366 340 423 362 481 382 548 379 552 371 552 183 539 150 540 143 541 126 558 118 569 113 582 136 578 171 577 393 593 410 661 422 726 422 766 413 802 437 800 465 789 478 779 482 770 464 668 446 601 448 596 802 619 846 628 856 624 868 616 889 594 891 589 877 585 436 556 433 553 414 493 384 416 387 412 396 412 702 430 724 428 746 418 752 407 749 394 695 308 629 216 570 148 569 145 632 104 689 71 748 42 809 15 939 -30 942 -35 937 -43 914 -67 903 -72 891 -72 849 -56 804 -35 665 37 538 116 467 65 432 43 357 2 278 -32 214 -55 169 -67 148 -68 164 -57 269 -10 366 43 436 88 503 141 502 146 417 230 338 321 335 319 278 229 224 160 189 122 142 75 102 42ZM356 368 415 290 470 229 530 174 534 173 566 208 614 271 658 340 684 387 681 390 671 390 357 373Z"/><path transform="translate(28.6,0) scale(0.029,-0.029)" d="M57 -86 117 1 139 40 158 80 174 121 187 163 203 248 208 347 208 373 205 404 191 454 197 455 208 452 267 423 466 435 469 439 461 478 451 506 435 531 439 531 475 525 494 517 512 442 515 439 760 453 779 456 809 465 830 455 850 435 852 427 840 423 528 404 524 400 535 363 563 293 598 225 623 185 632 190 665 226 695 263 722 302 734 328 737 360 761 345 780 324 784 316 781 308 752 263 695 194 649 149 683 105 715 71 762 31 813 -3 852 -22 862 -21 869 -16 891 48 923 164 928 175 930 164 929 119 922 26 908 -56 904 -65 894 -77 880 -81 851 -75 813 -59 768 -30 719 8 695 31 614 119 523 58 477 33 385 -9 338 -26 304 -34 318 -23 377 8 471 63 551 119 591 153 552 217 534 254 499 343 481 399 473 401 256 387 250 271 242 212 230 163 207 99 180 46 141 -11 94 -59ZM94 657 110 653 131 652 346 663 348 668 336 742 327 759 309 779 314 779 355 774 368 771 375 765 378 756 389 674 393 667 593 677 596 679 600 694 607 759 605 777 596 800 617 794 642 784 650 778 659 768 658 751 638 686 640 681 816 690 860 699 869 696 883 686 895 675 902 664 888 659 626 644 622 639 589 564 579 547 572 543 571 557 588 636 586 641 399 632 396 627 406 555 405 544 400 541 377 545 368 549 360 557 358 566 358 607 355 625 353 628 158 617 130 618 113 625 101 641ZM790 518 776 497 771 495 766 496 710 534 658 564 651 571 654 581 661 593 666 596 699 583 752 557 779 540 791 529Z"/><path transform="translate(57.2,0) scale(0.029,-0.029)" d="M145 615 164 613 216 597 445 609 447 612 448 770 445 787 435 809 478 801 486 797 494 788 494 615 496 611 746 623 768 622 784 615 796 600 799 587 792 565 759 248 781 224 787 210 769 205 494 194 492 190 491 70 493 50 501 27 512 16 527 9 558 3 632 0 749 1 817 4 850 10 864 17 874 28 882 40 890 59 903 114 917 202 924 229 929 202 930 162 926 57 919 18 911 -1 902 -16 889 -27 871 -35 849 -41 815 -45 734 -48 603 -48 544 -46 510 -41 493 -36 473 -26 463 -16 455 -3 449 12 444 51 445 188 443 191 233 184 230 180 232 147 230 142 220 140 210 141 193 150 184 159 182 168 183 231 163 556 158 584ZM495 426 731 437 733 441 744 576 742 585 498 575 494 573 493 430ZM713 239 717 243 728 391 726 399 497 390 494 388 492 235 494 232ZM218 412 444 423 446 427 447 568 445 572 213 561 209 559 216 416ZM441 228 445 232 446 383 444 386 223 377 220 375 227 225 229 222Z"/><path transform="translate(85.8,0) scale(0.029,-0.029)" d="M43 367 67 363 97 362 484 383 486 387 485 394 474 433 460 473 444 505 444 512 457 521 476 527 485 523 493 507 498 507 541 540 605 596 655 649 683 686 679 690 265 660 251 663 238 675 227 690 221 706 238 702 260 701 721 734 737 729 756 716 762 707 759 697 742 683 707 643 634 571 556 503 512 468 531 389 538 387 847 404 874 407 914 415 930 410 945 398 957 385 962 374 959 370 948 367 539 344 538 341 547 269 553 189 555 102 552 11 547 -27 541 -57 532 -78 522 -89 510 -93 494 -91 473 -83 418 -52 326 16 297 43 282 63 310 52 375 18 453 -18 479 -28 487 -28 494 -24 498 -14 504 33 508 152 505 248 499 307 493 341 83 321 71 323 61 333 49 349Z"/></g>
<g fill="#000" fill-opacity="0.35" transform="translate(579.2,30.3) rotate(-20.9) translate(-59.5,10.8)"><path transform="translate(0.0,0) scale(0.029,-0.029)" d="M76 27 143 102 184 155 240 234 284 304 316 366 340 423 362 481 382 548 379 552 371 552 183 539 150 540 143 541 126 558 118 569 113 582 136 578 171 577 393 593 410 661 422 726 422 766 413 802 437 800 465 789 478 779 482 770 464 668 446 601 448 596 802 619 846 628 856 624 868 616 889 594 891 589 877 585 436 556 433 553 414 493 384 416 387 412 396 412 702 430 724 428 746 418 752 407 749 394 695 308 629 216 570 148 569 145 632 104 689 71 748 42 809 15 939 -30 942 -35 937 -43 914 -67 903 -72 891 -72 849 -56 804 -35 665 37 538 116 467 65 432 43 357 2 278 -32 214 -55 169 -67 148 -68 164 -57 269 -10 366 43 436 88 503 141 502 146 417 230 338 321 335 319 278 229 224 160 189 122 142 75 102 42ZM356 368 415 290 470 229 530 174 534 173 566 208 614 271 658 340 684 387 681 390 671 390 357 373Z"/><path transform="translate(28.6,0) scale(0.029,-0.029)" d="M57 -86 117 1 139 40 158 80 174 121 187 163 203 248 208 347 208 373 205 404 191 454 197 455 208 452 267 423 466 435 469 439 461 478 451 506 435 531 439 531 475 525 494 517 512 442 515 439 760 453 779 456 809 465 830 455 850 435 852 427 840 423 528 404 524 400 535 363 563 293 598 225 623 185 632 190 665 226 695 263 722 302 734 328 737 360 761 345 780 324 784 316 781 308 752 263 695 194 649 149 683 105 715 71 762 31 813 -3 852 -22 862 -21 869 -16 891 48 923 164 928 175 930 164 929 119 922 26 908 -56 904 -65 894 -77 880 -81 851 -75 813 -59 768 -30 719 8 695 31 614 119 523 58 477 33 385 -9 338 -26 304 -34 318 -23 377 8 471 63 551 119 591 153 552 217 534 254 499 343 481 399 473 401 256 387 250 271 242 212 230 163 207 99 180 46 141 -11 94 -59ZM94 657 110 653 131 652 346 663 348 668 336 742 327 759 309 779 314 779 355 774 368 771 375 765 378 756 389 674 393 667 593 677 596 679 600 694 607 759 605 777 596 800 617 794 642 784 650 778 659 768 658 751 638 686 640 681 816 690 860 699 869 696 883 686 895 675 902 664 888 659 626 644 622 639 589 564 579 547 572 543 571 557 588 636 586 641 399 632 396 627 406 555 405 544 400 541 377 545 368 549 360 557 358 566 358 607 355 625 353 628 158 617 130 618 113 625 101 641ZM790 518 776 497 771 495 766 496 710 534 658 564 651 571 654 581 661 593 666 596 699 583 752 557 779 540 791 529Z"/><path transform="translate(57.2,0) scale(0.029,-0.029)" d="M145 615 164 613 216 597 445 609 447 612 448 770 445 787 435 809 478 801 486 797 494 788 494 615 496 611 746 623 768 622 784 615 796 600 799 587 792 565 759 248 781 224 787 210 769 205 494 194 492 190 491 70 493 50 501 27 512 16 527 9 558 3 632 0 749 1 817 4 850 10 864 17 874 28 882 40 890 59 903 114 917 202 924 229 929 202 930 162 926 57 919 18 911 -1 902 -16 889 -27 871 -35 849 -41 815 -45 734 -48 603 -48 544 -46 510 -41 493 -36 473 -26 463 -16 455 -3 449 12 444 51 445 188 443 191 233 184 230 180 232 147 230 142 220 140 210 141 193 150 184 159 182 168 183 231 163 556 158 584ZM495 426 731 437 733 441 744 576 742 585 498 575 494 573 493 430ZM713 239 717 243 728 391 726 399 497 390 494 388 492 235 494 232ZM218 412 444 423 446 427 447 568 445 572 213 561 209 559 216 416ZM441 228 445 232 446 383 444 386 223 377 220 375 227 225 229 222Z"/><path transform="translate(85.8,0) scale(0.029,-0.029)" d="M43 367 67 363 97 362 484 383 486 387 485 394 474 433 460 473 444 505 444 512 457 521 476 527 485 523 493 507 498 507 541 540 605 596 655 649 683 686 679 690 265 660 251 663 238 675 227 690 221 706 238 702 260 701 721 734 737 729 756 716 762 707 759 697 742 683 707 643 634 571 556 503 512 468 531 389 538 387 847 404 874 407 914 415 930 410 945 398 957 385 962 374 959 370 948 367 539 344 538 341 547 269 553 189 555 102 552 11 547 -27 541 -57 532 -78 522 -89 510 -93 494 -91 473 -83 418 -52 326 16 297 43 282 63 310 52 375 18 453 -18 479 -28 487 -28 494 -24 498 -14 504 33 508 152 505 248 499 307 493 341 83 321 71 323 61 333 49 349Z"/></g>
<g fill="#000" fill-opacity="0.35" transform="translate(772.9,-39.7) rotate(-20.9) translate(-59.5,10.8)"><path transform="translate(0.0,0) scale(0.029,-0.029)" d="M76 27 143 102 184 155 240 234 284 304 316 366 340 423 362 481 382 548 379 552 371 552 183 539 150 540 143 541 126 558 118 569 113 582 136 578 171 577 393 593 410 661 422 726 422 766 413 802 437 800 465 789 478 779 482 770 464 668 446 601 448 596 802 619 846 628 856 624 868 616 889 594 891 589 877 585 436 556 433 553 414 493 384 416 387 412 396 412 702 430 724 428 746 418 752 407 749 394 695 308 629 216 570 148 569 145 632 104 689 71 748 42 809 15 939 -30 942 -35 937 -43 914 -67 903 -72 891 -72 849 -56 804 -35 665 37 538 116 467 65 432 43 357 2 278 -32 214 -55 169 -67 148 -68 164 -57 269 -10 366 43 436 88 503 141 502 146 417 230 338 321 335 319 278 229 224 160 189 122 142 75 102 42ZM356 368 415 290 470 229 530 174 534 173 566 208 614 271 658 340 684 387 681 390 671 390 357 373Z"/><path transform="translate(28.6,0) scale(0.029,-0.029)" d="M57 -86 117 1 139 40 158 80 174 121 187 163 203 248 208 347 208 373 205 404 191 454 197 455 208 452 267 423 466 435 469 439 461 478 451 506 435 531 439 531 475 525 494 517 512 442 515 439 760 453 779 456 809 465 830 455 850 435 852 427 840 423 528 404 524 400 535 363 563 293 598 225 623 185 632 190 665 226 695 263 722 302 734 328 737 360 761 345 780 324 784 316 781 308 752 263 695 194 649 149 683 105 715 71 762 31 813 -3 852 -22 862 -21 869 -16 891 48 923 164 928 175 930 164 929 119 922 26 908 -56 904 -65 894 -77 880 -81 851 -75 813 -59 768 -30 719 8 695 31 614 119 523 58 477 33 385 -9 338 -26 304 -34 318 -23 377 8 471 63 551 119 591 153 552 217 534 254 499 343 481 399 473 401 256 387 250 271 242 212 230 163 207 99 180 46 141 -11 94 -59ZM94 657 110 653 131 652 346 663 348 668 336 742 327 759 309 779 314 779 355 774 368 771 375 765 378 756 389 674 393 667 593 677 596 679 600 694 607 759 605 777 596 800 617 794 642 784 650 778 659 768 658 751 638 686 640 681 816 690 860 699 869 696 883 686 895 675 902 664 888 659 626 644 622 639 589 564 579 547 572 543 571 557 588 636 586 641 399 632 396 627 406 555 405 544 400 541 377 545 368 549 360 557 358 566 358 607 355 625 353 628 158 617 130 618 113 625 101 641ZM790 518 776 497 771 495 766 496 710 534 658 564 651 571 654 581 661 593 666 596 699 583 752 557 779 540 791 529Z"/><path transform="translate(57.2,0) scale(0.029,-0.029)" d="M145 615 164 613 216 597 445 609 447 612 448 770 445 787 435 809 478 801 486 797 494 788 494 615 496 611 746 623 768 622 784 615 796 600 799 587 792 565 759 248 781 224 787 210 769 205 494 194 492 190 491 70 493 50 501 27 512 16 527 9 558 3 632 0 749 1 817 4 850 10 864 17 874 28 882 40 890 59 903 114 917 202 924 229 929 202 930 162 926 57 919 18 911 -1 902 -16 889 -27 871 -35 849 -41 815 -45 734 -48 603 -48 544 -46 510 -41 493 -36 473 -26 463 -16 455 -3 449 12 444 51 445 188 443 191 233 184 230 180 232 147 230 142 220 140 210 141 193 150 184 159 182 168 183 231 163 556 158 584ZM495 426 731 437 733 441 744 576 742 585 498 575 494 573 493 430ZM713 239 717 243 728 391 726 399 497 390 494 388 492 235 494 232ZM218 412 444 423 446 427 447 568 445 572 213 561 209 559 216 416ZM441 228 445 232 446 383 444 386 223 377 220 375 227 225 229 222Z"/><path transform="translate(85.8,0) scale(0.029,-0.029)" d="M43 367 67 363 97 362 484 383 486 387 485 394 474 433 460 473 444 505 444 512 457 521 476 527 485 523 493 507 498 507 541 540 605 596 655 649 683 686 679 690 265 660 251 663 238 675 227 690 221 706 238 702 260 701 721 734 737 729 756 716 762 707 759 697 742 683 707 643 634 571 556 503 512 468 531 389 538 387 847 404 874 407 914 415 930 410 945 398 957 385 962 374 959 370 948 367 539 344 538 341 547 269 553 189 555 102 552 11 547 -27 541 -57 532 -78 522 -89 510 -93 494 -91 473 -83 418 -52 326 16 297 43 282 63 310 52 375 18 453 -18 479 -28 487 -28 494 -24 498 -14 504 33 508 152 505 248 499 307 493 341 83 321 71 323 61 333 49 349Z"/></g>
<g fill="#000" fill-opacity="0.35" transform="translate(206.2,391.4) rotate(-20.9) translate(-59.5,10.8)"><path transform="translate(0.0,0) scale(0.029,-0.029)" d="M76 27 143 102 184 155 240 234 284 304 316 366 340 423 362 481 382 548 379 552 371 552 183 539 150 540 143 541 126 558 118 569 113 582 136 578 171 577 393 593 410 661 422 726 422 766 413 802 437 800 465 789 478 779 482 770 464 668 446 601 448 596 802 619 846 628 856 624 868 616 889 594 891 589 877 585 436 556 433 553 414 493 384 416 387 412 396 412 702 430 724 428 746 418 752 407 749 394 695 308 629 216 570 148 569 145 632 104 689 71 748 42 809 15 939 -30 942 -35 937 -43 914 -67 903 -72 891 -72 849 -56 804 -35 665 37 538 116 467 65 432 43 357 2 278 -32 214 -55 169 -67 148 -68 164 -57 269 -10 366 43 436 88 503 141 502 146 417 230 338 321 335 319 278 229 224 160 189 122 142 75 102 42ZM356 368 415 290 470 229 530 174 534 173 566 208 614 271 658 340 684 387 681 390 671 390 357 373Z"/><path transform="translate(28.6,0) scale(0.029,-0.029)" d="M57 -86 117 1 139 40 158 80 174 121 187 163 203 248 208 347 208 373 205 404 191 454 197 455 208 452 267 423 466 435 469 439 461 478 451 506 435 531 439 531 475 525 494 517 512 442 515 439 760 453 779 456 809 465 830 455 850 435 852 427 840 423 528 404 524 400 535 363 563 293 598 225 623 185 632 190 665 226 695 263 722 302 734 328 737 360 761 345 780 324 784 316 781 308 752 263 695 194 649 149 683 105 715 71 762 31 813 -3 852 -22 862 -21 869 -16 891 48 923 164 928 175 930 164 929 119 922 26 908 -56 904 -65 894 -77 880 -81 851 -75 813 -59 768 -30 719 8 695 31 614 119 523 58 477 33 385 -9 338 -26 304 -34 318 -23 377 8 471 63 551 119 591 153 552 217 534 254 499 343 481 399 473 401 256 387 250 271 242 212 230 163 207 99 180 46 141 -11 94 -59ZM94 657 110 653 131 652 346 663 348 668 336 742 327 759 309 779 314 779 355 774 368 771 375 765 378 756 389 674 393 667 593 677 596 679 600 694 607 759 605 777 596 800 617 794 642 784 650 778 659 768 658 751 638 686 640 681 816 690 860 699 869 696 883 686 895 675 902 664 888 659 626 644 622 639 589 564 579 547 572 543 571 557 588 636 586 641 399 632 396 627 406 555 405 544 400 541 377 545 368 549 360 557 358 566 358 607 355 625 353 628 158 617 130 618 113 625 101 641ZM790 518 776 497 771 495 766 496 710 534 658 564 651 571 654 581 661 593 666 596 699 583 752 557 779 540 791 529Z"/><path transform="translate(57.2,0) scale(0.029,-0.029)" d="M145 615 164 613 216 597 445 609 447 612 448 770 445 787 435 809 478 801 486 797 494 788 494 615 496 611 746 623 768 622 784 615 796 600 799 587 792 565 759 248 781 224 787 210 769 205 494 194 492 190 491 70 493 50 501 27 512 16 527 9 558 3 632 0 749 1 817 4 850 10 864 17 874 28 882 40 890 59 903 114 917 202 924 229 929 202 930 162 926 57 919 18 911 -1 902 -16 889 -27 871 -35 849 -41 815 -45 734 -48 603 -48 544 -46 510 -41 493 -36 473 -26 463 -16 455 -3 449 12 444 51 445 188 443 191 233 184 230 180 232 147 230 142 220 140 210 141 193 150 184 159 182 168 183 231 163 556 158 584ZM495 426 731 437 733 441 744 576 742 585 498 575 494 573 493 430ZM713 239 717 243 728 391 726 399 497 390 494 388 492 235 494 232ZM218 412 444 423 446 427 447 568 445 572 213 561 209 559 216 416ZM441 228 445 232 446 383 444 386 223 377 220 375 227 225 229 222Z"/><path transform="translate(85.8,0) scale(0.029,-0.029)" d="M43 367 67 363 97 362 484 383 486 387 485 394 474 433 460 473 444 505 444 512 457 521 476 527 485 523 493 507 498 507 541 540 605 596 655 649 683 686 679 690 265 660 251 663 238 675 227 690 221 706 238 702 260 701 721 734 737 729 756 716 762 707 759 697 742 683 707 643 634 571 556 503 512 468 531 389 538 387 847 404 874 407 914 415 930 410 945 398 957 385 962 374 959 370 948 367 539 344 538 341 547 269 553 189 555 102 552 11 547 -27 541 -57 532 -78 522 -89 510 -93 494 -91 473 -83 418 -52 326 16 297 43 282 63 310 52 375 18 453 -18 479 -28 487 -28 494 -24 498 -14 504 33 508 152 505 248 499 307 493 341 83 321 71 323 61 333 49 349Z"/></g>
<g fill="#000" fill-opacity="0.35" transform="translate(404.0,320.2) rotate(-20.9) translate(-59.5,10.8)"><path transform="translate(0.0,0) scale(0.029,-0.029)" d="M76 27 143 102 184 155 240 234 284 304 316 366 340 423 362 481 382 548 379 552 371 552 183 539 150 540 143 541 126 558 118 569 113 582 136 578 171 577 393 593 410 661 422 726 422 766 413 802 437 800 465 789 478 779 482 770 464 668 446 601 448 596 802 619 846 628 856 624 868 616 889 594 891 589 877 585 436 556 433 553 414 493 384 416 387 412 396 412 702 430 724 428 746 418 752 407 749 394 695 308 629 216 570 148 569 145 632 104 689 71 748 42 809 15 939 -30 942 -35 937 -43 914 -67 903 -72 891 -72 849 -56 804 -35 665 37 538 116 467 65 432 43 357 2 278 -32 214 -55 169 -67 148 -68 164 -57 269 -10 366 43 436 88 503 141 502 146 417 230 338 321 335 319 278 229 224 160 189 122 142 75 102 42ZM356 368 415 290 470 229 530 174 534 173 566 208 614 271 658 340 684 387 681 390 671 390 357 373Z"/><path transform="translate(28.6,0) scale(0.029,-0.029)" d="M57 -86 117 1 139 40 158 80 174 121 187 163 203 248 208 347 208 373 205 404 191 454 197 455 208 452 267 423 466 435 469 439 461 478 451 506 435 531 439 531 475 525 494 517 512 442 515 439 760 453 779 456 809 465 830 455 850 435 852 427 840 423 528 404 524 400 535 363 563 293 598 225 623 185 632 190 665 226 695 263 722 302 734 328 737 360 761 345 780 324 784 316 781 308 752 263 695 194 649 149 683 105 715 71 762 31 813 -3 852 -22 862 -21 869 -16 891 48 923 164 928 175 930 164 929 119 922 26 908 -56 904 -65 894 -77 880 -81 851 -75 813 -59 768 -30 719 8 695 31 614 119 523 58 477 33 385 -9 338 -26 304 -34 318 -23 377 8 471 63 551 119 591 153 552 217 534 254 499 343 481 399 473 401 256 387 250 271 242 212 230 163 207 99 180 46 141 -11 94 -59ZM94 657 110 653 131 652 346 663 348 668 336 742 327 759 309 779 314 779 355 774 368 771 375 765 378 756 389 674 393 667 593 677 596 679 600 694 607 759 605 777 596 800 617 794 642 784 650 778 659 768 658 751 638 686 640 681 816 690 860 699 869 696 883 686 895 675 902 664 888 659 626 644 622 639 589 564 579 547 572 543 571 557 588 636 586 641 399 632 396 627 406 555 405 544 400 541 377 545 368 549 360 557 358 566 358 607 355 625 353 628 158 617 130 618 113 625 101 641ZM790 518 776 497 771 495 766 496 710 534 658 564 651 571 654 581 661 593 666 596 699 583 752 557 779 540 791 529Z"/><path transform="translate(57.2,0) scale(0.029,-0.029)" d="M145 615 164 613 216 597 445 609 447 612 448 770 445 787 435 809 478 801 486 797 494 788 494 615 496 611 746 623 768 622 784 615 796 600 799 587 792 565 759 248 781 224 787 210 769 205 494 194 492 190 491 70 493 50 501 27 512 16 527 9 558 3 632 0 749 1 817 4 850 10 864 17 874 28 882 40 890 59 903 114 917 202 924 229 929 202 930 162 926 57 919 18 911 -1 902 -16 889 -27 871 -35 849 -41 815 -45 734 -48 603 -48 544 -46 510 -41 493 -36 473 -26 463 -16 455 -3 449 12 444 51 445 188 443 191 233 184 230 180 232 147 230 142 220 140 210 141 193 150 184 159 182 168 183 231 163 556 158 584ZM495 426 731 437 733 441 744 576 742 585 498 575 494 573 493 430ZM713 239 717 243 728 391 726 399 497 390 494 388 492 235 494 232ZM218 412 444 423 446 427 447 568 445 572 213 561 209 559 216 416ZM441 228 445 232 446 383 444 386 223 377 220 375 227 225 229 222Z"/><path transform="translate(85.8,0) scale(0.029,-0.029)" d="M43 367 67 363 97 362 484 383 486 387 485 394 474 433 460 473 444 505 444 512 457 521 476 527 485 523 493 507 498 507 541 540 605 596 655 649 683 686 679 690 265 660 251 663 238 675 227 690 221 706 238 702 260 701 721 734 737 729 756 716 762 707 759 697 742 683 707 643 634 571 556 503 512 468 531 389 538 387 847 404 874 407 914 415 930 410 945 398 957 385 962 374 959 370 948 367 539 344 538 341 547 269 553 189 555 102 552 11 547 -27 541 -57 532 -78 522 -89 510 -93 494 -91 473 -83 418 -52 326 16 297 43 282 63 310 52 375 18 453 -18 479 -28 487 -28 494 -24 498 -14 504 33 508 152 505 248 499 307 493 341 83 321 71 323 61 333 49 349Z"/></g>
<g fill="#000" fill-opacity="0.35" transform="translate(595.6,248.4) rotate(-20.9) translate(-59.5,10.8)"><path transform="translate(0.0,0) scale(0.029,-0.029)" d="M76 27 143 102 184 155 240 234 284 304 316 366 340 423 362 481 382 548 379 552 371 552 183 539 150 540 143 541 126 558 118 569 113 582 136 578 171 577 393 593 410 661 422 726 422 766 413 802 437 800 465 789 478 779 482 770 464 668 446 601 448 596 802 619 846 628 856 624 868 616 889 594 891 589 877 585 436 556 433 553 414 493 384 416 387 412 396 412 702 430 724 428 746 418 752 407 749 394 695 308 629 216 570 148 569 145 632 104 689 71 748 42 809 15 939 -30 942 -35 937 -43 914 -67 903 -72 891 -72 849 -56 804 -35 665 37 538 116 467 65 432 43 357 2 278 -32 214 -55 169 -67 148 -68 164 -57 269 -10 366 43 436 88 503 141 502 146 417 230 338 321 335 319 278 229 224 160 189 122 142 75 102 42ZM356 368 415 290 470 229 530 174 534 173 566 208 614 271 658 340 684 387 681 390 671 390 357 373Z"/><path transform="translate(28.6,0) scale(0.029,-0.029)" d="M57 -86 117 1 139 40 158 80 174 121 187 163 203 248 208 347 208 373 205 404 191 454 197 455 208 452 267 423 466 435 469 439 461 478 451 506 435 531 439 531 475 525 494 517 512 442 515 439 760 453 779 456 809 465 830 455 850 435 852 427 840 423 528 404 524 400 535 363 563 293 598 225 623 185 632 190 665 226 695 263 722 302 734 328 737 360 761 345 780 324 784 316 781 308 752 263 695 194 649 149 683 105 715 71 762 31 813 -3 852 -22 862 -21 869 -16 891 48 923 164 928 175 930 164 929 119 922 26 908 -56 904 -65 894 -77 880 -81 851 -75 813 -59 768 -30 719 8 695 31 614 119 523 58 477 33 385 -9 338 -26 304 -34 318 -23 377 8 471 63 551 119 591 153 552 217 534 254 499 343 481 399 473 401 256 387 250 271 242 212 230 163 207 99 180 46 141 -11 94 -59ZM94 657 110 653 131 652 346 663 348 668 336 742 327 759 309 779 314 779 355 774 368 771 375 765 378 756 389 674 393 667 593 677 596 679 600 694 607 759 605 777 596 800 617 794 642 784 650 778 659 768 658 751 638 686 640 681 816 690 860 699 869 696 883 686 895 675 902 664 888 659 626 644 622 639 589 564 579 547 572 543 571 557 588 636 586 641 399 632 396 627 406 555 405 544 400 541 377 545 368 549 360 557 358 566 358 607 355 625 353 628 158 617 130 618 113 625 101 641ZM790 518 776 497 771 495 766 496 710 534 658 564 651 571 654 581 661 593 666 596 699 583 752 557 779 540 791 529Z"/><path transform="translate(57.2,0) scale(0.029,-0.029)" d="M145 615 164 613 216 597 445 609 447 612 448 770 445 787 435 809 478 801 486 797 494 788 494 615 496 611 746 623 768 622 784 615 796 600 799 587 792 565 759 248 781 224 787 210 769 205 494 194 492 190 491 70 493 50 501 27 512 16 527 9 558 3 632 0 749 1 817 4 850 10 864 17 874 28 882 40 890 59 903 114 917 202 924 229 929 202 930 162 926 57 919 18 911 -1 902 -16 889 -27 871 -35 849 -41 815 -45 734 -48 603 -48 544 -46 510 -41 493 -36 473 -26 463 -16 455 -3 449 12 444 51 445 188 443 191 233 184 230 180 232 147 230 142 220 140 210 141 193 150 184 159 182 168 183 231 163 556 158 584ZM495 426 731 437 733 441 744 576 742 585 498 575 494 573 493 430ZM713 239 717 243 728 391 726 399 497 390 494 388 492 235 494 232ZM218 412 444 423 446 427 447 568 445 572 213 561 209 559 216 416ZM441 228 445 232 446 383 444 386 223 377 220 375 227 225 229 222Z"/><path transform="translate(85.8,0) scale(0.029,-0.029)" d="M43 367 67 363 97 362 484 383 486 387 485 394 474 433 460 473 444 505 444 512 457 521 476 527 485 523 493 507 498 507 541 540 605 596 655 649 683 686 679 690 265 660 251 663 238 675 227 690 221 706 238 702 260 701 721 734 737 729 756 716 762 707 759 697 742 683 707 643 634 571 556 503 512 468 531 389 538 387 847 404 874 407 914 415 930 410 945 398 957 385 962 374 959 370 948 367 539 344 538 341 547 269 553 189 555 102 552 11 547 -27 541 -57 532 -78 522 -89 510 -93 494 -91 473 -83 418 -52 326 16 297 43 282 63 310 52 375 18 453 -18 479 -28 487 -28 494 -24 498 -14 504 33 508 152 505 248 499 307 493 341 83 321 71 323 61 333 49 349Z"/></g>
<g fill="#000" fill-opacity="0.35" transform="translate(790.9,179.7) rotate(-20.9) translate(-59.5,10.8)"><path transform="translate(0.0,0) scale(0.029,-0.029)" d="M76 27 143 102 184 155 240 234 284 304 316 366 340 423 362 481 382 548 379 552 371 552 183 539 150 540 143 541 126 558 118 569 113 582 136 578 171 577 393 593 410 661 422 726 422 766 413 802 437 800 465 789 478 779 482 770 464 668 446 601 448 596 802 619 846 628 856 624 868 616 889 594 891 589 877 585 436 556 433 553 414 493 384 416 387 412 396 412 702 430 724 428 746 418 752 407 749 394 695 308 629 216 570 148 569 145 632 104 689 71 748 42 809 15 939 -30 942 -35 937 -43 914 -67 903 -72 891 -72 849 -56 804 -35 665 37 538 116 467 65 432 43 357 2 278 -32 214 -55 169 -67 148 -68 164 -57 269 -10 366 43 436 88 503 141 502 146 417 230 338 321 335 319 278 229 224 160 189 122 142 75 102 42ZM356 368 415 290 470 229 530 174 534 173 566 208 614 271 658 340 684 387 681 390 671 390 357 373Z"/><path transform="translate(28.6,0) scale(0.029,-0.029)" d="M57 -86 117 1 139 40 158 80 174 121 187 163 203 248 208 347 208 373 205 404 191 454 197 455 208 452 267 423 466 435 469 439 461 478 451 506 435 531 439 531 475 525 494 517 512 442 515 439 760 453 779 456 809 465 830 455 850 435 852 427 840 423 528 404 524 400 535 363 563 293 598 225 623 185 632 190 665 226 695 263 722 302 734 328 737 360 761 345 780 324 784 316 781 308 752 263 695 194 649 149 683 105 715 71 762 31 813 -3 852 -22 862 -21 869 -16 891 48 923 164 928 175 930 164 929 119 922 26 908 -56 904 -65 894 -77 880 -81 851 -75 813 -59 768 -30 719 8 695 31 614 119 523 58 477 33 385 -9 338 -26 304 -34 318 -23 377 8 471 63 551 119 591 153 552 217 534 254 499 343 481 399 473 401 256 387 250 271 242 212 230 163 207 99 180 46 141 -11 94 -59ZM94 657 110 653 131 652 346 663 348 668 336 742 327 759 309 779 314 779 355 774 368 771 375 765 378 756 389 674 393 667 593 677 596 679 600 694 607 759 605 777 596 800 617 794 642 784 650 778 659 768 658 751 638 686 640 681 816 690 860 699 869 696 883 686 895 675 902 664 888 659 626 644 622 639 589 564 579 547 572 543 571 557 588 636 586 641 399 632 396 627 406 555 405 544 400 541 377 545 368 549 360 557 358 566 358 607 355 625 353 628 158 617 130 618 113 625 101 641ZM790 518 776 497 771 495 766 496 710 534 658 564 651 571 654 581 661 593 666 596 699 583 752 557 779 540 791 529Z"/><path transform="translate(57.2,0) scale(0.029,-0.029)" d="M145 615 164 613 216 597 445 609 447 612 448 770 445 787 435 809 478 801 486 797 494 788 494 615 496 611 746 623 768 622 784 615 796 600 799 587 792 565 759 248 781 224 787 210 769 205 494 194 492 190 491 70 493 50 501 27 512 16 527 9 558 3 632 0 749 1 817 4 850 10 864 17 874 28 882 40 890 59 903 114 917 202 924 229 929 202 930 162 926 57 919 18 911 -1 902 -16 889 -27 871 -35 849 -41 815 -45 734 -48 603 -48 544 -46 510 -41 493 -36 473 -26 463 -16 455 -3 449 12 444 51 445 188 443 191 233 184 230 180 232 147 230 142 220 140 210 141 193 150 184 159 182 168 183 231 163 556 158 584ZM495 426 731 437 733 441 744 576 742 585 498 575 494 573 493 430ZM713 239 717 243 728 391 726 399 497 390 494 388 492 235 494 232ZM218 412 444 423 446 427 447 568 445 572 213 561 209 559 216 416ZM441 228 445 232 446 383 444 386 223 377 220 375 227 225 229 222Z"/><path transform="translate(85.8,0) scale(0.029,-0.029)" d="M43 367 67 363 97 362 484 383 486 387 485 394 474 433 460 473 444 505 444 512 457 521 476 527 485 523 493 507 498 507 541 540 605 596 655 649 683 686 679 690 265 660 251 663 238 675 227 690 221 706 238 702 260 701 721 734 737 729 756 716 762 707 759 697 742 683 707 643 634 571 556 503 512 468 531 389 538 387 847 404 874 407 914 415 930 410 945 398 957 385 962 374 959 370 948 367 539 344 538 341 547 269 553 189 555 102 552 11 547 -27 541 -57 532 -78 522 -89 510 -93 494 -91 473 -83 418 -52 326 16 297 43 282 63 310 52 375 18 453 -18 479 -28 487 -28 494 -24 498 -14 504 33 508 152 505 248 499 307 493 341 83 321 71 323 61 333 49 349Z"/></g>
<g fill="#000" fill-opacity="0.35" transform="translate(726.5,427.5) rotate(-20.9) translate(-59.5,10.8)"><path transform="translate(0.0,0) scale(0.029,-0.029)" d="M76 27 143 102 184 155 240 234 284 304 316 366 340 423 362 481 382 548 379 552 371 552 183 539 150 540 143 541 126 558 118 569 113 582 136 578 171 577 393 593 410 661 422 726 422 766 413 802 437 800 465 789 478 779 482 770 464 668 446 601 448 596 802 619 846 628 856 624 868 616 889 594 891 589 877 585 436 556 433 553 414 493 384 416 387 412 396 412 702 430 724 428 746 418 752 407 749 394 695 308 629 216 570 148 569 145 632 104 689 71 748 42 809 15 939 -30 942 -35 937 -43 914 -67 903 -72 891 -72 849 -56 804 -35 665 37 538 116 467 65 432 43 357 2 278 -32 214 -55 169 -67 148 -68 164 -57 269 -10 366 43 436 88 503 141 502 146 417 230 338 321 335 319 278 229 224 160 189 122 142 75 102 42ZM356 368 415 290 470 229 530 174 534 173 566 208 614 271 658 340 684 387 681 390 671 390 357 373Z"/><path transform="translate(28.6,0) scale(0.029,-0.029)" d="M57 -86 117 1 139 40 158 80 174 121 187 163 203 248 208 347 208 373 205 404 191 454 197 455 208 452 267 423 466 435 469 439 461 478 451 506 435 531 439 531 475 525 494 517 512 442 515 439 760 453 779 456 809 465 830 455 850 435 852 427 840 423 528 404 524 400 535 363 563 293 598 225 623 185 632 190 665 226 695 263 722 302 734 328 737 360 761 345 780 324 784 316 781 308 752 263 695 194 649 149 683 105 715 71 762 31 813 -3 852 -22 862 -21 869 -16 891 48 923 164 928 175 930 164 929 119 922 26 908 -56 904 -65 894 -77 880 -81 851 -75 813 -59 768 -30 719 8 695 31 614 119 523 58 477 33 385 -9 338 -26 304 -34 318 -23 377 8 471 63 551 119 591 153 552 217 534 254 499 343 481 399 473 401 256 387 250 271 242 212 230 163 207 99 180 46 141 -11 94 -59ZM94 657 110 653 131 652 346 663 348 668 336 742 327 759 309 779 314 779 355 774 368 771 375 765 378 756 389 674 393 667 593 677 596 679 600 694 607 759 605 777 596 800 617 794 642 784 650 778 659 768 658 751 638 686 640 681 816 690 860 699 869 696 883 686 895 675 902 664 888 659 626 644 622 639 589 564 579 547 572 543 571 557 588 636 586 641 399 632 396 627 406 555 405 544 400 541 377 545 368 549 360 557 358 566 358 607 355 625 353 628 158 617 130 618 113 625 101 641ZM790 518 776 497 771 495 766 496 710 534 658 564 651 571 654 581 661 593 666 596 699 583 752 557 779 540 791 529Z"/><path transform="translate(57.2,0) scale(0.029,-0.029)" d="M145 615 164 613 216 597 445 609 447 612 448 770 445 787 435 809 478 801 486 797 494 788 494 615 496 611 746 623 768 622 784 615 796 600 799 587 792 565 759 248 781 224 787 210 769 205 494 194 492 190 491 70 493 50 501 27 512 16 527 9 558 3 632 0 749 1 817 4 850 10 864 17 874 28 882 40 890 59 903 114 917 202 924 229 929 202 930 162 926 57 919 18 911 -1 902 -16 889 -27 871 -35 849 -41 815 -45 734 -48 603 -48 544 -46 510 -41 493 -36 473 -26 463 -16 455 -3 449 12 444 51 445 188 443 191 233 184 230 180 232 147 230 142 220 140 210 141 193 150 184 159 182 168 183 231 163 556 158 584ZM495 426 731 437 733 441 744 576 742 585 498 575 494 573 493 430ZM713 239 717 243 728 391 726 399 497 390 494 388 492 235 494 232ZM218 412 444 423 446 427 447 568 445 572 213 561 209 559 216 416ZM441 228 445 232 446 383 444 386 223 377 220 375 227 225 229 222Z"/><path transform="translate(85.8,0) scale(0.029,-0.029)" d="M43 367 67 363 97 362 484 383 486 387 485 394 474 433 460 473 444 505 444 512 457 521 476 527 485 523 493 507 498 507 541 540 605 596 655 649 683 686 679 690 265 660 251 663 238 675 227 690 221 706 238 702 260 701 721 734 737 729 756 716 762 707 759 697 742 683 707 643 634 571 556 503 512 468 531 389 538 387 847 404 874 407 914 415 930 410 945 398 957 385 962 374 959 370 948 367 539 344 538 341 547 269 553 189 555 102 552 11 547 -27 541 -57 532 -78 522 -89 510 -93 494 -91 473 -83 418 -52 326 16 297 43 282 63 310 52 375 18 453 -18 479 -28 487 -28 494 -24 498 -14 504 33 508 152 505 248 499 307 493 341 83 321 71 323 61 333 49 349Z"/></g>
<rect x="0.5" y="0.5" width="803" height="418" fill="none" stroke="#c4c4c4" stroke-width="1" stroke-dasharray="2 1"/>
</svg></body></html>
